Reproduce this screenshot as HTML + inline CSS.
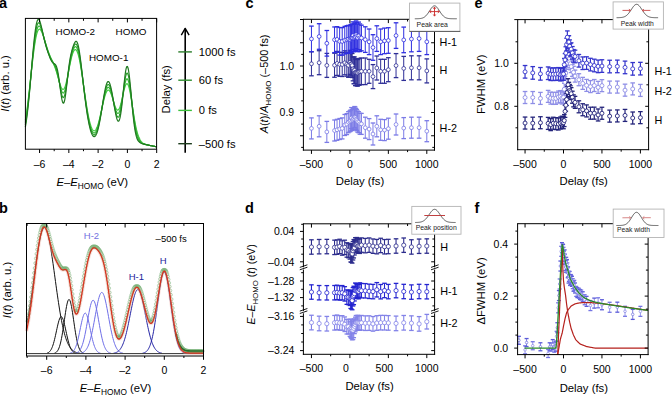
<!DOCTYPE html>
<html><head><meta charset="utf-8"><style>
html,body{margin:0;padding:0;background:#fff;}
svg{display:block;}
text{font-family:"Liberation Sans", sans-serif;}
</style></head><body>
<svg width="672" height="395" viewBox="0 0 672 395">
<rect width="672" height="395" fill="#fff"/>
<text x="-1.00" y="7.90" font-size="14.5" text-anchor="start" font-weight="bold" fill="#000">a</text>
<text x="-1.00" y="212.90" font-size="14.5" text-anchor="start" font-weight="bold" fill="#000">b</text>
<text x="245.40" y="8.00" font-size="14.5" text-anchor="start" font-weight="bold" fill="#000">c</text>
<text x="244.90" y="212.70" font-size="14.5" text-anchor="start" font-weight="bold" fill="#000">d</text>
<text x="474.60" y="7.60" font-size="14.5" text-anchor="start" font-weight="bold" fill="#000">e</text>
<text x="474.40" y="212.70" font-size="14.5" text-anchor="start" font-weight="bold" fill="#000">f</text>
<polyline points="25.36,120.27 25.73,118.06 26.09,115.71 26.46,113.25 26.82,110.67 27.19,107.97 27.56,105.16 27.92,102.25 28.29,99.25 28.65,96.16 29.02,92.99 29.39,89.76 29.75,86.48 30.12,83.16 30.48,79.82 30.85,76.46 31.22,73.12 31.58,69.79 31.95,66.51 32.31,63.28 32.68,60.12 33.05,57.05 33.41,54.09 33.78,51.24 34.14,48.52 34.51,45.96 34.88,43.55 35.24,41.31 35.61,39.24 35.97,37.36 36.34,35.68 36.71,34.18 37.07,32.89 37.44,31.79 37.80,30.88 38.17,30.18 38.54,29.66 38.90,29.32 39.27,29.16 39.63,29.17 40.00,29.33 40.37,29.64 40.73,30.09 41.10,30.66 41.46,31.35 41.83,32.13 42.20,33.00 42.56,33.95 42.93,34.97 43.29,36.03 43.66,37.14 44.03,38.29 44.39,39.45 44.76,40.63 45.12,41.82 45.49,43.01 45.86,44.18 46.22,45.35 46.59,46.50 46.95,47.63 47.32,48.74 47.69,49.82 48.05,50.86 48.42,51.88 48.78,52.87 49.15,53.83 49.52,54.76 49.88,55.66 50.25,56.53 50.61,57.38 50.98,58.21 51.35,59.03 51.71,59.83 52.08,60.63 52.44,61.43 52.81,62.23 53.18,63.05 53.54,63.88 53.91,64.74 54.27,65.63 54.64,66.55 55.01,67.52 55.37,68.53 55.74,69.59 56.10,70.69 56.47,71.84 56.84,73.04 57.20,74.27 57.57,75.54 57.93,76.83 58.30,78.13 58.67,79.44 59.03,80.73 59.40,81.99 59.76,83.21 60.13,84.37 60.50,85.44 60.86,86.42 61.23,87.28 61.59,88.01 61.96,88.60 62.33,89.03 62.69,89.29 63.06,89.37 63.42,89.26 63.79,88.97 64.16,88.50 64.52,87.84 64.89,86.99 65.25,85.98 65.62,84.81 65.99,83.50 66.35,82.05 66.72,80.48 67.08,78.82 67.45,77.08 67.82,75.27 68.18,73.42 68.55,71.55 68.91,69.67 69.28,67.81 69.65,65.97 70.01,64.17 70.38,62.43 70.74,60.76 71.11,59.18 71.48,57.68 71.84,56.29 72.21,55.01 72.57,53.85 72.94,52.81 73.31,51.91 73.67,51.14 74.04,50.52 74.40,50.05 74.77,49.73 75.14,49.56 75.50,49.56 75.87,49.71 76.23,50.03 76.60,50.51 76.97,51.16 77.33,51.97 77.70,52.95 78.06,54.08 78.43,55.37 78.80,56.81 79.16,58.40 79.53,60.12 79.89,61.98 80.26,63.95 80.63,66.04 80.99,68.23 81.36,70.51 81.72,72.86 82.09,75.28 82.46,77.76 82.82,80.27 83.19,82.82 83.55,85.38 83.92,87.94 84.29,90.50 84.65,93.05 85.02,95.56 85.38,98.04 85.75,100.47 86.12,102.84 86.48,105.15 86.85,107.39 87.21,109.55 87.58,111.63 87.95,113.62 88.31,115.52 88.68,117.32 89.04,119.02 89.41,120.61 89.78,122.10 90.14,123.47 90.51,124.73 90.87,125.87 91.24,126.90 91.61,127.81 91.97,128.60 92.34,129.27 92.70,129.82 93.07,130.25 93.44,130.55 93.80,130.73 94.17,130.79 94.53,130.73 94.90,130.54 95.27,130.24 95.63,129.82 96.00,129.28 96.36,128.63 96.73,127.87 97.10,127.01 97.46,126.04 97.83,124.97 98.19,123.81 98.56,122.56 98.93,121.23 99.29,119.82 99.66,118.35 100.02,116.83 100.39,115.25 100.76,113.64 101.12,111.99 101.49,110.33 101.85,108.67 102.22,107.00 102.59,105.36 102.95,103.74 103.32,102.17 103.68,100.64 104.05,99.18 104.42,97.80 104.78,96.50 105.15,95.30 105.51,94.20 105.88,93.22 106.25,92.36 106.61,91.63 106.98,91.04 107.34,90.59 107.71,90.28 108.08,90.11 108.44,90.09 108.81,90.21 109.17,90.47 109.54,90.87 109.91,91.40 110.27,92.05 110.64,92.81 111.00,93.68 111.37,94.63 111.74,95.67 112.10,96.77 112.47,97.93 112.83,99.11 113.20,100.32 113.57,101.53 113.93,102.72 114.30,103.87 114.66,104.98 115.03,106.02 115.40,106.97 115.76,107.82 116.13,108.55 116.49,109.16 116.86,109.62 117.23,109.93 117.59,110.07 117.96,110.05 118.32,109.85 118.69,109.48 119.06,108.93 119.42,108.21 119.79,107.32 120.15,106.28 120.52,105.09 120.89,103.78 121.25,102.35 121.62,100.82 121.98,99.23 122.35,97.59 122.72,95.93 123.08,94.27 123.45,92.64 123.81,91.08 124.18,89.60 124.55,88.23 124.91,87.00 125.28,85.93 125.64,85.05 126.01,84.36 126.38,83.89 126.74,83.65 127.11,83.65 127.47,83.89 127.84,84.37 128.21,85.10 128.57,86.06 128.94,87.25 129.30,88.65 129.67,90.26 130.04,92.04 130.40,93.99 130.77,96.08 131.13,98.28 131.50,100.58 131.87,102.94 132.23,105.27 132.60,107.63 132.96,110.00 133.33,112.34 133.70,114.65 134.06,116.90 134.43,119.08 134.79,121.17 135.16,123.17 135.53,125.07 135.89,126.86 136.26,128.53 136.62,130.08 136.99,131.51 137.36,132.82 137.72,134.02 138.09,135.10 138.45,136.07 138.82,136.94 139.19,137.74 139.55,138.57 139.92,139.32 140.28,139.98 140.65,140.58 141.02,141.10 141.38,141.57 141.75,141.98 142.11,142.35 142.48,142.67 142.85,142.96 143.21,143.21 143.58,143.44 143.94,143.64 144.31,143.82 144.68,143.98 145.04,144.13 145.41,144.26 145.77,144.38 146.14,144.50 146.51,144.60 146.87,144.70 147.24,144.80 147.60,144.89 147.97,144.98 148.34,145.06 148.70,145.15 149.07,145.23 149.43,145.31 149.80,145.39 150.17,145.47 150.53,145.54 150.90,145.62 151.26,145.70 151.63,145.77 152.00,145.85 152.36,145.92 152.73,146.00 153.09,146.07 153.46,146.15 153.83,146.22 154.19,146.30 154.56,146.37 154.92,146.45 155.29,146.52 155.66,146.60 156.02,146.67 156.39,146.75" fill="none" stroke="#44cc44" stroke-width="1.2" stroke-linejoin="round"/>
<polyline points="25.36,122.57 25.73,120.35 26.09,117.99 26.46,115.48 26.82,112.83 27.19,110.05 27.56,107.13 27.92,104.09 28.29,100.92 28.65,97.65 29.02,94.28 29.39,90.82 29.75,87.29 30.12,83.71 30.48,80.08 30.85,76.43 31.22,72.78 31.58,69.14 31.95,65.54 32.31,62.00 32.68,58.53 33.05,55.16 33.41,51.90 33.78,48.78 34.14,45.82 34.51,43.02 34.88,40.41 35.24,37.99 35.61,35.79 35.97,33.80 36.34,32.04 36.71,30.50 37.07,29.20 37.44,28.13 37.80,27.29 38.17,26.68 38.54,26.29 38.90,26.10 39.27,26.11 39.63,26.32 40.00,26.69 40.37,27.23 40.73,27.90 41.10,28.71 41.46,29.64 41.83,30.65 42.20,31.76 42.56,32.93 42.93,34.15 43.29,35.41 43.66,36.71 44.03,38.02 44.39,39.33 44.76,40.65 45.12,41.95 45.49,43.24 45.86,44.51 46.22,45.76 46.59,46.97 46.95,48.15 47.32,49.29 47.69,50.40 48.05,51.47 48.42,52.50 48.78,53.49 49.15,54.44 49.52,55.35 49.88,56.22 50.25,57.05 50.61,57.84 50.98,58.60 51.35,59.33 51.71,60.03 52.08,60.72 52.44,61.39 52.81,62.06 53.18,62.74 53.54,63.43 53.91,64.14 54.27,64.90 54.64,65.70 55.01,66.56 55.37,67.49 55.74,68.49 56.10,69.58 56.47,70.75 56.84,72.00 57.20,73.34 57.57,74.76 57.93,76.25 58.30,77.80 58.67,79.39 59.03,81.00 59.40,82.61 59.76,84.20 60.13,85.74 60.50,87.20 60.86,88.55 61.23,89.77 61.59,90.83 61.96,91.70 62.33,92.37 62.69,92.82 63.06,93.03 63.42,92.99 63.79,92.70 64.16,92.16 64.52,91.38 64.89,90.35 65.25,89.11 65.62,87.65 65.99,86.02 66.35,84.22 66.72,82.28 67.08,80.24 67.45,78.11 67.82,75.92 68.18,73.71 68.55,71.49 68.91,69.29 69.28,67.12 69.65,65.01 70.01,62.97 70.38,61.02 70.74,59.16 71.11,57.41 71.48,55.77 71.84,54.25 72.21,52.86 72.57,51.60 72.94,50.47 73.31,49.48 73.67,48.63 74.04,47.93 74.40,47.38 74.77,46.98 75.14,46.75 75.50,46.69 75.87,46.79 76.23,47.07 76.60,47.54 76.97,48.18 77.33,49.01 77.70,50.02 78.06,51.21 78.43,52.58 78.80,54.13 79.16,55.85 79.53,57.72 79.89,59.75 80.26,61.91 80.63,64.21 80.99,66.61 81.36,69.11 81.72,71.70 82.09,74.36 82.46,77.07 82.82,79.82 83.19,82.59 83.55,85.37 83.92,88.14 84.29,90.90 84.65,93.63 85.02,96.32 85.38,98.95 85.75,101.53 86.12,104.04 86.48,106.47 86.85,108.82 87.21,111.08 87.58,113.24 87.95,115.31 88.31,117.27 88.68,119.13 89.04,120.88 89.41,122.52 89.78,124.05 90.14,125.46 90.51,126.75 90.87,127.92 91.24,128.97 91.61,129.90 91.97,130.71 92.34,131.39 92.70,131.95 93.07,132.38 93.44,132.69 93.80,132.87 94.17,132.92 94.53,132.85 94.90,132.65 95.27,132.33 95.63,131.88 96.00,131.31 96.36,130.61 96.73,129.80 97.10,128.87 97.46,127.82 97.83,126.67 98.19,125.41 98.56,124.05 98.93,122.60 99.29,121.06 99.66,119.44 100.02,117.75 100.39,116.01 100.76,114.21 101.12,112.37 101.49,110.51 101.85,108.63 102.22,106.75 102.59,104.88 102.95,103.04 103.32,101.24 103.68,99.50 104.05,97.82 104.42,96.23 104.78,94.73 105.15,93.34 105.51,92.08 105.88,90.94 106.25,89.95 106.61,89.11 106.98,88.43 107.34,87.91 107.71,87.56 108.08,87.39 108.44,87.38 108.81,87.55 109.17,87.89 109.54,88.40 109.91,89.06 110.27,89.87 110.64,90.82 111.00,91.90 111.37,93.09 111.74,94.39 112.10,95.77 112.47,97.22 112.83,98.71 113.20,100.24 113.57,101.77 113.93,103.29 114.30,104.78 114.66,106.22 115.03,107.58 115.40,108.84 115.76,109.99 116.13,111.01 116.49,111.86 116.86,112.55 117.23,113.05 117.59,113.35 117.96,113.43 118.32,113.30 118.69,112.94 119.06,112.35 119.42,111.53 119.79,110.49 120.15,109.23 120.52,107.78 120.89,106.13 121.25,104.33 121.62,102.38 121.98,100.32 122.35,98.18 122.72,95.98 123.08,93.78 123.45,91.60 123.81,89.48 124.18,87.46 124.55,85.57 124.91,83.86 125.28,82.36 125.64,81.09 126.01,80.08 126.38,79.36 126.74,78.94 127.11,78.83 127.47,79.05 127.84,79.59 128.21,80.45 128.57,81.61 128.94,83.07 129.30,84.80 129.67,86.79 130.04,88.99 130.40,91.39 130.77,93.95 131.13,96.64 131.50,99.43 131.87,102.26 132.23,105.05 132.60,107.85 132.96,110.61 133.33,113.32 133.70,115.95 134.06,118.48 134.43,120.90 134.79,123.18 135.16,125.32 135.53,127.32 135.89,129.16 136.26,130.85 136.62,132.39 136.99,133.78 137.36,135.02 137.72,136.13 138.09,137.10 138.45,137.96 138.82,138.70 139.19,139.36 139.55,140.06 139.92,140.67 140.28,141.20 140.65,141.67 141.02,142.07 141.38,142.43 141.75,142.74 142.11,143.01 142.48,143.24 142.85,143.45 143.21,143.63 143.58,143.79 143.94,143.94 144.31,144.07 144.68,144.19 145.04,144.30 145.41,144.40 145.77,144.50 146.14,144.59 146.51,144.68 146.87,144.77 147.24,144.85 147.60,144.93 147.97,145.01 148.34,145.09 148.70,145.17 149.07,145.24 149.43,145.32 149.80,145.40 150.17,145.47 150.53,145.55 150.90,145.62 151.26,145.70 151.63,145.77 152.00,145.85 152.36,145.92 152.73,146.00 153.09,146.07 153.46,146.15 153.83,146.22 154.19,146.30 154.56,146.37 154.92,146.45 155.29,146.52 155.66,146.60 156.02,146.67 156.39,146.75" fill="none" stroke="#36b836" stroke-width="1.2" stroke-linejoin="round"/>
<polyline points="25.36,124.89 25.73,122.70 26.09,120.34 26.46,117.82 26.82,115.13 27.19,112.29 27.56,109.28 27.92,106.12 28.29,102.81 28.65,99.37 29.02,95.80 29.39,92.11 29.75,88.33 30.12,84.47 30.48,80.55 30.85,76.59 31.22,72.61 31.58,68.64 31.95,64.69 32.31,60.80 32.68,56.99 33.05,53.28 33.41,49.70 33.78,46.27 34.14,43.02 34.51,39.96 34.88,37.12 35.24,34.51 35.61,32.14 35.97,30.03 36.34,28.19 36.71,26.62 37.07,25.33 37.44,24.31 37.80,23.56 38.17,23.07 38.54,22.83 38.90,22.84 39.27,23.07 39.63,23.51 40.00,24.15 40.37,24.95 40.73,25.91 41.10,26.99 41.46,28.19 41.83,29.47 42.20,30.83 42.56,32.24 42.93,33.68 43.29,35.14 43.66,36.61 44.03,38.07 44.39,39.51 44.76,40.94 45.12,42.33 45.49,43.69 45.86,45.01 46.22,46.29 46.59,47.53 46.95,48.74 47.32,49.90 47.69,51.02 48.05,52.11 48.42,53.15 48.78,54.15 49.15,55.11 49.52,56.02 49.88,56.89 50.25,57.71 50.61,58.48 50.98,59.20 51.35,59.87 51.71,60.49 52.08,61.07 52.44,61.62 52.81,62.13 53.18,62.62 53.54,63.11 53.91,63.61 54.27,64.14 54.64,64.72 55.01,65.36 55.37,66.09 55.74,66.93 56.10,67.89 56.47,68.99 56.84,70.23 57.20,71.62 57.57,73.16 57.93,74.85 58.30,76.67 58.67,78.61 59.03,80.63 59.40,82.70 59.76,84.79 60.13,86.86 60.50,88.87 60.86,90.76 61.23,92.50 61.59,94.04 61.96,95.35 62.33,96.37 62.69,97.10 63.06,97.49 63.42,97.55 63.79,97.25 64.16,96.61 64.52,95.62 64.89,94.32 65.25,92.71 65.62,90.84 65.99,88.73 66.35,86.44 66.72,83.99 67.08,81.43 67.45,78.80 67.82,76.14 68.18,73.49 68.55,70.89 68.91,68.35 69.28,65.90 69.65,63.56 70.01,61.35 70.38,59.26 70.74,57.31 71.11,55.50 71.48,53.82 71.84,52.28 72.21,50.86 72.57,49.57 72.94,48.41 73.31,47.37 73.67,46.46 74.04,45.68 74.40,45.03 74.77,44.53 75.14,44.19 75.50,44.01 75.87,44.01 76.23,44.19 76.60,44.57 76.97,45.16 77.33,45.96 77.70,46.97 78.06,48.21 78.43,49.65 78.80,51.31 79.16,53.17 79.53,55.22 79.89,57.44 80.26,59.83 80.63,62.37 80.99,65.03 81.36,67.80 81.72,70.65 82.09,73.57 82.46,76.54 82.82,79.54 83.19,82.55 83.55,85.55 83.92,88.53 84.29,91.48 84.65,94.38 85.02,97.22 85.38,100.00 85.75,102.70 86.12,105.31 86.48,107.83 86.85,110.26 87.21,112.59 87.58,114.82 87.95,116.94 88.31,118.95 88.68,120.85 89.04,122.63 89.41,124.30 89.78,125.85 90.14,127.28 90.51,128.60 90.87,129.79 91.24,130.86 91.61,131.80 91.97,132.62 92.34,133.32 92.70,133.89 93.07,134.33 93.44,134.65 93.80,134.83 94.17,134.89 94.53,134.82 94.90,134.62 95.27,134.29 95.63,133.83 96.00,133.24 96.36,132.52 96.73,131.67 97.10,130.70 97.46,129.60 97.83,128.38 98.19,127.04 98.56,125.59 98.93,124.04 99.29,122.38 99.66,120.63 100.02,118.79 100.39,116.88 100.76,114.90 101.12,112.88 101.49,110.81 101.85,108.72 102.22,106.61 102.59,104.51 102.95,102.44 103.32,100.40 103.68,98.42 104.05,96.50 104.42,94.68 104.78,92.96 105.15,91.36 105.51,89.90 105.88,88.59 106.25,87.45 106.61,86.48 106.98,85.69 107.34,85.09 107.71,84.70 108.08,84.50 108.44,84.51 108.81,84.72 109.17,85.13 109.54,85.74 109.91,86.53 110.27,87.51 110.64,88.65 111.00,89.95 111.37,91.38 111.74,92.94 112.10,94.60 112.47,96.35 112.83,98.16 113.20,100.02 113.57,101.89 113.93,103.76 114.30,105.60 114.66,107.39 115.03,109.10 115.40,110.72 115.76,112.20 116.13,113.53 116.49,114.70 116.86,115.66 117.23,116.41 117.59,116.92 117.96,117.18 118.32,117.17 118.69,116.89 119.06,116.32 119.42,115.45 119.79,114.30 120.15,112.86 120.52,111.15 120.89,109.18 121.25,106.97 121.62,104.56 121.98,101.97 122.35,99.24 122.72,96.42 123.08,93.56 123.45,90.69 123.81,87.88 124.18,85.17 124.55,82.63 124.91,80.30 125.28,78.23 125.64,76.46 126.01,75.04 126.38,74.00 126.74,73.35 127.11,73.13 127.47,73.33 127.84,73.96 128.21,75.02 128.57,76.47 128.94,78.31 129.30,80.50 129.67,83.00 130.04,85.77 130.40,88.77 130.77,91.94 131.13,95.25 131.50,98.64 131.87,102.05 132.23,105.39 132.60,108.68 132.96,111.89 133.33,114.98 133.70,117.94 134.06,120.73 134.43,123.34 134.79,125.75 135.16,127.98 135.53,130.00 135.89,131.82 136.26,133.45 136.62,134.90 136.99,136.17 137.36,137.27 137.72,138.22 138.09,139.03 138.45,139.71 138.82,140.28 139.19,140.78 139.55,141.32 139.92,141.78 140.28,142.17 140.65,142.51 141.02,142.79 141.38,143.04 141.75,143.25 142.11,143.44 142.48,143.60 142.85,143.75 143.21,143.88 143.58,143.99 143.94,144.10 144.31,144.20 144.68,144.30 145.04,144.38 145.41,144.47 145.77,144.55 146.14,144.63 146.51,144.71 146.87,144.79 147.24,144.87 147.60,144.95 147.97,145.02 148.34,145.10 148.70,145.17 149.07,145.25 149.43,145.32 149.80,145.40 150.17,145.47 150.53,145.55 150.90,145.62 151.26,145.70 151.63,145.77 152.00,145.85 152.36,145.92 152.73,146.00 153.09,146.07 153.46,146.15 153.83,146.22 154.19,146.30 154.56,146.37 154.92,146.45 155.29,146.52 155.66,146.60 156.02,146.67 156.39,146.75" fill="none" stroke="#2aa02a" stroke-width="1.2" stroke-linejoin="round"/>
<polyline points="25.36,127.16 25.73,125.02 26.09,122.70 26.46,120.19 26.82,117.50 27.19,114.62 27.56,111.55 27.92,108.30 28.29,104.87 28.65,101.27 29.02,97.52 29.39,93.62 29.75,89.60 30.12,85.47 30.48,81.25 30.85,76.97 31.22,72.65 31.58,68.31 31.95,64.00 32.31,59.73 32.68,55.55 33.05,51.47 33.41,47.53 33.78,43.76 34.14,40.18 34.51,36.83 34.88,33.73 35.24,30.90 35.61,28.36 35.97,26.12 36.34,24.20 36.71,22.59 37.07,21.31 37.44,20.35 37.80,19.71 38.17,19.38 38.54,19.34 38.90,19.58 39.27,20.07 39.63,20.80 40.00,21.75 40.37,22.87 40.73,24.15 41.10,25.56 41.46,27.07 41.83,28.65 42.20,30.29 42.56,31.95 42.93,33.62 43.29,35.27 43.66,36.90 44.03,38.49 44.39,40.02 44.76,41.51 45.12,42.94 45.49,44.31 45.86,45.62 46.22,46.88 46.59,48.10 46.95,49.27 47.32,50.40 47.69,51.50 48.05,52.58 48.42,53.63 48.78,54.65 49.15,55.64 49.52,56.61 49.88,57.53 50.25,58.42 50.61,59.24 50.98,60.01 51.35,60.70 51.71,61.32 52.08,61.86 52.44,62.31 52.81,62.69 53.18,62.99 53.54,63.24 53.91,63.45 54.27,63.65 54.64,63.87 55.01,64.14 55.37,64.50 55.74,64.99 56.10,65.64 56.47,66.49 56.84,67.57 57.20,68.90 57.57,70.48 57.93,72.33 58.30,74.43 58.67,76.76 59.03,79.29 59.40,81.97 59.76,84.75 60.13,87.56 60.50,90.34 60.86,93.02 61.23,95.51 61.59,97.76 61.96,99.69 62.33,101.24 62.69,102.37 63.06,103.04 63.42,103.22 63.79,102.89 64.16,102.07 64.52,100.77 64.89,99.03 65.25,96.87 65.62,94.36 65.99,91.56 66.35,88.54 66.72,85.36 67.08,82.08 67.45,78.79 67.82,75.54 68.18,72.37 68.55,69.35 68.91,66.49 69.28,63.83 69.65,61.38 70.01,59.13 70.38,57.09 70.74,55.24 71.11,53.56 71.48,52.03 71.84,50.62 72.21,49.33 72.57,48.13 72.94,47.01 73.31,45.96 73.67,44.98 74.04,44.08 74.40,43.28 74.77,42.58 75.14,42.02 75.50,41.61 75.87,41.38 76.23,41.35 76.60,41.55 76.97,42.00 77.33,42.71 77.70,43.69 78.06,44.95 78.43,46.47 78.80,48.26 79.16,50.31 79.53,52.58 79.89,55.07 80.26,57.75 80.63,60.59 80.99,63.57 81.36,66.65 81.72,69.81 82.09,73.03 82.46,76.28 82.82,79.53 83.19,82.78 83.55,85.99 83.92,89.16 84.29,92.27 84.65,95.31 85.02,98.27 85.38,101.14 85.75,103.92 86.12,106.61 86.48,109.19 86.85,111.67 87.21,114.04 87.58,116.30 87.95,118.45 88.31,120.49 88.68,122.41 89.04,124.21 89.41,125.90 89.78,127.47 90.14,128.92 90.51,130.24 90.87,131.45 91.24,132.53 91.61,133.49 91.97,134.32 92.34,135.02 92.70,135.61 93.07,136.06 93.44,136.39 93.80,136.58 94.17,136.65 94.53,136.59 94.90,136.40 95.27,136.07 95.63,135.61 96.00,135.02 96.36,134.29 96.73,133.43 97.10,132.44 97.46,131.31 97.83,130.05 98.19,128.66 98.56,127.14 98.93,125.50 99.29,123.75 99.66,121.88 100.02,119.92 100.39,117.86 100.76,115.72 101.12,113.51 101.49,111.25 101.85,108.94 102.22,106.61 102.59,104.28 102.95,101.96 103.32,99.67 103.68,97.43 104.05,95.27 104.42,93.20 104.78,91.24 105.15,89.42 105.51,87.75 105.88,86.24 106.25,84.92 106.61,83.80 106.98,82.90 107.34,82.21 107.71,81.75 108.08,81.53 108.44,81.54 108.81,81.79 109.17,82.28 109.54,82.99 109.91,83.92 110.27,85.06 110.64,86.39 111.00,87.90 111.37,89.58 111.74,91.40 112.10,93.34 112.47,95.39 112.83,97.51 113.20,99.69 113.57,101.89 113.93,104.10 114.30,106.29 114.66,108.42 115.03,110.49 115.40,112.45 115.76,114.28 116.13,115.95 116.49,117.45 116.86,118.73 117.23,119.78 117.59,120.56 117.96,121.07 118.32,121.27 118.69,121.14 119.06,120.67 119.42,119.85 119.79,118.67 120.15,117.12 120.52,115.21 120.89,112.96 121.25,110.38 121.62,107.50 121.98,104.35 122.35,100.98 122.72,97.44 123.08,93.79 123.45,90.10 123.81,86.44 124.18,82.88 124.55,79.49 124.91,76.36 125.28,73.56 125.64,71.14 126.01,69.17 126.38,67.70 126.74,66.77 127.11,66.40 127.47,66.61 127.84,67.39 128.21,68.73 128.57,70.61 128.94,72.98 129.30,75.79 129.67,78.99 130.04,82.51 130.40,86.29 130.77,90.25 131.13,94.33 131.50,98.46 131.87,102.55 132.23,106.51 132.60,110.34 132.96,114.00 133.33,117.46 133.70,120.69 134.06,123.67 134.43,126.39 134.79,128.85 135.16,131.05 135.53,132.99 135.89,134.69 136.26,136.16 136.62,137.41 136.99,138.48 137.36,139.37 137.72,140.10 138.09,140.70 138.45,141.18 138.82,141.56 139.19,141.88 139.55,142.26 139.92,142.57 140.28,142.83 140.65,143.06 141.02,143.25 141.38,143.41 141.75,143.55 142.11,143.68 142.48,143.79 142.85,143.90 143.21,143.99 143.58,144.09 143.94,144.17 144.31,144.26 144.68,144.34 145.04,144.42 145.41,144.49 145.77,144.57 146.14,144.65 146.51,144.72 146.87,144.80 147.24,144.87 147.60,144.95 147.97,145.02 148.34,145.10 148.70,145.17 149.07,145.25 149.43,145.32 149.80,145.40 150.17,145.47 150.53,145.55 150.90,145.62 151.26,145.70 151.63,145.77 152.00,145.85 152.36,145.92 152.73,146.00 153.09,146.07 153.46,146.15 153.83,146.22 154.19,146.30 154.56,146.37 154.92,146.45 155.29,146.52 155.66,146.60 156.02,146.67 156.39,146.75" fill="none" stroke="#207a20" stroke-width="1.2" stroke-linejoin="round"/>
<rect x="25.4" y="18.4" width="131.20" height="130.80" fill="none" stroke="#000" stroke-width="1.0"/>
<line x1="39.56" y1="149.20" x2="39.56" y2="153.00" stroke="#000" stroke-width="1.0"/>
<line x1="39.56" y1="18.40" x2="39.56" y2="22.40" stroke="#000" stroke-width="1.0"/>
<text x="39.56" y="167.70" font-size="10.5" text-anchor="middle" font-weight="normal" fill="#000">–6</text>
<line x1="54.20" y1="149.20" x2="54.20" y2="151.20" stroke="#000" stroke-width="1.0"/>
<line x1="54.20" y1="18.40" x2="54.20" y2="20.80" stroke="#000" stroke-width="1.0"/>
<line x1="68.84" y1="149.20" x2="68.84" y2="153.00" stroke="#000" stroke-width="1.0"/>
<line x1="68.84" y1="18.40" x2="68.84" y2="22.40" stroke="#000" stroke-width="1.0"/>
<text x="68.84" y="167.70" font-size="10.5" text-anchor="middle" font-weight="normal" fill="#000">–4</text>
<line x1="83.48" y1="149.20" x2="83.48" y2="151.20" stroke="#000" stroke-width="1.0"/>
<line x1="83.48" y1="18.40" x2="83.48" y2="20.80" stroke="#000" stroke-width="1.0"/>
<line x1="98.12" y1="149.20" x2="98.12" y2="153.00" stroke="#000" stroke-width="1.0"/>
<line x1="98.12" y1="18.40" x2="98.12" y2="22.40" stroke="#000" stroke-width="1.0"/>
<text x="98.12" y="167.70" font-size="10.5" text-anchor="middle" font-weight="normal" fill="#000">–2</text>
<line x1="112.76" y1="149.20" x2="112.76" y2="151.20" stroke="#000" stroke-width="1.0"/>
<line x1="112.76" y1="18.40" x2="112.76" y2="20.80" stroke="#000" stroke-width="1.0"/>
<line x1="127.40" y1="149.20" x2="127.40" y2="153.00" stroke="#000" stroke-width="1.0"/>
<line x1="127.40" y1="18.40" x2="127.40" y2="22.40" stroke="#000" stroke-width="1.0"/>
<text x="127.40" y="167.70" font-size="10.5" text-anchor="middle" font-weight="normal" fill="#000">0</text>
<line x1="142.04" y1="149.20" x2="142.04" y2="151.20" stroke="#000" stroke-width="1.0"/>
<line x1="142.04" y1="18.40" x2="142.04" y2="20.80" stroke="#000" stroke-width="1.0"/>
<line x1="156.68" y1="149.20" x2="156.68" y2="153.00" stroke="#000" stroke-width="1.0"/>
<line x1="156.68" y1="18.40" x2="156.68" y2="22.40" stroke="#000" stroke-width="1.0"/>
<text x="156.68" y="167.70" font-size="10.5" text-anchor="middle" font-weight="normal" fill="#000">2</text>
<text x="92.30" y="185.80" font-size="11.3" text-anchor="middle" font-weight="normal" fill="#000"><tspan font-style="italic">E</tspan>–<tspan font-style="italic">E</tspan><tspan font-size="8.3" dy="2.9">HOMO</tspan><tspan dy="-2.9"> (eV)</tspan></text>
<text x="8.70" y="83.40" font-size="11.3" text-anchor="middle" font-weight="normal" fill="#000" transform="rotate(-90 8.70 83.40)"><tspan font-style="italic">I</tspan>(<tspan font-style="italic">t</tspan>) (arb. u.)</text>
<text x="55.50" y="34.70" font-size="9.9" text-anchor="start" font-weight="normal" fill="#000">HOMO-2</text>
<text x="115.60" y="34.80" font-size="9.9" text-anchor="start" font-weight="normal" fill="#000">HOMO</text>
<text x="88.90" y="60.60" font-size="9.9" text-anchor="start" font-weight="normal" fill="#000">HOMO-1</text>
<line x1="185.20" y1="28.60" x2="185.20" y2="152.80" stroke="#000" stroke-width="1.6"/>
<polyline points="181.30,35.20 185.20,28.40 189.10,35.20" fill="none" stroke="#000" stroke-width="1.4" stroke-linejoin="round"/>
<line x1="178.30" y1="51.90" x2="191.90" y2="51.90" stroke="#2b7d2b" stroke-width="1.4"/>
<text x="198.80" y="55.80" font-size="11.2" text-anchor="start" font-weight="normal" fill="#000">1000 fs</text>
<line x1="178.30" y1="80.20" x2="191.90" y2="80.20" stroke="#2f8f2f" stroke-width="1.4"/>
<text x="198.80" y="84.10" font-size="11.2" text-anchor="start" font-weight="normal" fill="#000">60 fs</text>
<line x1="178.30" y1="110.40" x2="191.90" y2="110.40" stroke="#3cc03c" stroke-width="1.4"/>
<text x="198.80" y="114.30" font-size="11.2" text-anchor="start" font-weight="normal" fill="#000">0 fs</text>
<line x1="178.30" y1="143.70" x2="191.90" y2="143.70" stroke="#1c3c1c" stroke-width="1.4"/>
<text x="198.80" y="147.60" font-size="11.2" text-anchor="start" font-weight="normal" fill="#000">–500 fs</text>
<text x="169.90" y="89.30" font-size="11.3" text-anchor="middle" font-weight="normal" fill="#000" transform="rotate(-90 169.90 89.30)">Delay (fs)</text>
<polyline points="26.50,325.42 27.00,323.01 27.50,320.47 28.00,317.81 28.50,315.02 29.00,312.10 29.50,309.07 30.00,305.93 30.50,302.68 31.00,299.34 31.50,295.91 32.00,292.41 32.50,288.85 33.00,285.23 33.50,281.58 34.00,277.91 34.50,274.24 35.00,270.58 35.50,266.95 36.00,263.38 36.50,259.87 37.00,256.45 37.50,253.14 38.00,249.96 38.50,246.92 39.00,244.04 39.50,241.35 40.00,238.86 40.50,236.58 41.00,234.54 41.50,232.73 42.00,231.19 42.50,229.91 43.00,228.90 43.50,228.18 44.00,227.75 44.50,227.60 45.00,227.75 45.50,228.18 46.00,228.90 46.50,229.91 47.00,231.19 47.50,232.73 48.00,234.54 48.50,236.58 49.00,238.86 49.50,241.35 50.00,244.04 50.50,246.92 51.00,249.96 51.50,253.14 52.00,256.45 52.50,259.87 53.00,263.38 53.50,266.95 54.00,270.58 54.50,274.24 55.00,277.91 55.50,281.58 56.00,285.23 56.50,288.85 57.00,292.41 57.50,295.91 58.00,299.34 58.50,302.68 59.00,305.93 59.50,309.07 60.00,312.10 60.50,315.02 61.00,317.81 61.50,320.47 62.00,323.01 62.50,325.42 63.00,327.70 63.50,329.85 64.00,331.87 64.50,333.77 65.00,335.54 65.50,337.19 66.00,338.73 66.50,340.15 67.00,341.47 67.50,342.68 68.00,343.79 68.50,344.81 69.00,345.74 69.50,346.59 70.00,347.36 70.50,348.06 71.00,348.70 71.50,349.27 72.00,349.78 72.50,350.24 73.00,350.65 73.50,351.02 74.00,351.34 74.50,351.63 75.00,351.89 75.50,352.12 76.00,352.32 76.50,352.49 77.00,352.65 77.50,352.78 78.00,352.90 78.50,353.00 79.00,353.09 79.50,353.16 80.00,353.23" fill="none" stroke="#111" stroke-width="1.0" stroke-linejoin="round"/>
<polyline points="47.00,353.14 47.50,352.97 48.00,352.76 48.50,352.49 49.00,352.14 49.50,351.71 50.00,351.17 50.50,350.52 51.00,349.74 51.50,348.81 52.00,347.72 52.50,346.46 53.00,345.02 53.50,343.41 54.00,341.62 54.50,339.67 55.00,337.58 55.50,335.37 56.00,333.08 56.50,330.75 57.00,328.44 57.50,326.18 58.00,324.05 58.50,322.10 59.00,320.38 59.50,318.94 60.00,317.84 60.50,317.09 61.00,316.73 61.50,316.77 62.00,317.21 62.50,318.03 63.00,319.21 63.50,320.70 64.00,322.47 64.50,324.47 65.00,326.63 65.50,328.90 66.00,331.22 66.50,333.54 67.00,335.82 67.50,338.01 68.00,340.07 68.50,341.99 69.00,343.75 69.50,345.33 70.00,346.73 70.50,347.95 71.00,349.01 71.50,349.91 72.00,350.66 72.50,351.29 73.00,351.80 73.50,352.22 74.00,352.55 74.50,352.81 75.00,353.01 75.50,353.16" fill="none" stroke="#111" stroke-width="1.0" stroke-linejoin="round"/>
<polyline points="54.50,353.14 55.00,352.96 55.50,352.72 56.00,352.42 56.50,352.02 57.00,351.52 57.50,350.88 58.00,350.10 58.50,349.13 59.00,347.96 59.50,346.57 60.00,344.94 60.50,343.04 61.00,340.87 61.50,338.43 62.00,335.72 62.50,332.77 63.00,329.61 63.50,326.27 64.00,322.82 64.50,319.33 65.00,315.87 65.50,312.52 66.00,309.39 66.50,306.55 67.00,304.09 67.50,302.09 68.00,300.61 68.50,299.71 69.00,299.40 69.50,299.71 70.00,300.61 70.50,302.09 71.00,304.09 71.50,306.55 72.00,309.39 72.50,312.52 73.00,315.87 73.50,319.33 74.00,322.82 74.50,326.27 75.00,329.61 75.50,332.77 76.00,335.72 76.50,338.43 77.00,340.87 77.50,343.04 78.00,344.94 78.50,346.57 79.00,347.96 79.50,349.13 80.00,350.10 80.50,350.88 81.00,351.52 81.50,352.02 82.00,352.42 82.50,352.72 83.00,352.96 83.50,353.14" fill="none" stroke="#111" stroke-width="1.0" stroke-linejoin="round"/>
<polyline points="70.00,353.20 70.50,353.06 71.00,352.88 71.50,352.65 72.00,352.36 72.50,351.99 73.00,351.54 73.50,350.98 74.00,350.30 74.50,349.50 75.00,348.54 75.50,347.43 76.00,346.15 76.50,344.69 77.00,343.05 77.50,341.23 78.00,339.24 78.50,337.10 79.00,334.83 79.50,332.45 80.00,330.02 80.50,327.56 81.00,325.14 81.50,322.80 82.00,320.60 82.50,318.59 83.00,316.84 83.50,315.37 84.00,314.25 84.50,313.49 85.00,313.13 85.50,313.17 86.00,313.62 86.50,314.45 87.00,315.64 87.50,317.17 88.00,318.98 88.50,321.03 89.00,323.26 89.50,325.62 90.00,328.05 90.50,330.51 91.00,332.93 91.50,335.29 92.00,337.54 92.50,339.65 93.00,341.60 93.50,343.39 94.00,344.99 94.50,346.42 95.00,347.67 95.50,348.75 96.00,349.67 96.50,350.45 97.00,351.10 97.50,351.63 98.00,352.07 98.50,352.42 99.00,352.70 99.50,352.92 100.00,353.09 100.50,353.22" fill="none" stroke="#6e6ee8" stroke-width="1.0" stroke-linejoin="round"/>
<polyline points="75.50,353.18 76.00,353.05 76.50,352.89 77.00,352.68 77.50,352.42 78.00,352.10 78.50,351.71 79.00,351.23 79.50,350.65 80.00,349.97 80.50,349.16 81.00,348.21 81.50,347.11 82.00,345.85 82.50,344.41 83.00,342.79 83.50,340.99 84.00,339.00 84.50,336.83 85.00,334.49 85.50,331.99 86.00,329.35 86.50,326.61 87.00,323.79 87.50,320.92 88.00,318.07 88.50,315.26 89.00,312.56 89.50,310.01 90.00,307.66 90.50,305.57 91.00,303.76 91.50,302.30 92.00,301.20 92.50,300.50 93.00,300.21 93.50,300.33 94.00,300.87 94.50,301.81 95.00,303.14 95.50,304.81 96.00,306.79 96.50,309.04 97.00,311.52 97.50,314.17 98.00,316.94 98.50,319.78 99.00,322.64 99.50,325.49 100.00,328.27 100.50,330.95 101.00,333.51 101.50,335.92 102.00,338.16 102.50,340.22 103.00,342.10 103.50,343.79 104.00,345.29 104.50,346.63 105.00,347.79 105.50,348.80 106.00,349.66 106.50,350.39 107.00,351.01 107.50,351.53 108.00,351.95 108.50,352.30 109.00,352.58 109.50,352.81 110.00,352.99 110.50,353.13 111.00,353.25" fill="none" stroke="#6e6ee8" stroke-width="1.0" stroke-linejoin="round"/>
<polyline points="80.50,353.21 81.00,353.11 81.50,352.98 82.00,352.82 82.50,352.63 83.00,352.41 83.50,352.13 84.00,351.80 84.50,351.42 85.00,350.96 85.50,350.43 86.00,349.81 86.50,349.09 87.00,348.26 87.50,347.33 88.00,346.26 88.50,345.07 89.00,343.73 89.50,342.25 90.00,340.62 90.50,338.84 91.00,336.91 91.50,334.83 92.00,332.60 92.50,330.25 93.00,327.77 93.50,325.19 94.00,322.52 94.50,319.80 95.00,317.03 95.50,314.27 96.00,311.53 96.50,308.84 97.00,306.25 97.50,303.79 98.00,301.49 98.50,299.39 99.00,297.52 99.50,295.90 100.00,294.57 100.50,293.54 101.00,292.83 101.50,292.46 102.00,292.43 102.50,292.73 103.00,293.37 103.50,294.34 104.00,295.61 104.50,297.17 105.00,299.00 105.50,301.06 106.00,303.32 106.50,305.75 107.00,308.32 107.50,310.98 108.00,313.72 108.50,316.48 109.00,319.25 109.50,321.98 110.00,324.66 110.50,327.26 111.00,329.76 111.50,332.14 112.00,334.39 112.50,336.50 113.00,338.47 113.50,340.28 114.00,341.94 114.50,343.45 115.00,344.81 115.50,346.03 116.00,347.12 116.50,348.09 117.00,348.93 117.50,349.67 118.00,350.31 118.50,350.86 119.00,351.33 119.50,351.73 120.00,352.07 120.50,352.35 121.00,352.59 121.50,352.79 122.00,352.95 122.50,353.08 123.00,353.19" fill="none" stroke="#6e6ee8" stroke-width="1.0" stroke-linejoin="round"/>
<polyline points="113.50,353.21 114.00,353.13 114.50,353.02 115.00,352.89 115.50,352.74 116.00,352.55 116.50,352.34 117.00,352.09 117.50,351.79 118.00,351.45 118.50,351.05 119.00,350.60 119.50,350.07 120.00,349.48 120.50,348.80 121.00,348.04 121.50,347.18 122.00,346.23 122.50,345.16 123.00,343.99 123.50,342.70 124.00,341.29 124.50,339.76 125.00,338.10 125.50,336.33 126.00,334.43 126.50,332.41 127.00,330.28 127.50,328.05 128.00,325.73 128.50,323.33 129.00,320.86 129.50,318.35 130.00,315.80 130.50,313.25 131.00,310.71 131.50,308.21 132.00,305.77 132.50,303.41 133.00,301.17 133.50,299.07 134.00,297.12 134.50,295.36 135.00,293.80 135.50,292.46 136.00,291.37 136.50,290.53 137.00,289.95 137.50,289.65 138.00,289.62 138.50,289.87 139.00,290.39 139.50,291.18 140.00,292.23 140.50,293.51 141.00,295.03 141.50,296.75 142.00,298.66 142.50,300.74 143.00,302.96 143.50,305.29 144.00,307.72 144.50,310.21 145.00,312.74 145.50,315.29 146.00,317.84 146.50,320.36 147.00,322.84 147.50,325.26 148.00,327.60 148.50,329.84 149.00,331.99 149.50,334.03 150.00,335.96 150.50,337.76 151.00,339.44 151.50,340.99 152.00,342.43 152.50,343.74 153.00,344.94 153.50,346.02 154.00,347.00 154.50,347.88 155.00,348.66 155.50,349.35 156.00,349.96 156.50,350.50 157.00,350.97 157.50,351.38 158.00,351.73 158.50,352.03 159.00,352.29 159.50,352.51 160.00,352.70 160.50,352.86 161.00,352.99 161.50,353.11 162.00,353.20" fill="none" stroke="#2626a6" stroke-width="1.0" stroke-linejoin="round"/>
<polyline points="142.50,353.23 143.00,353.13 143.50,353.00 144.00,352.85 144.50,352.65 145.00,352.42 145.50,352.13 146.00,351.78 146.50,351.36 147.00,350.87 147.50,350.28 148.00,349.59 148.50,348.79 149.00,347.85 149.50,346.78 150.00,345.55 150.50,344.15 151.00,342.57 151.50,340.80 152.00,338.84 152.50,336.67 153.00,334.29 153.50,331.70 154.00,328.91 154.50,325.92 155.00,322.75 155.50,319.41 156.00,315.93 156.50,312.33 157.00,308.65 157.50,304.92 158.00,301.18 158.50,297.47 159.00,293.85 159.50,290.35 160.00,287.04 160.50,283.95 161.00,281.14 161.50,278.64 162.00,276.50 162.50,274.76 163.00,273.44 163.50,272.56 164.00,272.14 164.50,272.18 165.00,272.70 165.50,273.67 166.00,275.08 166.50,276.90 167.00,279.11 167.50,281.68 168.00,284.55 168.50,287.68 169.00,291.04 169.50,294.56 170.00,298.21 170.50,301.92 171.00,305.67 171.50,309.39 172.00,313.06 172.50,316.64 173.00,320.09 173.50,323.40 174.00,326.54 174.50,329.48 175.00,332.23 175.50,334.78 176.00,337.12 176.50,339.25 177.00,341.17 177.50,342.90 178.00,344.44 178.50,345.81 179.00,347.00 179.50,348.05 180.00,348.96 180.50,349.74 181.00,350.41 181.50,350.97 182.00,351.45 182.50,351.86 183.00,352.19 183.50,352.47 184.00,352.69 184.50,352.88 185.00,353.03 185.50,353.15" fill="none" stroke="#2626a6" stroke-width="1.0" stroke-linejoin="round"/>
<line x1="26.50" y1="353.60" x2="203.50" y2="353.60" stroke="#333" stroke-width="1.0"/>
<polyline points="26.50,331.08 27.00,328.79 27.50,326.34 28.00,323.73 28.50,320.96 29.00,318.03 29.50,314.94 30.00,311.70 30.50,308.32 31.00,304.80 31.50,301.15 32.00,297.39 32.50,293.53 33.00,289.58 33.50,285.57 34.00,281.51 34.50,277.43 35.00,273.34 35.50,269.28 36.00,265.26 36.50,261.32 37.00,257.47 37.50,253.75 38.00,250.18 38.50,246.79 39.00,243.59 39.50,240.63 40.00,237.91 40.50,235.47 41.00,233.30 41.50,231.44 42.00,229.90 42.50,228.67 43.00,227.77 43.50,227.20 44.00,226.95 44.50,227.01 45.00,227.38 45.50,228.04 46.00,228.97 46.50,230.14 47.00,231.52 47.50,233.09 48.00,234.82 48.50,236.65 49.00,238.57 49.50,240.54 50.00,242.52 50.50,244.47 51.00,246.39 51.50,248.23 52.00,249.98 52.50,251.64 53.00,253.18 53.50,254.62 54.00,255.95 54.50,257.18 55.00,258.34 55.50,259.43 56.00,260.46 56.50,261.46 57.00,262.43 57.50,263.39 58.00,264.33 58.50,265.24 59.00,266.13 59.50,266.97 60.00,267.74 60.50,268.43 61.00,269.00 61.50,269.45 62.00,269.75 62.50,269.92 63.00,269.96 63.50,269.90 64.00,269.77 64.50,269.62 65.00,269.52 65.50,269.52 66.00,269.72 66.50,270.17 67.00,270.93 67.50,272.05 68.00,273.57 68.50,275.50 69.00,277.83 69.50,280.53 70.00,283.54 70.50,286.79 71.00,290.21 71.50,293.69 72.00,297.14 72.50,300.46 73.00,303.56 73.50,306.36 74.00,308.80 74.50,310.81 75.00,312.37 75.50,313.45 76.00,314.05 76.50,314.17 77.00,313.84 77.50,313.08 78.00,311.93 78.50,310.42 79.00,308.60 79.50,306.50 80.00,304.17 80.50,301.64 81.00,298.95 81.50,296.13 82.00,293.22 82.50,290.25 83.00,287.24 83.50,284.22 84.00,281.21 84.50,278.24 85.00,275.33 85.50,272.49 86.00,269.75 86.50,267.13 87.00,264.63 87.50,262.29 88.00,260.10 88.50,258.08 89.00,256.24 89.50,254.58 90.00,253.11 90.50,251.83 91.00,250.75 91.50,249.84 92.00,249.12 92.50,248.57 93.00,248.17 93.50,247.93 94.00,247.83 94.50,247.85 95.00,247.98 95.50,248.21 96.00,248.52 96.50,248.91 97.00,249.36 97.50,249.88 98.00,250.45 98.50,251.08 99.00,251.77 99.50,252.53 100.00,253.37 100.50,254.29 101.00,255.32 101.50,256.47 102.00,257.75 102.50,259.18 103.00,260.77 103.50,262.55 104.00,264.52 104.50,266.69 105.00,269.06 105.50,271.63 106.00,274.40 106.50,277.35 107.00,280.48 107.50,283.77 108.00,287.18 108.50,290.69 109.00,294.28 109.50,297.90 110.00,301.53 110.50,305.14 111.00,308.68 111.50,312.13 112.00,315.45 112.50,318.62 113.00,321.61 113.50,324.40 114.00,326.97 114.50,329.31 115.00,331.41 115.50,333.25 116.00,334.83 116.50,336.16 117.00,337.23 117.50,338.04 118.00,338.61 118.50,338.94 119.00,339.04 119.50,338.91 120.00,338.58 120.50,338.03 121.00,337.30 121.50,336.38 122.00,335.30 122.50,334.05 123.00,332.65 123.50,331.12 124.00,329.46 124.50,327.68 125.00,325.80 125.50,323.82 126.00,321.77 126.50,319.65 127.00,317.48 127.50,315.27 128.00,313.04 128.50,310.81 129.00,308.59 129.50,306.39 130.00,304.24 130.50,302.14 131.00,300.13 131.50,298.21 132.00,296.40 132.50,294.72 133.00,293.18 133.50,291.80 134.00,290.58 134.50,289.55 135.00,288.70 135.50,288.05 136.00,287.60 136.50,287.36 137.00,287.33 137.50,287.51 138.00,287.89 138.50,288.48 139.00,289.26 139.50,290.23 140.00,291.37 140.50,292.68 141.00,294.13 141.50,295.72 142.00,297.43 142.50,299.23 143.00,301.11 143.50,303.05 144.00,305.02 144.50,307.00 145.00,308.98 145.50,310.92 146.00,312.80 146.50,314.60 147.00,316.29 147.50,317.86 148.00,319.28 148.50,320.52 149.00,321.57 149.50,322.40 150.00,323.01 150.50,323.36 151.00,323.46 151.50,323.28 152.00,322.81 152.50,322.06 153.00,321.01 153.50,319.68 154.00,318.06 154.50,316.17 155.00,314.02 155.50,311.64 156.00,309.04 156.50,306.26 157.00,303.32 157.50,300.28 158.00,297.17 158.50,294.04 159.00,290.92 159.50,287.88 160.00,284.96 160.50,282.21 161.00,279.67 161.50,277.40 162.00,275.42 162.50,273.79 163.00,272.53 163.50,271.66 164.00,271.20 164.50,271.17 165.00,271.57 165.50,272.39 166.00,273.63 166.50,275.26 167.00,277.27 167.50,279.62 168.00,282.28 168.50,285.21 169.00,288.37 169.50,291.72 170.00,295.21 170.50,298.79 171.00,302.43 171.50,306.08 172.00,309.71 172.50,313.27 173.00,316.74 173.50,320.08 174.00,323.28 174.50,326.32 175.00,329.18 175.50,331.85 176.00,334.33 176.50,336.60 177.00,338.68 177.50,340.57 178.00,342.27 178.50,343.79 179.00,345.14 179.50,346.34 180.00,347.38 180.50,348.30 181.00,349.09 181.50,349.77 182.00,350.35 182.50,350.84 183.00,351.26 183.50,351.61 184.00,351.90 184.50,352.14 185.00,352.34 185.50,352.50 186.00,352.63 186.50,352.74 187.00,352.83 187.50,352.90 188.00,352.95 188.50,352.99 189.00,353.03 189.50,353.05 190.00,353.07 190.50,353.09 191.00,353.10 191.50,353.11 192.00,353.12 192.50,353.12 193.00,353.13 193.50,353.13 194.00,353.13 194.50,353.14 195.00,353.14 195.50,353.14 196.00,353.14 196.50,353.14 197.00,353.14 197.50,353.14 198.00,353.14 198.50,353.14 199.00,353.14 199.50,353.14 200.00,353.14 200.50,353.14 201.00,353.14 201.50,353.14 202.00,353.14 202.50,353.14 203.00,353.14 203.50,353.14" fill="none" stroke="#eeb0a4" stroke-width="3.4" stroke-linejoin="round" opacity="0.4"/>
<g fill="none" stroke="#348a34" stroke-width="0.5" opacity="0.7"><circle cx="27.5" cy="321.1" r="1.5"/><circle cx="28.1" cy="317.7" r="1.5"/><circle cx="28.7" cy="313.9" r="1.5"/><circle cx="29.3" cy="310.0" r="1.5"/><circle cx="29.9" cy="305.9" r="1.5"/><circle cx="30.5" cy="301.6" r="1.5"/><circle cx="31.1" cy="297.1" r="1.5"/><circle cx="31.7" cy="292.4" r="1.5"/><circle cx="32.3" cy="287.7" r="1.5"/><circle cx="32.9" cy="282.8" r="1.5"/><circle cx="33.5" cy="277.9" r="1.5"/><circle cx="34.1" cy="273.0" r="1.5"/><circle cx="34.7" cy="268.1" r="1.5"/><circle cx="35.3" cy="263.2" r="1.5"/><circle cx="35.9" cy="258.5" r="1.5"/><circle cx="36.5" cy="253.9" r="1.5"/><circle cx="37.1" cy="249.6" r="1.5"/><circle cx="37.7" cy="245.4" r="1.5"/><circle cx="38.3" cy="241.6" r="1.5"/><circle cx="38.9" cy="238.1" r="1.5"/><circle cx="39.5" cy="235.0" r="1.5"/><circle cx="40.1" cy="232.3" r="1.5"/><circle cx="40.7" cy="230.0" r="1.5"/><circle cx="41.3" cy="228.2" r="1.5"/><circle cx="41.9" cy="226.8" r="1.5"/><circle cx="42.5" cy="226.0" r="1.5"/><circle cx="43.1" cy="225.5" r="1.5"/><circle cx="43.7" cy="225.6" r="1.5"/><circle cx="44.3" cy="225.5" r="1.5"/><circle cx="44.9" cy="225.5" r="1.5"/><circle cx="45.5" cy="225.7" r="1.5"/><circle cx="46.1" cy="226.3" r="1.5"/><circle cx="46.7" cy="227.3" r="1.5"/><circle cx="47.3" cy="228.7" r="1.5"/><circle cx="47.9" cy="230.4" r="1.5"/><circle cx="48.5" cy="232.4" r="1.5"/><circle cx="49.1" cy="234.5" r="1.5"/><circle cx="49.7" cy="236.8" r="1.5"/><circle cx="50.3" cy="239.2" r="1.5"/><circle cx="50.9" cy="241.6" r="1.5"/><circle cx="51.5" cy="243.9" r="1.5"/><circle cx="52.1" cy="246.2" r="1.5"/><circle cx="52.7" cy="248.3" r="1.5"/><circle cx="53.3" cy="250.3" r="1.5"/><circle cx="53.9" cy="252.2" r="1.5"/><circle cx="54.5" cy="253.9" r="1.5"/><circle cx="55.1" cy="255.4" r="1.5"/><circle cx="55.7" cy="256.8" r="1.5"/><circle cx="56.3" cy="258.2" r="1.5"/><circle cx="56.9" cy="259.4" r="1.5"/><circle cx="57.5" cy="260.6" r="1.5"/><circle cx="58.1" cy="261.8" r="1.5"/><circle cx="58.7" cy="262.9" r="1.5"/><circle cx="59.3" cy="264.0" r="1.5"/><circle cx="59.9" cy="265.1" r="1.5"/><circle cx="60.5" cy="266.1" r="1.5"/><circle cx="61.1" cy="266.9" r="1.5"/><circle cx="61.7" cy="267.7" r="1.5"/><circle cx="62.3" cy="268.2" r="1.5"/><circle cx="62.9" cy="268.6" r="1.5"/><circle cx="63.5" cy="268.5" r="1.5"/><circle cx="64.1" cy="268.3" r="1.5"/><circle cx="64.7" cy="268.3" r="1.5"/><circle cx="65.3" cy="268.3" r="1.5"/><circle cx="65.9" cy="268.3" r="1.5"/><circle cx="66.5" cy="268.4" r="1.5"/><circle cx="67.1" cy="268.7" r="1.5"/><circle cx="67.7" cy="269.5" r="1.5"/><circle cx="68.3" cy="270.8" r="1.5"/><circle cx="68.9" cy="272.7" r="1.5"/><circle cx="69.5" cy="275.2" r="1.5"/><circle cx="70.1" cy="278.2" r="1.5"/><circle cx="70.7" cy="281.8" r="1.5"/><circle cx="71.3" cy="285.7" r="1.5"/><circle cx="71.9" cy="289.8" r="1.5"/><circle cx="72.5" cy="294.0" r="1.5"/><circle cx="73.1" cy="298.1" r="1.5"/><circle cx="73.7" cy="301.9" r="1.5"/><circle cx="74.3" cy="305.3" r="1.5"/><circle cx="74.9" cy="308.2" r="1.5"/><circle cx="75.5" cy="310.5" r="1.5"/><circle cx="76.1" cy="312.1" r="1.5"/><circle cx="76.7" cy="312.1" r="1.5"/><circle cx="77.3" cy="310.6" r="1.5"/><circle cx="77.9" cy="308.7" r="1.5"/><circle cx="78.5" cy="306.3" r="1.5"/><circle cx="79.1" cy="303.6" r="1.5"/><circle cx="79.7" cy="300.6" r="1.5"/><circle cx="80.3" cy="297.3" r="1.5"/><circle cx="80.9" cy="293.9" r="1.5"/><circle cx="81.5" cy="290.3" r="1.5"/><circle cx="82.1" cy="286.7" r="1.5"/><circle cx="82.7" cy="283.1" r="1.5"/><circle cx="83.3" cy="279.4" r="1.5"/><circle cx="83.9" cy="275.9" r="1.5"/><circle cx="84.5" cy="272.4" r="1.5"/><circle cx="85.1" cy="269.1" r="1.5"/><circle cx="85.7" cy="265.9" r="1.5"/><circle cx="86.3" cy="262.9" r="1.5"/><circle cx="86.9" cy="260.1" r="1.5"/><circle cx="87.5" cy="257.6" r="1.5"/><circle cx="88.1" cy="255.3" r="1.5"/><circle cx="88.7" cy="253.3" r="1.5"/><circle cx="89.3" cy="251.5" r="1.5"/><circle cx="89.9" cy="250.1" r="1.5"/><circle cx="90.5" cy="248.9" r="1.5"/><circle cx="91.1" cy="247.9" r="1.5"/><circle cx="91.7" cy="247.2" r="1.5"/><circle cx="92.3" cy="246.8" r="1.5"/><circle cx="92.9" cy="246.5" r="1.5"/><circle cx="93.5" cy="246.5" r="1.5"/><circle cx="94.1" cy="246.5" r="1.5"/><circle cx="94.7" cy="246.5" r="1.5"/><circle cx="95.3" cy="246.5" r="1.5"/><circle cx="95.9" cy="246.7" r="1.5"/><circle cx="96.5" cy="247.0" r="1.5"/><circle cx="97.1" cy="247.4" r="1.5"/><circle cx="97.7" cy="247.9" r="1.5"/><circle cx="98.3" cy="248.6" r="1.5"/><circle cx="98.9" cy="249.3" r="1.5"/><circle cx="99.5" cy="250.0" r="1.5"/><circle cx="100.1" cy="250.9" r="1.5"/><circle cx="100.7" cy="251.9" r="1.5"/><circle cx="101.3" cy="253.0" r="1.5"/><circle cx="101.9" cy="254.2" r="1.5"/><circle cx="102.5" cy="255.7" r="1.5"/><circle cx="103.1" cy="257.3" r="1.5"/><circle cx="103.7" cy="259.2" r="1.5"/><circle cx="104.3" cy="261.3" r="1.5"/><circle cx="104.9" cy="263.7" r="1.5"/><circle cx="105.5" cy="266.4" r="1.5"/><circle cx="106.1" cy="269.4" r="1.5"/><circle cx="106.7" cy="272.6" r="1.5"/><circle cx="107.3" cy="276.2" r="1.5"/><circle cx="107.9" cy="280.0" r="1.5"/><circle cx="108.5" cy="284.0" r="1.5"/><circle cx="109.1" cy="288.2" r="1.5"/><circle cx="109.7" cy="292.5" r="1.5"/><circle cx="110.3" cy="296.8" r="1.5"/><circle cx="110.9" cy="301.2" r="1.5"/><circle cx="111.5" cy="305.5" r="1.5"/><circle cx="112.1" cy="309.7" r="1.5"/><circle cx="112.7" cy="313.8" r="1.5"/><circle cx="113.3" cy="317.6" r="1.5"/><circle cx="113.9" cy="321.2" r="1.5"/><circle cx="114.5" cy="324.5" r="1.5"/><circle cx="115.1" cy="327.5" r="1.5"/><circle cx="115.7" cy="330.1" r="1.5"/><circle cx="116.3" cy="332.3" r="1.5"/><circle cx="116.9" cy="334.2" r="1.5"/><circle cx="117.5" cy="335.7" r="1.5"/><circle cx="118.1" cy="336.9" r="1.5"/><circle cx="118.7" cy="337.6" r="1.5"/><circle cx="119.3" cy="337.6" r="1.5"/><circle cx="119.9" cy="336.9" r="1.5"/><circle cx="120.5" cy="335.9" r="1.5"/><circle cx="121.1" cy="334.6" r="1.5"/><circle cx="121.7" cy="333.2" r="1.5"/><circle cx="122.3" cy="331.5" r="1.5"/><circle cx="122.9" cy="329.6" r="1.5"/><circle cx="123.5" cy="327.5" r="1.5"/><circle cx="124.1" cy="325.2" r="1.5"/><circle cx="124.7" cy="322.9" r="1.5"/><circle cx="125.3" cy="320.4" r="1.5"/><circle cx="125.9" cy="317.8" r="1.5"/><circle cx="126.5" cy="315.2" r="1.5"/><circle cx="127.1" cy="312.5" r="1.5"/><circle cx="127.7" cy="309.8" r="1.5"/><circle cx="128.3" cy="307.1" r="1.5"/><circle cx="128.9" cy="304.5" r="1.5"/><circle cx="129.5" cy="301.9" r="1.5"/><circle cx="130.1" cy="299.5" r="1.5"/><circle cx="130.7" cy="297.1" r="1.5"/><circle cx="131.3" cy="295.0" r="1.5"/><circle cx="131.9" cy="293.0" r="1.5"/><circle cx="132.5" cy="291.2" r="1.5"/><circle cx="133.1" cy="289.7" r="1.5"/><circle cx="133.7" cy="288.4" r="1.5"/><circle cx="134.3" cy="287.4" r="1.5"/><circle cx="134.9" cy="286.7" r="1.5"/><circle cx="135.5" cy="286.3" r="1.5"/><circle cx="136.1" cy="286.2" r="1.5"/><circle cx="136.7" cy="286.2" r="1.5"/><circle cx="137.3" cy="286.2" r="1.5"/><circle cx="137.9" cy="286.2" r="1.5"/><circle cx="138.5" cy="286.5" r="1.5"/><circle cx="139.1" cy="287.1" r="1.5"/><circle cx="139.7" cy="288.0" r="1.5"/><circle cx="140.3" cy="289.1" r="1.5"/><circle cx="140.9" cy="290.5" r="1.5"/><circle cx="141.5" cy="292.1" r="1.5"/><circle cx="142.1" cy="294.0" r="1.5"/><circle cx="142.7" cy="296.0" r="1.5"/><circle cx="143.3" cy="298.2" r="1.5"/><circle cx="143.9" cy="300.4" r="1.5"/><circle cx="144.5" cy="302.8" r="1.5"/><circle cx="145.1" cy="305.2" r="1.5"/><circle cx="145.7" cy="307.6" r="1.5"/><circle cx="146.3" cy="309.9" r="1.5"/><circle cx="146.9" cy="312.2" r="1.5"/><circle cx="147.5" cy="314.3" r="1.5"/><circle cx="148.1" cy="316.3" r="1.5"/><circle cx="148.7" cy="318.0" r="1.5"/><circle cx="149.3" cy="319.6" r="1.5"/><circle cx="149.9" cy="320.8" r="1.5"/><circle cx="150.5" cy="321.7" r="1.5"/><circle cx="151.1" cy="322.0" r="1.5"/><circle cx="151.7" cy="321.1" r="1.5"/><circle cx="152.3" cy="319.8" r="1.5"/><circle cx="152.9" cy="318.1" r="1.5"/><circle cx="153.5" cy="316.0" r="1.5"/><circle cx="154.1" cy="313.5" r="1.5"/><circle cx="154.7" cy="310.6" r="1.5"/><circle cx="155.3" cy="307.5" r="1.5"/><circle cx="155.9" cy="304.1" r="1.5"/><circle cx="156.5" cy="300.4" r="1.5"/><circle cx="157.1" cy="296.7" r="1.5"/><circle cx="157.7" cy="292.9" r="1.5"/><circle cx="158.3" cy="289.2" r="1.5"/><circle cx="158.9" cy="285.6" r="1.5"/><circle cx="159.5" cy="282.1" r="1.5"/><circle cx="160.1" cy="279.0" r="1.5"/><circle cx="160.7" cy="276.2" r="1.5"/><circle cx="161.3" cy="273.9" r="1.5"/><circle cx="161.9" cy="272.0" r="1.5"/><circle cx="162.5" cy="270.7" r="1.5"/><circle cx="163.1" cy="270.0" r="1.5"/><circle cx="163.7" cy="270.0" r="1.5"/><circle cx="164.3" cy="269.9" r="1.5"/><circle cx="164.9" cy="269.9" r="1.5"/><circle cx="165.5" cy="270.1" r="1.5"/><circle cx="166.1" cy="270.8" r="1.5"/><circle cx="166.7" cy="272.1" r="1.5"/><circle cx="167.3" cy="274.1" r="1.5"/><circle cx="167.9" cy="276.5" r="1.5"/><circle cx="168.5" cy="279.5" r="1.5"/><circle cx="169.1" cy="282.9" r="1.5"/><circle cx="169.7" cy="286.6" r="1.5"/><circle cx="170.3" cy="290.6" r="1.5"/><circle cx="170.9" cy="294.8" r="1.5"/><circle cx="171.5" cy="299.2" r="1.5"/><circle cx="172.1" cy="303.6" r="1.5"/><circle cx="172.7" cy="308.0" r="1.5"/><circle cx="173.3" cy="312.3" r="1.5"/><circle cx="173.9" cy="316.4" r="1.5"/><circle cx="174.5" cy="320.4" r="1.5"/><circle cx="175.1" cy="324.2" r="1.5"/><circle cx="175.7" cy="327.7" r="1.5"/><circle cx="176.3" cy="330.9" r="1.5"/><circle cx="176.9" cy="333.7" r="1.5"/><circle cx="177.5" cy="336.3" r="1.5"/><circle cx="178.1" cy="338.5" r="1.5"/><circle cx="178.7" cy="340.5" r="1.5"/><circle cx="179.3" cy="342.3" r="1.5"/><circle cx="179.9" cy="343.8" r="1.5"/><circle cx="180.5" cy="345.0" r="1.5"/><circle cx="181.1" cy="346.1" r="1.5"/><circle cx="181.7" cy="347.0" r="1.5"/><circle cx="182.3" cy="347.7" r="1.5"/><circle cx="182.9" cy="348.4" r="1.5"/><circle cx="183.5" cy="349.0" r="1.5"/><circle cx="184.1" cy="349.5" r="1.5"/><circle cx="184.7" cy="349.8" r="1.5"/><circle cx="185.3" cy="350.1" r="1.5"/><circle cx="185.9" cy="350.4" r="1.5"/><circle cx="186.5" cy="350.5" r="1.5"/><circle cx="187.1" cy="350.7" r="1.5"/><circle cx="187.7" cy="350.8" r="1.5"/><circle cx="188.3" cy="350.9" r="1.5"/><circle cx="188.9" cy="351.0" r="1.5"/><circle cx="189.5" cy="351.0" r="1.5"/><circle cx="190.1" cy="351.0" r="1.5"/><circle cx="190.7" cy="351.1" r="1.5"/><circle cx="191.3" cy="351.1" r="1.5"/><circle cx="191.9" cy="351.1" r="1.5"/><circle cx="192.5" cy="351.1" r="1.5"/><circle cx="193.1" cy="351.1" r="1.5"/><circle cx="193.7" cy="351.1" r="1.5"/><circle cx="194.3" cy="351.1" r="1.5"/><circle cx="194.9" cy="351.1" r="1.5"/><circle cx="195.5" cy="351.1" r="1.5"/><circle cx="196.1" cy="351.1" r="1.5"/><circle cx="196.7" cy="351.1" r="1.5"/><circle cx="197.3" cy="351.1" r="1.5"/><circle cx="197.9" cy="351.1" r="1.5"/><circle cx="198.5" cy="351.1" r="1.5"/><circle cx="199.1" cy="351.1" r="1.5"/><circle cx="199.7" cy="351.1" r="1.5"/><circle cx="200.3" cy="351.1" r="1.5"/><circle cx="200.9" cy="351.1" r="1.5"/><circle cx="201.5" cy="351.1" r="1.5"/><circle cx="202.1" cy="351.1" r="1.5"/><circle cx="202.7" cy="351.1" r="1.5"/></g>
<polyline points="176.00,333.33 177.00,337.51 178.00,340.91 179.00,343.60 180.00,345.65 181.00,347.16 182.00,348.23 183.00,349.14 184.00,349.79 185.00,350.23 186.00,350.53 187.00,350.72 188.00,350.85 189.00,350.92 190.00,350.97 191.00,351.00 192.00,351.02 193.00,351.03 194.00,351.03 195.00,351.03 196.00,351.03 197.00,351.04 198.00,351.04 199.00,351.04 200.00,351.04 201.00,351.04 202.00,351.04 203.00,351.04" fill="none" stroke="#2a6a2a" stroke-width="1.6" stroke-linejoin="round"/>
<polyline points="26.50,331.08 27.00,328.79 27.50,326.34 28.00,323.73 28.50,320.96 29.00,318.03 29.50,314.94 30.00,311.70 30.50,308.32 31.00,304.80 31.50,301.15 32.00,297.39 32.50,293.53 33.00,289.58 33.50,285.57 34.00,281.51 34.50,277.43 35.00,273.34 35.50,269.28 36.00,265.26 36.50,261.32 37.00,257.47 37.50,253.75 38.00,250.18 38.50,246.79 39.00,243.59 39.50,240.63 40.00,237.91 40.50,235.47 41.00,233.30 41.50,231.44 42.00,229.90 42.50,228.67 43.00,227.77 43.50,227.20 44.00,226.95 44.50,227.01 45.00,227.38 45.50,228.04 46.00,228.97 46.50,230.14 47.00,231.52 47.50,233.09 48.00,234.82 48.50,236.65 49.00,238.57 49.50,240.54 50.00,242.52 50.50,244.47 51.00,246.39 51.50,248.23 52.00,249.98 52.50,251.64 53.00,253.18 53.50,254.62 54.00,255.95 54.50,257.18 55.00,258.34 55.50,259.43 56.00,260.46 56.50,261.46 57.00,262.43 57.50,263.39 58.00,264.33 58.50,265.24 59.00,266.13 59.50,266.97 60.00,267.74 60.50,268.43 61.00,269.00 61.50,269.45 62.00,269.75 62.50,269.92 63.00,269.96 63.50,269.90 64.00,269.77 64.50,269.62 65.00,269.52 65.50,269.52 66.00,269.72 66.50,270.17 67.00,270.93 67.50,272.05 68.00,273.57 68.50,275.50 69.00,277.83 69.50,280.53 70.00,283.54 70.50,286.79 71.00,290.21 71.50,293.69 72.00,297.14 72.50,300.46 73.00,303.56 73.50,306.36 74.00,308.80 74.50,310.81 75.00,312.37 75.50,313.45 76.00,314.05 76.50,314.17 77.00,313.84 77.50,313.08 78.00,311.93 78.50,310.42 79.00,308.60 79.50,306.50 80.00,304.17 80.50,301.64 81.00,298.95 81.50,296.13 82.00,293.22 82.50,290.25 83.00,287.24 83.50,284.22 84.00,281.21 84.50,278.24 85.00,275.33 85.50,272.49 86.00,269.75 86.50,267.13 87.00,264.63 87.50,262.29 88.00,260.10 88.50,258.08 89.00,256.24 89.50,254.58 90.00,253.11 90.50,251.83 91.00,250.75 91.50,249.84 92.00,249.12 92.50,248.57 93.00,248.17 93.50,247.93 94.00,247.83 94.50,247.85 95.00,247.98 95.50,248.21 96.00,248.52 96.50,248.91 97.00,249.36 97.50,249.88 98.00,250.45 98.50,251.08 99.00,251.77 99.50,252.53 100.00,253.37 100.50,254.29 101.00,255.32 101.50,256.47 102.00,257.75 102.50,259.18 103.00,260.77 103.50,262.55 104.00,264.52 104.50,266.69 105.00,269.06 105.50,271.63 106.00,274.40 106.50,277.35 107.00,280.48 107.50,283.77 108.00,287.18 108.50,290.69 109.00,294.28 109.50,297.90 110.00,301.53 110.50,305.14 111.00,308.68 111.50,312.13 112.00,315.45 112.50,318.62 113.00,321.61 113.50,324.40 114.00,326.97 114.50,329.31 115.00,331.41 115.50,333.25 116.00,334.83 116.50,336.16 117.00,337.23 117.50,338.04 118.00,338.61 118.50,338.94 119.00,339.04 119.50,338.91 120.00,338.58 120.50,338.03 121.00,337.30 121.50,336.38 122.00,335.30 122.50,334.05 123.00,332.65 123.50,331.12 124.00,329.46 124.50,327.68 125.00,325.80 125.50,323.82 126.00,321.77 126.50,319.65 127.00,317.48 127.50,315.27 128.00,313.04 128.50,310.81 129.00,308.59 129.50,306.39 130.00,304.24 130.50,302.14 131.00,300.13 131.50,298.21 132.00,296.40 132.50,294.72 133.00,293.18 133.50,291.80 134.00,290.58 134.50,289.55 135.00,288.70 135.50,288.05 136.00,287.60 136.50,287.36 137.00,287.33 137.50,287.51 138.00,287.89 138.50,288.48 139.00,289.26 139.50,290.23 140.00,291.37 140.50,292.68 141.00,294.13 141.50,295.72 142.00,297.43 142.50,299.23 143.00,301.11 143.50,303.05 144.00,305.02 144.50,307.00 145.00,308.98 145.50,310.92 146.00,312.80 146.50,314.60 147.00,316.29 147.50,317.86 148.00,319.28 148.50,320.52 149.00,321.57 149.50,322.40 150.00,323.01 150.50,323.36 151.00,323.46 151.50,323.28 152.00,322.81 152.50,322.06 153.00,321.01 153.50,319.68 154.00,318.06 154.50,316.17 155.00,314.02 155.50,311.64 156.00,309.04 156.50,306.26 157.00,303.32 157.50,300.28 158.00,297.17 158.50,294.04 159.00,290.92 159.50,287.88 160.00,284.96 160.50,282.21 161.00,279.67 161.50,277.40 162.00,275.42 162.50,273.79 163.00,272.53 163.50,271.66 164.00,271.20 164.50,271.17 165.00,271.57 165.50,272.39 166.00,273.63 166.50,275.26 167.00,277.27 167.50,279.62 168.00,282.28 168.50,285.21 169.00,288.37 169.50,291.72 170.00,295.21 170.50,298.79 171.00,302.43 171.50,306.08 172.00,309.71 172.50,313.27 173.00,316.74 173.50,320.08 174.00,323.28 174.50,326.32 175.00,329.18 175.50,331.85 176.00,334.33 176.50,336.60 177.00,338.68 177.50,340.57 178.00,342.27 178.50,343.79 179.00,345.14 179.50,346.34 180.00,347.38 180.50,348.30 181.00,349.09 181.50,349.77 182.00,350.35 182.50,350.84 183.00,351.26 183.50,351.61 184.00,351.90 184.50,352.14 185.00,352.34 185.50,352.50 186.00,352.63 186.50,352.74 187.00,352.83 187.50,352.90 188.00,352.95 188.50,352.99 189.00,353.03 189.50,353.05 190.00,353.07 190.50,353.09 191.00,353.10 191.50,353.11 192.00,353.12 192.50,353.12 193.00,353.13 193.50,353.13 194.00,353.13 194.50,353.14 195.00,353.14 195.50,353.14 196.00,353.14 196.50,353.14 197.00,353.14 197.50,353.14 198.00,353.14 198.50,353.14 199.00,353.14 199.50,353.14 200.00,353.14 200.50,353.14 201.00,353.14 201.50,353.14 202.00,353.14 202.50,353.14 203.00,353.14 203.50,353.14" fill="none" stroke="#d8341f" stroke-width="1.25" stroke-linejoin="round"/>
<rect x="26.5" y="223.5" width="177.00" height="132.50" fill="none" stroke="#000" stroke-width="1.0"/>
<line x1="27.10" y1="356.00" x2="27.10" y2="358.00" stroke="#000" stroke-width="1.0"/>
<line x1="27.10" y1="223.50" x2="27.10" y2="225.90" stroke="#000" stroke-width="1.0"/>
<line x1="46.70" y1="356.00" x2="46.70" y2="359.80" stroke="#000" stroke-width="1.0"/>
<line x1="46.70" y1="223.50" x2="46.70" y2="227.50" stroke="#000" stroke-width="1.0"/>
<text x="46.70" y="373.90" font-size="10.5" text-anchor="middle" font-weight="normal" fill="#000">–6</text>
<line x1="66.30" y1="356.00" x2="66.30" y2="358.00" stroke="#000" stroke-width="1.0"/>
<line x1="66.30" y1="223.50" x2="66.30" y2="225.90" stroke="#000" stroke-width="1.0"/>
<line x1="85.90" y1="356.00" x2="85.90" y2="359.80" stroke="#000" stroke-width="1.0"/>
<line x1="85.90" y1="223.50" x2="85.90" y2="227.50" stroke="#000" stroke-width="1.0"/>
<text x="85.90" y="373.90" font-size="10.5" text-anchor="middle" font-weight="normal" fill="#000">–4</text>
<line x1="105.50" y1="356.00" x2="105.50" y2="358.00" stroke="#000" stroke-width="1.0"/>
<line x1="105.50" y1="223.50" x2="105.50" y2="225.90" stroke="#000" stroke-width="1.0"/>
<line x1="125.10" y1="356.00" x2="125.10" y2="359.80" stroke="#000" stroke-width="1.0"/>
<line x1="125.10" y1="223.50" x2="125.10" y2="227.50" stroke="#000" stroke-width="1.0"/>
<text x="125.10" y="373.90" font-size="10.5" text-anchor="middle" font-weight="normal" fill="#000">–2</text>
<line x1="144.70" y1="356.00" x2="144.70" y2="358.00" stroke="#000" stroke-width="1.0"/>
<line x1="144.70" y1="223.50" x2="144.70" y2="225.90" stroke="#000" stroke-width="1.0"/>
<line x1="164.30" y1="356.00" x2="164.30" y2="359.80" stroke="#000" stroke-width="1.0"/>
<line x1="164.30" y1="223.50" x2="164.30" y2="227.50" stroke="#000" stroke-width="1.0"/>
<text x="164.30" y="373.90" font-size="10.5" text-anchor="middle" font-weight="normal" fill="#000">0</text>
<line x1="183.90" y1="356.00" x2="183.90" y2="358.00" stroke="#000" stroke-width="1.0"/>
<line x1="183.90" y1="223.50" x2="183.90" y2="225.90" stroke="#000" stroke-width="1.0"/>
<line x1="203.50" y1="356.00" x2="203.50" y2="359.80" stroke="#000" stroke-width="1.0"/>
<line x1="203.50" y1="223.50" x2="203.50" y2="227.50" stroke="#000" stroke-width="1.0"/>
<text x="203.50" y="373.90" font-size="10.5" text-anchor="middle" font-weight="normal" fill="#000">2</text>
<text x="115.50" y="392.00" font-size="11.3" text-anchor="middle" font-weight="normal" fill="#000"><tspan font-style="italic">E</tspan>–<tspan font-style="italic">E</tspan><tspan font-size="8.3" dy="2.9">HOMO</tspan><tspan dy="-2.9"> (eV)</tspan></text>
<text x="10.90" y="290.00" font-size="11.3" text-anchor="middle" font-weight="normal" fill="#000" transform="rotate(-90 10.90 290.00)"><tspan font-style="italic">I</tspan>(<tspan font-style="italic">t</tspan>) (arb. u.)</text>
<text x="83.80" y="238.80" font-size="9.5" text-anchor="start" font-weight="normal" fill="#7272e0">H-2</text>
<text x="155.60" y="242.20" font-size="9.5" text-anchor="start" font-weight="normal" fill="#000">–500 fs</text>
<text x="159.80" y="264.10" font-size="9.5" text-anchor="start" font-weight="normal" fill="#22229a">H</text>
<text x="128.70" y="280.00" font-size="9.5" text-anchor="start" font-weight="normal" fill="#22229a">H-1</text>
<line x1="311.45" y1="117.90" x2="311.45" y2="138.90" stroke="#7b7be6" stroke-width="1.0"/>
<line x1="309.15" y1="117.90" x2="313.75" y2="117.90" stroke="#7b7be6" stroke-width="1.3"/>
<line x1="309.15" y1="138.90" x2="313.75" y2="138.90" stroke="#7b7be6" stroke-width="1.3"/>
<line x1="319.14" y1="115.80" x2="319.14" y2="136.80" stroke="#7b7be6" stroke-width="1.0"/>
<line x1="316.84" y1="115.80" x2="321.44" y2="115.80" stroke="#7b7be6" stroke-width="1.3"/>
<line x1="316.84" y1="136.80" x2="321.44" y2="136.80" stroke="#7b7be6" stroke-width="1.3"/>
<line x1="326.83" y1="121.40" x2="326.83" y2="142.40" stroke="#7b7be6" stroke-width="1.0"/>
<line x1="324.53" y1="121.40" x2="329.13" y2="121.40" stroke="#7b7be6" stroke-width="1.3"/>
<line x1="324.53" y1="142.40" x2="329.13" y2="142.40" stroke="#7b7be6" stroke-width="1.3"/>
<line x1="334.52" y1="120.00" x2="334.52" y2="141.00" stroke="#7b7be6" stroke-width="1.0"/>
<line x1="332.22" y1="120.00" x2="336.82" y2="120.00" stroke="#7b7be6" stroke-width="1.3"/>
<line x1="332.22" y1="141.00" x2="336.82" y2="141.00" stroke="#7b7be6" stroke-width="1.3"/>
<line x1="337.06" y1="119.30" x2="337.06" y2="140.30" stroke="#7b7be6" stroke-width="1.0"/>
<line x1="334.76" y1="119.30" x2="339.36" y2="119.30" stroke="#7b7be6" stroke-width="1.3"/>
<line x1="334.76" y1="140.30" x2="339.36" y2="140.30" stroke="#7b7be6" stroke-width="1.3"/>
<line x1="339.67" y1="118.50" x2="339.67" y2="139.50" stroke="#7b7be6" stroke-width="1.0"/>
<line x1="337.37" y1="118.50" x2="341.97" y2="118.50" stroke="#7b7be6" stroke-width="1.3"/>
<line x1="337.37" y1="139.50" x2="341.97" y2="139.50" stroke="#7b7be6" stroke-width="1.3"/>
<line x1="342.21" y1="117.90" x2="342.21" y2="138.90" stroke="#7b7be6" stroke-width="1.0"/>
<line x1="339.91" y1="117.90" x2="344.51" y2="117.90" stroke="#7b7be6" stroke-width="1.3"/>
<line x1="339.91" y1="138.90" x2="344.51" y2="138.90" stroke="#7b7be6" stroke-width="1.3"/>
<line x1="344.75" y1="114.48" x2="344.75" y2="135.48" stroke="#7b7be6" stroke-width="1.0"/>
<line x1="342.45" y1="114.48" x2="347.05" y2="114.48" stroke="#7b7be6" stroke-width="1.3"/>
<line x1="342.45" y1="135.48" x2="347.05" y2="135.48" stroke="#7b7be6" stroke-width="1.3"/>
<line x1="346.82" y1="113.60" x2="346.82" y2="134.60" stroke="#7b7be6" stroke-width="1.0"/>
<line x1="344.52" y1="113.60" x2="349.12" y2="113.60" stroke="#7b7be6" stroke-width="1.3"/>
<line x1="344.52" y1="134.60" x2="349.12" y2="134.60" stroke="#7b7be6" stroke-width="1.3"/>
<line x1="348.36" y1="111.70" x2="348.36" y2="132.70" stroke="#7b7be6" stroke-width="1.0"/>
<line x1="346.06" y1="111.70" x2="350.66" y2="111.70" stroke="#7b7be6" stroke-width="1.3"/>
<line x1="346.06" y1="132.70" x2="350.66" y2="132.70" stroke="#7b7be6" stroke-width="1.3"/>
<line x1="349.90" y1="110.74" x2="349.90" y2="131.74" stroke="#7b7be6" stroke-width="1.0"/>
<line x1="347.60" y1="110.74" x2="352.20" y2="110.74" stroke="#7b7be6" stroke-width="1.3"/>
<line x1="347.60" y1="131.74" x2="352.20" y2="131.74" stroke="#7b7be6" stroke-width="1.3"/>
<line x1="350.67" y1="109.98" x2="350.67" y2="130.98" stroke="#7b7be6" stroke-width="1.0"/>
<line x1="348.37" y1="109.98" x2="352.97" y2="109.98" stroke="#7b7be6" stroke-width="1.3"/>
<line x1="348.37" y1="130.98" x2="352.97" y2="130.98" stroke="#7b7be6" stroke-width="1.3"/>
<line x1="351.44" y1="107.57" x2="351.44" y2="128.57" stroke="#7b7be6" stroke-width="1.0"/>
<line x1="349.14" y1="107.57" x2="353.74" y2="107.57" stroke="#7b7be6" stroke-width="1.3"/>
<line x1="349.14" y1="128.57" x2="353.74" y2="128.57" stroke="#7b7be6" stroke-width="1.3"/>
<line x1="352.21" y1="109.54" x2="352.21" y2="130.54" stroke="#7b7be6" stroke-width="1.0"/>
<line x1="349.91" y1="109.54" x2="354.51" y2="109.54" stroke="#7b7be6" stroke-width="1.3"/>
<line x1="349.91" y1="130.54" x2="354.51" y2="130.54" stroke="#7b7be6" stroke-width="1.3"/>
<line x1="352.98" y1="108.64" x2="352.98" y2="129.64" stroke="#7b7be6" stroke-width="1.0"/>
<line x1="350.68" y1="108.64" x2="355.28" y2="108.64" stroke="#7b7be6" stroke-width="1.3"/>
<line x1="350.68" y1="129.64" x2="355.28" y2="129.64" stroke="#7b7be6" stroke-width="1.3"/>
<line x1="353.75" y1="108.08" x2="353.75" y2="129.08" stroke="#7b7be6" stroke-width="1.0"/>
<line x1="351.44" y1="108.08" x2="356.05" y2="108.08" stroke="#7b7be6" stroke-width="1.3"/>
<line x1="351.44" y1="129.08" x2="356.05" y2="129.08" stroke="#7b7be6" stroke-width="1.3"/>
<line x1="354.51" y1="106.53" x2="354.51" y2="127.53" stroke="#7b7be6" stroke-width="1.0"/>
<line x1="352.21" y1="106.53" x2="356.81" y2="106.53" stroke="#7b7be6" stroke-width="1.3"/>
<line x1="352.21" y1="127.53" x2="356.81" y2="127.53" stroke="#7b7be6" stroke-width="1.3"/>
<line x1="355.28" y1="107.13" x2="355.28" y2="128.13" stroke="#7b7be6" stroke-width="1.0"/>
<line x1="352.98" y1="107.13" x2="357.58" y2="107.13" stroke="#7b7be6" stroke-width="1.3"/>
<line x1="352.98" y1="128.13" x2="357.58" y2="128.13" stroke="#7b7be6" stroke-width="1.3"/>
<line x1="356.05" y1="108.63" x2="356.05" y2="129.63" stroke="#7b7be6" stroke-width="1.0"/>
<line x1="353.75" y1="108.63" x2="358.35" y2="108.63" stroke="#7b7be6" stroke-width="1.3"/>
<line x1="353.75" y1="129.63" x2="358.35" y2="129.63" stroke="#7b7be6" stroke-width="1.3"/>
<line x1="356.82" y1="109.70" x2="356.82" y2="130.70" stroke="#7b7be6" stroke-width="1.0"/>
<line x1="354.52" y1="109.70" x2="359.12" y2="109.70" stroke="#7b7be6" stroke-width="1.3"/>
<line x1="354.52" y1="130.70" x2="359.12" y2="130.70" stroke="#7b7be6" stroke-width="1.3"/>
<line x1="357.59" y1="111.11" x2="357.59" y2="132.11" stroke="#7b7be6" stroke-width="1.0"/>
<line x1="355.29" y1="111.11" x2="359.89" y2="111.11" stroke="#7b7be6" stroke-width="1.3"/>
<line x1="355.29" y1="132.11" x2="359.89" y2="132.11" stroke="#7b7be6" stroke-width="1.3"/>
<line x1="358.74" y1="111.73" x2="358.74" y2="132.73" stroke="#7b7be6" stroke-width="1.0"/>
<line x1="356.44" y1="111.73" x2="361.04" y2="111.73" stroke="#7b7be6" stroke-width="1.3"/>
<line x1="356.44" y1="132.73" x2="361.04" y2="132.73" stroke="#7b7be6" stroke-width="1.3"/>
<line x1="359.90" y1="113.27" x2="359.90" y2="134.27" stroke="#7b7be6" stroke-width="1.0"/>
<line x1="357.60" y1="113.27" x2="362.20" y2="113.27" stroke="#7b7be6" stroke-width="1.3"/>
<line x1="357.60" y1="134.27" x2="362.20" y2="134.27" stroke="#7b7be6" stroke-width="1.3"/>
<line x1="361.44" y1="113.40" x2="361.44" y2="134.40" stroke="#7b7be6" stroke-width="1.0"/>
<line x1="359.13" y1="113.40" x2="363.74" y2="113.40" stroke="#7b7be6" stroke-width="1.3"/>
<line x1="359.13" y1="134.40" x2="363.74" y2="134.40" stroke="#7b7be6" stroke-width="1.3"/>
<line x1="365.28" y1="117.20" x2="365.28" y2="138.20" stroke="#7b7be6" stroke-width="1.0"/>
<line x1="362.98" y1="117.20" x2="367.58" y2="117.20" stroke="#7b7be6" stroke-width="1.3"/>
<line x1="362.98" y1="138.20" x2="367.58" y2="138.20" stroke="#7b7be6" stroke-width="1.3"/>
<line x1="369.12" y1="118.60" x2="369.12" y2="139.60" stroke="#7b7be6" stroke-width="1.0"/>
<line x1="366.82" y1="118.60" x2="371.43" y2="118.60" stroke="#7b7be6" stroke-width="1.3"/>
<line x1="366.82" y1="139.60" x2="371.43" y2="139.60" stroke="#7b7be6" stroke-width="1.3"/>
<line x1="372.97" y1="123.00" x2="372.97" y2="145.00" stroke="#7b7be6" stroke-width="1.0"/>
<line x1="370.67" y1="123.00" x2="375.27" y2="123.00" stroke="#7b7be6" stroke-width="1.3"/>
<line x1="370.67" y1="145.00" x2="375.27" y2="145.00" stroke="#7b7be6" stroke-width="1.3"/>
<line x1="376.81" y1="115.80" x2="376.81" y2="136.80" stroke="#7b7be6" stroke-width="1.0"/>
<line x1="374.51" y1="115.80" x2="379.12" y2="115.80" stroke="#7b7be6" stroke-width="1.3"/>
<line x1="374.51" y1="136.80" x2="379.12" y2="136.80" stroke="#7b7be6" stroke-width="1.3"/>
<line x1="380.66" y1="119.30" x2="380.66" y2="140.30" stroke="#7b7be6" stroke-width="1.0"/>
<line x1="378.36" y1="119.30" x2="382.96" y2="119.30" stroke="#7b7be6" stroke-width="1.3"/>
<line x1="378.36" y1="140.30" x2="382.96" y2="140.30" stroke="#7b7be6" stroke-width="1.3"/>
<line x1="384.50" y1="119.60" x2="384.50" y2="140.60" stroke="#7b7be6" stroke-width="1.0"/>
<line x1="382.20" y1="119.60" x2="386.81" y2="119.60" stroke="#7b7be6" stroke-width="1.3"/>
<line x1="382.20" y1="140.60" x2="386.81" y2="140.60" stroke="#7b7be6" stroke-width="1.3"/>
<line x1="388.35" y1="118.20" x2="388.35" y2="139.20" stroke="#7b7be6" stroke-width="1.0"/>
<line x1="386.05" y1="118.20" x2="390.65" y2="118.20" stroke="#7b7be6" stroke-width="1.3"/>
<line x1="386.05" y1="139.20" x2="390.65" y2="139.20" stroke="#7b7be6" stroke-width="1.3"/>
<line x1="396.04" y1="114.00" x2="396.04" y2="135.00" stroke="#7b7be6" stroke-width="1.0"/>
<line x1="393.74" y1="114.00" x2="398.34" y2="114.00" stroke="#7b7be6" stroke-width="1.3"/>
<line x1="393.74" y1="135.00" x2="398.34" y2="135.00" stroke="#7b7be6" stroke-width="1.3"/>
<line x1="403.73" y1="117.60" x2="403.73" y2="138.60" stroke="#7b7be6" stroke-width="1.0"/>
<line x1="401.43" y1="117.60" x2="406.03" y2="117.60" stroke="#7b7be6" stroke-width="1.3"/>
<line x1="401.43" y1="138.60" x2="406.03" y2="138.60" stroke="#7b7be6" stroke-width="1.3"/>
<line x1="411.42" y1="117.20" x2="411.42" y2="138.20" stroke="#7b7be6" stroke-width="1.0"/>
<line x1="409.12" y1="117.20" x2="413.72" y2="117.20" stroke="#7b7be6" stroke-width="1.3"/>
<line x1="409.12" y1="138.20" x2="413.72" y2="138.20" stroke="#7b7be6" stroke-width="1.3"/>
<line x1="419.11" y1="117.20" x2="419.11" y2="138.20" stroke="#7b7be6" stroke-width="1.0"/>
<line x1="416.81" y1="117.20" x2="421.41" y2="117.20" stroke="#7b7be6" stroke-width="1.3"/>
<line x1="416.81" y1="138.20" x2="421.41" y2="138.20" stroke="#7b7be6" stroke-width="1.3"/>
<line x1="426.80" y1="120.70" x2="426.80" y2="141.70" stroke="#7b7be6" stroke-width="1.0"/>
<line x1="424.50" y1="120.70" x2="429.10" y2="120.70" stroke="#7b7be6" stroke-width="1.3"/>
<line x1="424.50" y1="141.70" x2="429.10" y2="141.70" stroke="#7b7be6" stroke-width="1.3"/>
<circle cx="311.45" cy="128.40" r="1.9" fill="#fff" stroke="#7b7be6" stroke-width="0.8"/>
<circle cx="319.14" cy="126.30" r="1.9" fill="#fff" stroke="#7b7be6" stroke-width="0.8"/>
<circle cx="326.83" cy="131.90" r="1.9" fill="#fff" stroke="#7b7be6" stroke-width="0.8"/>
<circle cx="334.52" cy="130.50" r="1.9" fill="#fff" stroke="#7b7be6" stroke-width="0.8"/>
<circle cx="337.06" cy="129.80" r="1.9" fill="#fff" stroke="#7b7be6" stroke-width="0.8"/>
<circle cx="339.67" cy="129.00" r="1.9" fill="#fff" stroke="#7b7be6" stroke-width="0.8"/>
<circle cx="342.21" cy="128.40" r="1.9" fill="#fff" stroke="#7b7be6" stroke-width="0.8"/>
<circle cx="344.75" cy="124.98" r="1.9" fill="#fff" stroke="#7b7be6" stroke-width="0.8"/>
<circle cx="346.82" cy="124.10" r="1.9" fill="#fff" stroke="#7b7be6" stroke-width="0.8"/>
<circle cx="348.36" cy="122.20" r="1.9" fill="#fff" stroke="#7b7be6" stroke-width="0.8"/>
<circle cx="349.90" cy="121.24" r="1.9" fill="#fff" stroke="#7b7be6" stroke-width="0.8"/>
<circle cx="350.67" cy="120.48" r="1.9" fill="#fff" stroke="#7b7be6" stroke-width="0.8"/>
<circle cx="351.44" cy="118.07" r="1.9" fill="#fff" stroke="#7b7be6" stroke-width="0.8"/>
<circle cx="352.21" cy="120.04" r="1.9" fill="#fff" stroke="#7b7be6" stroke-width="0.8"/>
<circle cx="352.98" cy="119.14" r="1.9" fill="#fff" stroke="#7b7be6" stroke-width="0.8"/>
<circle cx="353.75" cy="118.58" r="1.9" fill="#fff" stroke="#7b7be6" stroke-width="0.8"/>
<circle cx="354.51" cy="117.03" r="1.9" fill="#fff" stroke="#7b7be6" stroke-width="0.8"/>
<circle cx="355.28" cy="117.63" r="1.9" fill="#fff" stroke="#7b7be6" stroke-width="0.8"/>
<circle cx="356.05" cy="119.13" r="1.9" fill="#fff" stroke="#7b7be6" stroke-width="0.8"/>
<circle cx="356.82" cy="120.20" r="1.9" fill="#fff" stroke="#7b7be6" stroke-width="0.8"/>
<circle cx="357.59" cy="121.61" r="1.9" fill="#fff" stroke="#7b7be6" stroke-width="0.8"/>
<circle cx="358.74" cy="122.23" r="1.9" fill="#fff" stroke="#7b7be6" stroke-width="0.8"/>
<circle cx="359.90" cy="123.77" r="1.9" fill="#fff" stroke="#7b7be6" stroke-width="0.8"/>
<circle cx="361.44" cy="123.90" r="1.9" fill="#fff" stroke="#7b7be6" stroke-width="0.8"/>
<circle cx="365.28" cy="127.70" r="1.9" fill="#fff" stroke="#7b7be6" stroke-width="0.8"/>
<circle cx="369.12" cy="129.10" r="1.9" fill="#fff" stroke="#7b7be6" stroke-width="0.8"/>
<circle cx="372.97" cy="134.00" r="1.9" fill="#fff" stroke="#7b7be6" stroke-width="0.8"/>
<circle cx="376.81" cy="126.30" r="1.9" fill="#fff" stroke="#7b7be6" stroke-width="0.8"/>
<circle cx="380.66" cy="129.80" r="1.9" fill="#fff" stroke="#7b7be6" stroke-width="0.8"/>
<circle cx="384.50" cy="130.10" r="1.9" fill="#fff" stroke="#7b7be6" stroke-width="0.8"/>
<circle cx="388.35" cy="128.70" r="1.9" fill="#fff" stroke="#7b7be6" stroke-width="0.8"/>
<circle cx="396.04" cy="124.50" r="1.9" fill="#fff" stroke="#7b7be6" stroke-width="0.8"/>
<circle cx="403.73" cy="128.10" r="1.9" fill="#fff" stroke="#7b7be6" stroke-width="0.8"/>
<circle cx="411.42" cy="127.70" r="1.9" fill="#fff" stroke="#7b7be6" stroke-width="0.8"/>
<circle cx="419.11" cy="127.70" r="1.9" fill="#fff" stroke="#7b7be6" stroke-width="0.8"/>
<circle cx="426.80" cy="131.20" r="1.9" fill="#fff" stroke="#7b7be6" stroke-width="0.8"/>
<line x1="311.45" y1="51.80" x2="311.45" y2="75.80" stroke="#2e2e96" stroke-width="1.0"/>
<line x1="309.15" y1="51.80" x2="313.75" y2="51.80" stroke="#2e2e96" stroke-width="1.3"/>
<line x1="309.15" y1="75.80" x2="313.75" y2="75.80" stroke="#2e2e96" stroke-width="1.3"/>
<line x1="319.14" y1="50.70" x2="319.14" y2="74.70" stroke="#2e2e96" stroke-width="1.0"/>
<line x1="316.84" y1="50.70" x2="321.44" y2="50.70" stroke="#2e2e96" stroke-width="1.3"/>
<line x1="316.84" y1="74.70" x2="321.44" y2="74.70" stroke="#2e2e96" stroke-width="1.3"/>
<line x1="326.83" y1="53.40" x2="326.83" y2="77.40" stroke="#2e2e96" stroke-width="1.0"/>
<line x1="324.53" y1="53.40" x2="329.13" y2="53.40" stroke="#2e2e96" stroke-width="1.3"/>
<line x1="324.53" y1="77.40" x2="329.13" y2="77.40" stroke="#2e2e96" stroke-width="1.3"/>
<line x1="334.52" y1="53.24" x2="334.52" y2="77.24" stroke="#2e2e96" stroke-width="1.0"/>
<line x1="332.22" y1="53.24" x2="336.82" y2="53.24" stroke="#2e2e96" stroke-width="1.3"/>
<line x1="332.22" y1="77.24" x2="336.82" y2="77.24" stroke="#2e2e96" stroke-width="1.3"/>
<line x1="337.06" y1="51.41" x2="337.06" y2="75.41" stroke="#2e2e96" stroke-width="1.0"/>
<line x1="334.76" y1="51.41" x2="339.36" y2="51.41" stroke="#2e2e96" stroke-width="1.3"/>
<line x1="334.76" y1="75.41" x2="339.36" y2="75.41" stroke="#2e2e96" stroke-width="1.3"/>
<line x1="339.67" y1="52.36" x2="339.67" y2="76.36" stroke="#2e2e96" stroke-width="1.0"/>
<line x1="337.37" y1="52.36" x2="341.97" y2="52.36" stroke="#2e2e96" stroke-width="1.3"/>
<line x1="337.37" y1="76.36" x2="341.97" y2="76.36" stroke="#2e2e96" stroke-width="1.3"/>
<line x1="342.21" y1="52.52" x2="342.21" y2="76.52" stroke="#2e2e96" stroke-width="1.0"/>
<line x1="339.91" y1="52.52" x2="344.51" y2="52.52" stroke="#2e2e96" stroke-width="1.3"/>
<line x1="339.91" y1="76.52" x2="344.51" y2="76.52" stroke="#2e2e96" stroke-width="1.3"/>
<line x1="344.75" y1="50.80" x2="344.75" y2="74.80" stroke="#2e2e96" stroke-width="1.0"/>
<line x1="342.45" y1="50.80" x2="347.05" y2="50.80" stroke="#2e2e96" stroke-width="1.3"/>
<line x1="342.45" y1="74.80" x2="347.05" y2="74.80" stroke="#2e2e96" stroke-width="1.3"/>
<line x1="346.82" y1="52.18" x2="346.82" y2="76.18" stroke="#2e2e96" stroke-width="1.0"/>
<line x1="344.52" y1="52.18" x2="349.12" y2="52.18" stroke="#2e2e96" stroke-width="1.3"/>
<line x1="344.52" y1="76.18" x2="349.12" y2="76.18" stroke="#2e2e96" stroke-width="1.3"/>
<line x1="348.36" y1="53.32" x2="348.36" y2="77.32" stroke="#2e2e96" stroke-width="1.0"/>
<line x1="346.06" y1="53.32" x2="350.66" y2="53.32" stroke="#2e2e96" stroke-width="1.3"/>
<line x1="346.06" y1="77.32" x2="350.66" y2="77.32" stroke="#2e2e96" stroke-width="1.3"/>
<line x1="349.90" y1="50.33" x2="349.90" y2="74.33" stroke="#2e2e96" stroke-width="1.0"/>
<line x1="347.60" y1="50.33" x2="352.20" y2="50.33" stroke="#2e2e96" stroke-width="1.3"/>
<line x1="347.60" y1="74.33" x2="352.20" y2="74.33" stroke="#2e2e96" stroke-width="1.3"/>
<line x1="350.67" y1="51.85" x2="350.67" y2="75.85" stroke="#2e2e96" stroke-width="1.0"/>
<line x1="348.37" y1="51.85" x2="352.97" y2="51.85" stroke="#2e2e96" stroke-width="1.3"/>
<line x1="348.37" y1="75.85" x2="352.97" y2="75.85" stroke="#2e2e96" stroke-width="1.3"/>
<line x1="351.44" y1="52.04" x2="351.44" y2="76.04" stroke="#2e2e96" stroke-width="1.0"/>
<line x1="349.14" y1="52.04" x2="353.74" y2="52.04" stroke="#2e2e96" stroke-width="1.3"/>
<line x1="349.14" y1="76.04" x2="353.74" y2="76.04" stroke="#2e2e96" stroke-width="1.3"/>
<line x1="352.21" y1="53.53" x2="352.21" y2="77.53" stroke="#2e2e96" stroke-width="1.0"/>
<line x1="349.91" y1="53.53" x2="354.51" y2="53.53" stroke="#2e2e96" stroke-width="1.3"/>
<line x1="349.91" y1="77.53" x2="354.51" y2="77.53" stroke="#2e2e96" stroke-width="1.3"/>
<line x1="352.98" y1="56.84" x2="352.98" y2="80.84" stroke="#2e2e96" stroke-width="1.0"/>
<line x1="350.68" y1="56.84" x2="355.28" y2="56.84" stroke="#2e2e96" stroke-width="1.3"/>
<line x1="350.68" y1="80.84" x2="355.28" y2="80.84" stroke="#2e2e96" stroke-width="1.3"/>
<line x1="353.75" y1="57.16" x2="353.75" y2="83.76" stroke="#2e2e96" stroke-width="1.0"/>
<line x1="351.44" y1="57.16" x2="356.05" y2="57.16" stroke="#2e2e96" stroke-width="1.3"/>
<line x1="351.44" y1="83.76" x2="356.05" y2="83.76" stroke="#2e2e96" stroke-width="1.3"/>
<line x1="354.51" y1="56.96" x2="354.51" y2="83.56" stroke="#2e2e96" stroke-width="1.0"/>
<line x1="352.21" y1="56.96" x2="356.81" y2="56.96" stroke="#2e2e96" stroke-width="1.3"/>
<line x1="352.21" y1="83.56" x2="356.81" y2="83.56" stroke="#2e2e96" stroke-width="1.3"/>
<line x1="355.28" y1="59.03" x2="355.28" y2="85.63" stroke="#2e2e96" stroke-width="1.0"/>
<line x1="352.98" y1="59.03" x2="357.58" y2="59.03" stroke="#2e2e96" stroke-width="1.3"/>
<line x1="352.98" y1="85.63" x2="357.58" y2="85.63" stroke="#2e2e96" stroke-width="1.3"/>
<line x1="356.05" y1="58.88" x2="356.05" y2="85.48" stroke="#2e2e96" stroke-width="1.0"/>
<line x1="353.75" y1="58.88" x2="358.35" y2="58.88" stroke="#2e2e96" stroke-width="1.3"/>
<line x1="353.75" y1="85.48" x2="358.35" y2="85.48" stroke="#2e2e96" stroke-width="1.3"/>
<line x1="356.82" y1="59.13" x2="356.82" y2="85.73" stroke="#2e2e96" stroke-width="1.0"/>
<line x1="354.52" y1="59.13" x2="359.12" y2="59.13" stroke="#2e2e96" stroke-width="1.3"/>
<line x1="354.52" y1="85.73" x2="359.12" y2="85.73" stroke="#2e2e96" stroke-width="1.3"/>
<line x1="357.59" y1="59.58" x2="357.59" y2="86.18" stroke="#2e2e96" stroke-width="1.0"/>
<line x1="355.29" y1="59.58" x2="359.89" y2="59.58" stroke="#2e2e96" stroke-width="1.3"/>
<line x1="355.29" y1="86.18" x2="359.89" y2="86.18" stroke="#2e2e96" stroke-width="1.3"/>
<line x1="358.74" y1="58.61" x2="358.74" y2="85.21" stroke="#2e2e96" stroke-width="1.0"/>
<line x1="356.44" y1="58.61" x2="361.04" y2="58.61" stroke="#2e2e96" stroke-width="1.3"/>
<line x1="356.44" y1="85.21" x2="361.04" y2="85.21" stroke="#2e2e96" stroke-width="1.3"/>
<line x1="359.90" y1="58.39" x2="359.90" y2="84.99" stroke="#2e2e96" stroke-width="1.0"/>
<line x1="357.60" y1="58.39" x2="362.20" y2="58.39" stroke="#2e2e96" stroke-width="1.3"/>
<line x1="357.60" y1="84.99" x2="362.20" y2="84.99" stroke="#2e2e96" stroke-width="1.3"/>
<line x1="361.44" y1="58.00" x2="361.44" y2="84.60" stroke="#2e2e96" stroke-width="1.0"/>
<line x1="359.13" y1="58.00" x2="363.74" y2="58.00" stroke="#2e2e96" stroke-width="1.3"/>
<line x1="359.13" y1="84.60" x2="363.74" y2="84.60" stroke="#2e2e96" stroke-width="1.3"/>
<line x1="365.28" y1="58.00" x2="365.28" y2="84.60" stroke="#2e2e96" stroke-width="1.0"/>
<line x1="362.98" y1="58.00" x2="367.58" y2="58.00" stroke="#2e2e96" stroke-width="1.3"/>
<line x1="362.98" y1="84.60" x2="367.58" y2="84.60" stroke="#2e2e96" stroke-width="1.3"/>
<line x1="369.12" y1="59.30" x2="369.12" y2="83.30" stroke="#2e2e96" stroke-width="1.0"/>
<line x1="366.82" y1="59.30" x2="371.43" y2="59.30" stroke="#2e2e96" stroke-width="1.3"/>
<line x1="366.82" y1="83.30" x2="371.43" y2="83.30" stroke="#2e2e96" stroke-width="1.3"/>
<line x1="372.97" y1="64.60" x2="372.97" y2="88.60" stroke="#2e2e96" stroke-width="1.0"/>
<line x1="370.67" y1="64.60" x2="375.27" y2="64.60" stroke="#2e2e96" stroke-width="1.3"/>
<line x1="370.67" y1="88.60" x2="375.27" y2="88.60" stroke="#2e2e96" stroke-width="1.3"/>
<line x1="376.81" y1="56.00" x2="376.81" y2="80.00" stroke="#2e2e96" stroke-width="1.0"/>
<line x1="374.51" y1="56.00" x2="379.12" y2="56.00" stroke="#2e2e96" stroke-width="1.3"/>
<line x1="374.51" y1="80.00" x2="379.12" y2="80.00" stroke="#2e2e96" stroke-width="1.3"/>
<line x1="380.66" y1="59.30" x2="380.66" y2="83.30" stroke="#2e2e96" stroke-width="1.0"/>
<line x1="378.36" y1="59.30" x2="382.96" y2="59.30" stroke="#2e2e96" stroke-width="1.3"/>
<line x1="378.36" y1="83.30" x2="382.96" y2="83.30" stroke="#2e2e96" stroke-width="1.3"/>
<line x1="384.50" y1="59.30" x2="384.50" y2="83.30" stroke="#2e2e96" stroke-width="1.0"/>
<line x1="382.20" y1="59.30" x2="386.81" y2="59.30" stroke="#2e2e96" stroke-width="1.3"/>
<line x1="382.20" y1="83.30" x2="386.81" y2="83.30" stroke="#2e2e96" stroke-width="1.3"/>
<line x1="388.35" y1="57.70" x2="388.35" y2="81.70" stroke="#2e2e96" stroke-width="1.0"/>
<line x1="386.05" y1="57.70" x2="390.65" y2="57.70" stroke="#2e2e96" stroke-width="1.3"/>
<line x1="386.05" y1="81.70" x2="390.65" y2="81.70" stroke="#2e2e96" stroke-width="1.3"/>
<line x1="396.04" y1="53.60" x2="396.04" y2="77.60" stroke="#2e2e96" stroke-width="1.0"/>
<line x1="393.74" y1="53.60" x2="398.34" y2="53.60" stroke="#2e2e96" stroke-width="1.3"/>
<line x1="393.74" y1="77.60" x2="398.34" y2="77.60" stroke="#2e2e96" stroke-width="1.3"/>
<line x1="403.73" y1="56.40" x2="403.73" y2="80.40" stroke="#2e2e96" stroke-width="1.0"/>
<line x1="401.43" y1="56.40" x2="406.03" y2="56.40" stroke="#2e2e96" stroke-width="1.3"/>
<line x1="401.43" y1="80.40" x2="406.03" y2="80.40" stroke="#2e2e96" stroke-width="1.3"/>
<line x1="411.42" y1="55.80" x2="411.42" y2="79.80" stroke="#2e2e96" stroke-width="1.0"/>
<line x1="409.12" y1="55.80" x2="413.72" y2="55.80" stroke="#2e2e96" stroke-width="1.3"/>
<line x1="409.12" y1="79.80" x2="413.72" y2="79.80" stroke="#2e2e96" stroke-width="1.3"/>
<line x1="419.11" y1="55.80" x2="419.11" y2="79.80" stroke="#2e2e96" stroke-width="1.0"/>
<line x1="416.81" y1="55.80" x2="421.41" y2="55.80" stroke="#2e2e96" stroke-width="1.3"/>
<line x1="416.81" y1="79.80" x2="421.41" y2="79.80" stroke="#2e2e96" stroke-width="1.3"/>
<line x1="426.80" y1="58.90" x2="426.80" y2="82.90" stroke="#2e2e96" stroke-width="1.0"/>
<line x1="424.50" y1="58.90" x2="429.10" y2="58.90" stroke="#2e2e96" stroke-width="1.3"/>
<line x1="424.50" y1="82.90" x2="429.10" y2="82.90" stroke="#2e2e96" stroke-width="1.3"/>
<circle cx="311.45" cy="63.80" r="1.9" fill="#fff" stroke="#2e2e96" stroke-width="0.8"/>
<circle cx="319.14" cy="62.70" r="1.9" fill="#fff" stroke="#2e2e96" stroke-width="0.8"/>
<circle cx="326.83" cy="65.40" r="1.9" fill="#fff" stroke="#2e2e96" stroke-width="0.8"/>
<circle cx="334.52" cy="65.24" r="1.9" fill="#fff" stroke="#2e2e96" stroke-width="0.8"/>
<circle cx="337.06" cy="63.41" r="1.9" fill="#fff" stroke="#2e2e96" stroke-width="0.8"/>
<circle cx="339.67" cy="64.36" r="1.9" fill="#fff" stroke="#2e2e96" stroke-width="0.8"/>
<circle cx="342.21" cy="64.52" r="1.9" fill="#fff" stroke="#2e2e96" stroke-width="0.8"/>
<circle cx="344.75" cy="62.80" r="1.9" fill="#fff" stroke="#2e2e96" stroke-width="0.8"/>
<circle cx="346.82" cy="64.18" r="1.9" fill="#fff" stroke="#2e2e96" stroke-width="0.8"/>
<circle cx="348.36" cy="65.32" r="1.9" fill="#fff" stroke="#2e2e96" stroke-width="0.8"/>
<circle cx="349.90" cy="62.33" r="1.9" fill="#fff" stroke="#2e2e96" stroke-width="0.8"/>
<circle cx="350.67" cy="63.85" r="1.9" fill="#fff" stroke="#2e2e96" stroke-width="0.8"/>
<circle cx="351.44" cy="64.04" r="1.9" fill="#fff" stroke="#2e2e96" stroke-width="0.8"/>
<circle cx="352.21" cy="65.53" r="1.9" fill="#fff" stroke="#2e2e96" stroke-width="0.8"/>
<circle cx="352.98" cy="68.84" r="1.9" fill="#fff" stroke="#2e2e96" stroke-width="0.8"/>
<circle cx="353.75" cy="70.46" r="1.9" fill="#fff" stroke="#2e2e96" stroke-width="0.8"/>
<circle cx="354.51" cy="70.26" r="1.9" fill="#fff" stroke="#2e2e96" stroke-width="0.8"/>
<circle cx="355.28" cy="72.33" r="1.9" fill="#fff" stroke="#2e2e96" stroke-width="0.8"/>
<circle cx="356.05" cy="72.18" r="1.9" fill="#fff" stroke="#2e2e96" stroke-width="0.8"/>
<circle cx="356.82" cy="72.43" r="1.9" fill="#fff" stroke="#2e2e96" stroke-width="0.8"/>
<circle cx="357.59" cy="72.88" r="1.9" fill="#fff" stroke="#2e2e96" stroke-width="0.8"/>
<circle cx="358.74" cy="71.91" r="1.9" fill="#fff" stroke="#2e2e96" stroke-width="0.8"/>
<circle cx="359.90" cy="71.69" r="1.9" fill="#fff" stroke="#2e2e96" stroke-width="0.8"/>
<circle cx="361.44" cy="71.30" r="1.9" fill="#fff" stroke="#2e2e96" stroke-width="0.8"/>
<circle cx="365.28" cy="71.30" r="1.9" fill="#fff" stroke="#2e2e96" stroke-width="0.8"/>
<circle cx="369.12" cy="71.30" r="1.9" fill="#fff" stroke="#2e2e96" stroke-width="0.8"/>
<circle cx="372.97" cy="76.60" r="1.9" fill="#fff" stroke="#2e2e96" stroke-width="0.8"/>
<circle cx="376.81" cy="68.00" r="1.9" fill="#fff" stroke="#2e2e96" stroke-width="0.8"/>
<circle cx="380.66" cy="71.30" r="1.9" fill="#fff" stroke="#2e2e96" stroke-width="0.8"/>
<circle cx="384.50" cy="71.30" r="1.9" fill="#fff" stroke="#2e2e96" stroke-width="0.8"/>
<circle cx="388.35" cy="69.70" r="1.9" fill="#fff" stroke="#2e2e96" stroke-width="0.8"/>
<circle cx="396.04" cy="65.60" r="1.9" fill="#fff" stroke="#2e2e96" stroke-width="0.8"/>
<circle cx="403.73" cy="68.40" r="1.9" fill="#fff" stroke="#2e2e96" stroke-width="0.8"/>
<circle cx="411.42" cy="67.80" r="1.9" fill="#fff" stroke="#2e2e96" stroke-width="0.8"/>
<circle cx="419.11" cy="67.80" r="1.9" fill="#fff" stroke="#2e2e96" stroke-width="0.8"/>
<circle cx="426.80" cy="70.90" r="1.9" fill="#fff" stroke="#2e2e96" stroke-width="0.8"/>
<line x1="311.45" y1="26.10" x2="311.45" y2="51.70" stroke="#2f2fe0" stroke-width="1.0"/>
<line x1="309.15" y1="26.10" x2="313.75" y2="26.10" stroke="#2f2fe0" stroke-width="1.3"/>
<line x1="309.15" y1="51.70" x2="313.75" y2="51.70" stroke="#2f2fe0" stroke-width="1.3"/>
<line x1="319.14" y1="23.70" x2="319.14" y2="49.30" stroke="#2f2fe0" stroke-width="1.0"/>
<line x1="316.84" y1="23.70" x2="321.44" y2="23.70" stroke="#2f2fe0" stroke-width="1.3"/>
<line x1="316.84" y1="49.30" x2="321.44" y2="49.30" stroke="#2f2fe0" stroke-width="1.3"/>
<line x1="326.83" y1="30.50" x2="326.83" y2="56.10" stroke="#2f2fe0" stroke-width="1.0"/>
<line x1="324.53" y1="30.50" x2="329.13" y2="30.50" stroke="#2f2fe0" stroke-width="1.3"/>
<line x1="324.53" y1="56.10" x2="329.13" y2="56.10" stroke="#2f2fe0" stroke-width="1.3"/>
<line x1="334.52" y1="26.96" x2="334.52" y2="52.56" stroke="#2f2fe0" stroke-width="1.0"/>
<line x1="332.22" y1="26.96" x2="336.82" y2="26.96" stroke="#2f2fe0" stroke-width="1.3"/>
<line x1="332.22" y1="52.56" x2="336.82" y2="52.56" stroke="#2f2fe0" stroke-width="1.3"/>
<line x1="337.06" y1="26.62" x2="337.06" y2="52.22" stroke="#2f2fe0" stroke-width="1.0"/>
<line x1="334.76" y1="26.62" x2="339.36" y2="26.62" stroke="#2f2fe0" stroke-width="1.3"/>
<line x1="334.76" y1="52.22" x2="339.36" y2="52.22" stroke="#2f2fe0" stroke-width="1.3"/>
<line x1="339.67" y1="27.50" x2="339.67" y2="55.10" stroke="#2f2fe0" stroke-width="1.0"/>
<line x1="337.37" y1="27.50" x2="341.97" y2="27.50" stroke="#2f2fe0" stroke-width="1.3"/>
<line x1="337.37" y1="55.10" x2="341.97" y2="55.10" stroke="#2f2fe0" stroke-width="1.3"/>
<line x1="342.21" y1="27.62" x2="342.21" y2="55.22" stroke="#2f2fe0" stroke-width="1.0"/>
<line x1="339.91" y1="27.62" x2="344.51" y2="27.62" stroke="#2f2fe0" stroke-width="1.3"/>
<line x1="339.91" y1="55.22" x2="344.51" y2="55.22" stroke="#2f2fe0" stroke-width="1.3"/>
<line x1="344.75" y1="26.40" x2="344.75" y2="54.00" stroke="#2f2fe0" stroke-width="1.0"/>
<line x1="342.45" y1="26.40" x2="347.05" y2="26.40" stroke="#2f2fe0" stroke-width="1.3"/>
<line x1="342.45" y1="54.00" x2="347.05" y2="54.00" stroke="#2f2fe0" stroke-width="1.3"/>
<line x1="346.82" y1="25.73" x2="346.82" y2="53.33" stroke="#2f2fe0" stroke-width="1.0"/>
<line x1="344.52" y1="25.73" x2="349.12" y2="25.73" stroke="#2f2fe0" stroke-width="1.3"/>
<line x1="344.52" y1="53.33" x2="349.12" y2="53.33" stroke="#2f2fe0" stroke-width="1.3"/>
<line x1="348.36" y1="25.34" x2="348.36" y2="52.94" stroke="#2f2fe0" stroke-width="1.0"/>
<line x1="346.06" y1="25.34" x2="350.66" y2="25.34" stroke="#2f2fe0" stroke-width="1.3"/>
<line x1="346.06" y1="52.94" x2="350.66" y2="52.94" stroke="#2f2fe0" stroke-width="1.3"/>
<line x1="349.90" y1="25.83" x2="349.90" y2="53.43" stroke="#2f2fe0" stroke-width="1.0"/>
<line x1="347.60" y1="25.83" x2="352.20" y2="25.83" stroke="#2f2fe0" stroke-width="1.3"/>
<line x1="347.60" y1="53.43" x2="352.20" y2="53.43" stroke="#2f2fe0" stroke-width="1.3"/>
<line x1="350.67" y1="24.67" x2="350.67" y2="52.27" stroke="#2f2fe0" stroke-width="1.0"/>
<line x1="348.37" y1="24.67" x2="352.97" y2="24.67" stroke="#2f2fe0" stroke-width="1.3"/>
<line x1="348.37" y1="52.27" x2="352.97" y2="52.27" stroke="#2f2fe0" stroke-width="1.3"/>
<line x1="351.44" y1="24.30" x2="351.44" y2="51.90" stroke="#2f2fe0" stroke-width="1.0"/>
<line x1="349.14" y1="24.30" x2="353.74" y2="24.30" stroke="#2f2fe0" stroke-width="1.3"/>
<line x1="349.14" y1="51.90" x2="353.74" y2="51.90" stroke="#2f2fe0" stroke-width="1.3"/>
<line x1="352.21" y1="24.05" x2="352.21" y2="51.65" stroke="#2f2fe0" stroke-width="1.0"/>
<line x1="349.91" y1="24.05" x2="354.51" y2="24.05" stroke="#2f2fe0" stroke-width="1.3"/>
<line x1="349.91" y1="51.65" x2="354.51" y2="51.65" stroke="#2f2fe0" stroke-width="1.3"/>
<line x1="352.98" y1="21.87" x2="352.98" y2="49.47" stroke="#2f2fe0" stroke-width="1.0"/>
<line x1="350.68" y1="21.87" x2="355.28" y2="21.87" stroke="#2f2fe0" stroke-width="1.3"/>
<line x1="350.68" y1="49.47" x2="355.28" y2="49.47" stroke="#2f2fe0" stroke-width="1.3"/>
<line x1="353.75" y1="24.15" x2="353.75" y2="51.75" stroke="#2f2fe0" stroke-width="1.0"/>
<line x1="351.44" y1="24.15" x2="356.05" y2="24.15" stroke="#2f2fe0" stroke-width="1.3"/>
<line x1="351.44" y1="51.75" x2="356.05" y2="51.75" stroke="#2f2fe0" stroke-width="1.3"/>
<line x1="354.51" y1="23.58" x2="354.51" y2="51.18" stroke="#2f2fe0" stroke-width="1.0"/>
<line x1="352.21" y1="23.58" x2="356.81" y2="23.58" stroke="#2f2fe0" stroke-width="1.3"/>
<line x1="352.21" y1="51.18" x2="356.81" y2="51.18" stroke="#2f2fe0" stroke-width="1.3"/>
<line x1="355.28" y1="22.92" x2="355.28" y2="50.52" stroke="#2f2fe0" stroke-width="1.0"/>
<line x1="352.98" y1="22.92" x2="357.58" y2="22.92" stroke="#2f2fe0" stroke-width="1.3"/>
<line x1="352.98" y1="50.52" x2="357.58" y2="50.52" stroke="#2f2fe0" stroke-width="1.3"/>
<line x1="356.05" y1="20.94" x2="356.05" y2="48.54" stroke="#2f2fe0" stroke-width="1.0"/>
<line x1="353.75" y1="20.94" x2="358.35" y2="20.94" stroke="#2f2fe0" stroke-width="1.3"/>
<line x1="353.75" y1="48.54" x2="358.35" y2="48.54" stroke="#2f2fe0" stroke-width="1.3"/>
<line x1="356.82" y1="22.43" x2="356.82" y2="50.03" stroke="#2f2fe0" stroke-width="1.0"/>
<line x1="354.52" y1="22.43" x2="359.12" y2="22.43" stroke="#2f2fe0" stroke-width="1.3"/>
<line x1="354.52" y1="50.03" x2="359.12" y2="50.03" stroke="#2f2fe0" stroke-width="1.3"/>
<line x1="357.59" y1="24.04" x2="357.59" y2="51.64" stroke="#2f2fe0" stroke-width="1.0"/>
<line x1="355.29" y1="24.04" x2="359.89" y2="24.04" stroke="#2f2fe0" stroke-width="1.3"/>
<line x1="355.29" y1="51.64" x2="359.89" y2="51.64" stroke="#2f2fe0" stroke-width="1.3"/>
<line x1="358.74" y1="22.07" x2="358.74" y2="49.67" stroke="#2f2fe0" stroke-width="1.0"/>
<line x1="356.44" y1="22.07" x2="361.04" y2="22.07" stroke="#2f2fe0" stroke-width="1.3"/>
<line x1="356.44" y1="49.67" x2="361.04" y2="49.67" stroke="#2f2fe0" stroke-width="1.3"/>
<line x1="359.90" y1="23.95" x2="359.90" y2="51.55" stroke="#2f2fe0" stroke-width="1.0"/>
<line x1="357.60" y1="23.95" x2="362.20" y2="23.95" stroke="#2f2fe0" stroke-width="1.3"/>
<line x1="357.60" y1="51.55" x2="362.20" y2="51.55" stroke="#2f2fe0" stroke-width="1.3"/>
<line x1="361.44" y1="25.20" x2="361.44" y2="50.80" stroke="#2f2fe0" stroke-width="1.0"/>
<line x1="359.13" y1="25.20" x2="363.74" y2="25.20" stroke="#2f2fe0" stroke-width="1.3"/>
<line x1="359.13" y1="50.80" x2="363.74" y2="50.80" stroke="#2f2fe0" stroke-width="1.3"/>
<line x1="365.28" y1="26.80" x2="365.28" y2="52.40" stroke="#2f2fe0" stroke-width="1.0"/>
<line x1="362.98" y1="26.80" x2="367.58" y2="26.80" stroke="#2f2fe0" stroke-width="1.3"/>
<line x1="362.98" y1="52.40" x2="367.58" y2="52.40" stroke="#2f2fe0" stroke-width="1.3"/>
<line x1="369.12" y1="29.00" x2="369.12" y2="54.60" stroke="#2f2fe0" stroke-width="1.0"/>
<line x1="366.82" y1="29.00" x2="371.43" y2="29.00" stroke="#2f2fe0" stroke-width="1.3"/>
<line x1="366.82" y1="54.60" x2="371.43" y2="54.60" stroke="#2f2fe0" stroke-width="1.3"/>
<line x1="372.97" y1="34.70" x2="372.97" y2="60.30" stroke="#2f2fe0" stroke-width="1.0"/>
<line x1="370.67" y1="34.70" x2="375.27" y2="34.70" stroke="#2f2fe0" stroke-width="1.3"/>
<line x1="370.67" y1="60.30" x2="375.27" y2="60.30" stroke="#2f2fe0" stroke-width="1.3"/>
<line x1="376.81" y1="25.80" x2="376.81" y2="51.40" stroke="#2f2fe0" stroke-width="1.0"/>
<line x1="374.51" y1="25.80" x2="379.12" y2="25.80" stroke="#2f2fe0" stroke-width="1.3"/>
<line x1="374.51" y1="51.40" x2="379.12" y2="51.40" stroke="#2f2fe0" stroke-width="1.3"/>
<line x1="380.66" y1="29.00" x2="380.66" y2="54.60" stroke="#2f2fe0" stroke-width="1.0"/>
<line x1="378.36" y1="29.00" x2="382.96" y2="29.00" stroke="#2f2fe0" stroke-width="1.3"/>
<line x1="378.36" y1="54.60" x2="382.96" y2="54.60" stroke="#2f2fe0" stroke-width="1.3"/>
<line x1="384.50" y1="28.10" x2="384.50" y2="53.70" stroke="#2f2fe0" stroke-width="1.0"/>
<line x1="382.20" y1="28.10" x2="386.81" y2="28.10" stroke="#2f2fe0" stroke-width="1.3"/>
<line x1="382.20" y1="53.70" x2="386.81" y2="53.70" stroke="#2f2fe0" stroke-width="1.3"/>
<line x1="388.35" y1="27.70" x2="388.35" y2="53.30" stroke="#2f2fe0" stroke-width="1.0"/>
<line x1="386.05" y1="27.70" x2="390.65" y2="27.70" stroke="#2f2fe0" stroke-width="1.3"/>
<line x1="386.05" y1="53.30" x2="390.65" y2="53.30" stroke="#2f2fe0" stroke-width="1.3"/>
<line x1="396.04" y1="22.80" x2="396.04" y2="48.40" stroke="#2f2fe0" stroke-width="1.0"/>
<line x1="393.74" y1="22.80" x2="398.34" y2="22.80" stroke="#2f2fe0" stroke-width="1.3"/>
<line x1="393.74" y1="48.40" x2="398.34" y2="48.40" stroke="#2f2fe0" stroke-width="1.3"/>
<line x1="403.73" y1="27.10" x2="403.73" y2="52.70" stroke="#2f2fe0" stroke-width="1.0"/>
<line x1="401.43" y1="27.10" x2="406.03" y2="27.10" stroke="#2f2fe0" stroke-width="1.3"/>
<line x1="401.43" y1="52.70" x2="406.03" y2="52.70" stroke="#2f2fe0" stroke-width="1.3"/>
<line x1="411.42" y1="26.20" x2="411.42" y2="51.80" stroke="#2f2fe0" stroke-width="1.0"/>
<line x1="409.12" y1="26.20" x2="413.72" y2="26.20" stroke="#2f2fe0" stroke-width="1.3"/>
<line x1="409.12" y1="51.80" x2="413.72" y2="51.80" stroke="#2f2fe0" stroke-width="1.3"/>
<line x1="419.11" y1="25.80" x2="419.11" y2="51.40" stroke="#2f2fe0" stroke-width="1.0"/>
<line x1="416.81" y1="25.80" x2="421.41" y2="25.80" stroke="#2f2fe0" stroke-width="1.3"/>
<line x1="416.81" y1="51.40" x2="421.41" y2="51.40" stroke="#2f2fe0" stroke-width="1.3"/>
<line x1="426.80" y1="29.00" x2="426.80" y2="54.60" stroke="#2f2fe0" stroke-width="1.0"/>
<line x1="424.50" y1="29.00" x2="429.10" y2="29.00" stroke="#2f2fe0" stroke-width="1.3"/>
<line x1="424.50" y1="54.60" x2="429.10" y2="54.60" stroke="#2f2fe0" stroke-width="1.3"/>
<circle cx="311.45" cy="38.90" r="1.9" fill="#fff" stroke="#2f2fe0" stroke-width="0.8"/>
<circle cx="319.14" cy="36.50" r="1.9" fill="#fff" stroke="#2f2fe0" stroke-width="0.8"/>
<circle cx="326.83" cy="43.30" r="1.9" fill="#fff" stroke="#2f2fe0" stroke-width="0.8"/>
<circle cx="334.52" cy="39.76" r="1.9" fill="#fff" stroke="#2f2fe0" stroke-width="0.8"/>
<circle cx="337.06" cy="39.42" r="1.9" fill="#fff" stroke="#2f2fe0" stroke-width="0.8"/>
<circle cx="339.67" cy="41.30" r="1.9" fill="#fff" stroke="#2f2fe0" stroke-width="0.8"/>
<circle cx="342.21" cy="41.42" r="1.9" fill="#fff" stroke="#2f2fe0" stroke-width="0.8"/>
<circle cx="344.75" cy="40.20" r="1.9" fill="#fff" stroke="#2f2fe0" stroke-width="0.8"/>
<circle cx="346.82" cy="39.53" r="1.9" fill="#fff" stroke="#2f2fe0" stroke-width="0.8"/>
<circle cx="348.36" cy="39.14" r="1.9" fill="#fff" stroke="#2f2fe0" stroke-width="0.8"/>
<circle cx="349.90" cy="39.63" r="1.9" fill="#fff" stroke="#2f2fe0" stroke-width="0.8"/>
<circle cx="350.67" cy="38.47" r="1.9" fill="#fff" stroke="#2f2fe0" stroke-width="0.8"/>
<circle cx="351.44" cy="38.10" r="1.9" fill="#fff" stroke="#2f2fe0" stroke-width="0.8"/>
<circle cx="352.21" cy="37.85" r="1.9" fill="#fff" stroke="#2f2fe0" stroke-width="0.8"/>
<circle cx="352.98" cy="35.67" r="1.9" fill="#fff" stroke="#2f2fe0" stroke-width="0.8"/>
<circle cx="353.75" cy="37.95" r="1.9" fill="#fff" stroke="#2f2fe0" stroke-width="0.8"/>
<circle cx="354.51" cy="37.38" r="1.9" fill="#fff" stroke="#2f2fe0" stroke-width="0.8"/>
<circle cx="355.28" cy="36.72" r="1.9" fill="#fff" stroke="#2f2fe0" stroke-width="0.8"/>
<circle cx="356.05" cy="34.74" r="1.9" fill="#fff" stroke="#2f2fe0" stroke-width="0.8"/>
<circle cx="356.82" cy="36.23" r="1.9" fill="#fff" stroke="#2f2fe0" stroke-width="0.8"/>
<circle cx="357.59" cy="37.84" r="1.9" fill="#fff" stroke="#2f2fe0" stroke-width="0.8"/>
<circle cx="358.74" cy="35.87" r="1.9" fill="#fff" stroke="#2f2fe0" stroke-width="0.8"/>
<circle cx="359.90" cy="37.75" r="1.9" fill="#fff" stroke="#2f2fe0" stroke-width="0.8"/>
<circle cx="361.44" cy="38.00" r="1.9" fill="#fff" stroke="#2f2fe0" stroke-width="0.8"/>
<circle cx="365.28" cy="39.60" r="1.9" fill="#fff" stroke="#2f2fe0" stroke-width="0.8"/>
<circle cx="369.12" cy="41.80" r="1.9" fill="#fff" stroke="#2f2fe0" stroke-width="0.8"/>
<circle cx="372.97" cy="47.50" r="1.9" fill="#fff" stroke="#2f2fe0" stroke-width="0.8"/>
<circle cx="376.81" cy="38.60" r="1.9" fill="#fff" stroke="#2f2fe0" stroke-width="0.8"/>
<circle cx="380.66" cy="41.80" r="1.9" fill="#fff" stroke="#2f2fe0" stroke-width="0.8"/>
<circle cx="384.50" cy="40.90" r="1.9" fill="#fff" stroke="#2f2fe0" stroke-width="0.8"/>
<circle cx="388.35" cy="40.50" r="1.9" fill="#fff" stroke="#2f2fe0" stroke-width="0.8"/>
<circle cx="396.04" cy="35.60" r="1.9" fill="#fff" stroke="#2f2fe0" stroke-width="0.8"/>
<circle cx="403.73" cy="39.90" r="1.9" fill="#fff" stroke="#2f2fe0" stroke-width="0.8"/>
<circle cx="411.42" cy="39.00" r="1.9" fill="#fff" stroke="#2f2fe0" stroke-width="0.8"/>
<circle cx="419.11" cy="38.60" r="1.9" fill="#fff" stroke="#2f2fe0" stroke-width="0.8"/>
<circle cx="426.80" cy="41.80" r="1.9" fill="#fff" stroke="#2f2fe0" stroke-width="0.8"/>
<line x1="303.40" y1="19.30" x2="409.50" y2="19.30" stroke="#000" stroke-width="1.0"/>
<line x1="303.40" y1="18.80" x2="303.40" y2="150.60" stroke="#000" stroke-width="1.0"/>
<line x1="302.90" y1="150.10" x2="435.00" y2="150.10" stroke="#000" stroke-width="1.0"/>
<line x1="434.50" y1="31.40" x2="434.50" y2="150.60" stroke="#000" stroke-width="1.0"/>
<line x1="311.45" y1="150.10" x2="311.45" y2="153.90" stroke="#000" stroke-width="1.0"/>
<line x1="311.45" y1="19.30" x2="311.45" y2="23.10" stroke="#000" stroke-width="1.0"/>
<line x1="330.67" y1="150.10" x2="330.67" y2="152.10" stroke="#000" stroke-width="1.0"/>
<line x1="330.67" y1="19.30" x2="330.67" y2="21.50" stroke="#000" stroke-width="1.0"/>
<line x1="349.90" y1="150.10" x2="349.90" y2="153.90" stroke="#000" stroke-width="1.0"/>
<line x1="349.90" y1="19.30" x2="349.90" y2="23.10" stroke="#000" stroke-width="1.0"/>
<line x1="369.12" y1="150.10" x2="369.12" y2="152.10" stroke="#000" stroke-width="1.0"/>
<line x1="369.12" y1="19.30" x2="369.12" y2="21.50" stroke="#000" stroke-width="1.0"/>
<line x1="388.35" y1="150.10" x2="388.35" y2="153.90" stroke="#000" stroke-width="1.0"/>
<line x1="388.35" y1="19.30" x2="388.35" y2="23.10" stroke="#000" stroke-width="1.0"/>
<line x1="407.57" y1="150.10" x2="407.57" y2="152.10" stroke="#000" stroke-width="1.0"/>
<line x1="407.57" y1="19.30" x2="407.57" y2="21.50" stroke="#000" stroke-width="1.0"/>
<line x1="426.80" y1="150.10" x2="426.80" y2="153.90" stroke="#000" stroke-width="1.0"/>
<line x1="300.00" y1="135.75" x2="303.40" y2="135.75" stroke="#000" stroke-width="1.0"/>
<line x1="431.10" y1="135.75" x2="434.50" y2="135.75" stroke="#000" stroke-width="1.0"/>
<line x1="300.00" y1="112.50" x2="303.40" y2="112.50" stroke="#000" stroke-width="1.0"/>
<line x1="431.10" y1="112.50" x2="434.50" y2="112.50" stroke="#000" stroke-width="1.0"/>
<line x1="300.00" y1="89.25" x2="303.40" y2="89.25" stroke="#000" stroke-width="1.0"/>
<line x1="431.10" y1="89.25" x2="434.50" y2="89.25" stroke="#000" stroke-width="1.0"/>
<line x1="300.00" y1="66.00" x2="303.40" y2="66.00" stroke="#000" stroke-width="1.0"/>
<line x1="431.10" y1="66.00" x2="434.50" y2="66.00" stroke="#000" stroke-width="1.0"/>
<line x1="300.00" y1="42.75" x2="303.40" y2="42.75" stroke="#000" stroke-width="1.0"/>
<line x1="431.10" y1="42.75" x2="434.50" y2="42.75" stroke="#000" stroke-width="1.0"/>
<line x1="300.00" y1="19.50" x2="303.40" y2="19.50" stroke="#000" stroke-width="1.0"/>
<line x1="301.20" y1="147.38" x2="303.40" y2="147.38" stroke="#000" stroke-width="1.0"/>
<line x1="432.30" y1="147.38" x2="434.50" y2="147.38" stroke="#000" stroke-width="1.0"/>
<line x1="301.20" y1="124.12" x2="303.40" y2="124.12" stroke="#000" stroke-width="1.0"/>
<line x1="432.30" y1="124.12" x2="434.50" y2="124.12" stroke="#000" stroke-width="1.0"/>
<line x1="301.20" y1="100.87" x2="303.40" y2="100.87" stroke="#000" stroke-width="1.0"/>
<line x1="432.30" y1="100.87" x2="434.50" y2="100.87" stroke="#000" stroke-width="1.0"/>
<line x1="301.20" y1="77.63" x2="303.40" y2="77.63" stroke="#000" stroke-width="1.0"/>
<line x1="432.30" y1="77.63" x2="434.50" y2="77.63" stroke="#000" stroke-width="1.0"/>
<line x1="301.20" y1="54.38" x2="303.40" y2="54.38" stroke="#000" stroke-width="1.0"/>
<line x1="432.30" y1="54.38" x2="434.50" y2="54.38" stroke="#000" stroke-width="1.0"/>
<line x1="301.20" y1="31.13" x2="303.40" y2="31.13" stroke="#000" stroke-width="1.0"/>
<rect x="409.50" y="3.10" width="50.40" height="28.30" fill="#fff" stroke="#b4b4b4" stroke-width="0.9"/>
<line x1="409.50" y1="31.40" x2="460.30" y2="31.40" stroke="#5a5a5a" stroke-width="1.0"/>
<polyline points="414.80,18.74 415.30,18.74 415.80,18.74 416.30,18.73 416.80,18.73 417.30,18.72 417.80,18.70 418.30,18.68 418.80,18.66 419.30,18.62 419.80,18.58 420.30,18.52 420.80,18.45 421.30,18.35 421.80,18.24 422.30,18.09 422.80,17.92 423.30,17.70 423.80,17.44 424.30,17.14 424.80,16.79 425.30,16.38 425.80,15.91 426.30,15.39 426.80,14.81 427.30,14.18 427.80,13.49 428.30,12.77 428.80,12.01 429.30,11.24 429.80,10.46 430.30,9.68 430.80,8.94 431.30,8.24 431.80,7.60 432.30,7.04 432.80,6.57 433.30,6.22 433.80,5.98 434.30,5.86 434.80,5.87 435.30,6.01 435.80,6.28 436.30,6.66 436.80,7.15 437.30,7.72 437.80,8.37 438.30,9.09 438.80,9.84 439.30,10.61 439.80,11.39 440.30,12.17 440.80,12.92 441.30,13.63 441.80,14.31 442.30,14.93 442.80,15.50 443.30,16.01 443.80,16.46 444.30,16.86 444.80,17.20 445.30,17.50 445.80,17.75 446.30,17.95 446.80,18.12 447.30,18.26 447.80,18.37 448.30,18.46 448.80,18.53 449.30,18.59 449.80,18.63 450.30,18.66 450.80,18.69 451.30,18.70 451.80,18.72 452.30,18.73 452.80,18.73 453.30,18.74 453.80,18.74 454.30,18.74 454.80,18.75 455.30,18.75 455.80,18.75 456.30,18.75 456.80,18.75" fill="none" stroke="#333" stroke-width="0.8" stroke-linejoin="round"/>
<g stroke="#cc3030" stroke-width="0.95" fill="none"><line x1="429.6" y1="11.6" x2="439.4" y2="11.6"/><line x1="434.5" y1="7.1" x2="434.5" y2="16.1"/><polyline points="431.2,10.4 429.6,11.6 431.2,12.8"/><polyline points="437.8,10.4 439.4,11.6 437.8,12.8"/><polyline points="433.3,8.7 434.5,7.1 435.7,8.7"/><polyline points="433.3,14.5 434.5,16.1 435.7,14.5"/></g>
<text x="416.60" y="26.90" font-size="7.1" text-anchor="start" font-weight="normal" fill="#222" textLength="31.2" lengthAdjust="spacingAndGlyphs">Peak area</text>
<text x="294.20" y="69.70" font-size="10.5" text-anchor="end" font-weight="normal" fill="#000">1.0</text>
<text x="294.20" y="116.20" font-size="10.5" text-anchor="end" font-weight="normal" fill="#000">0.9</text>
<text x="311.45" y="168.10" font-size="10.5" text-anchor="middle" font-weight="normal" fill="#000">–500</text>
<text x="349.90" y="168.10" font-size="10.5" text-anchor="middle" font-weight="normal" fill="#000">0</text>
<text x="388.35" y="168.10" font-size="10.5" text-anchor="middle" font-weight="normal" fill="#000">500</text>
<text x="426.80" y="168.10" font-size="10.5" text-anchor="middle" font-weight="normal" fill="#000">1000</text>
<text x="360.00" y="184.80" font-size="11.3" text-anchor="middle" font-weight="normal" fill="#000">Delay (fs)</text>
<text x="268.00" y="83.90" font-size="10.9" text-anchor="middle" font-weight="normal" fill="#000" transform="rotate(-90 268.00 83.90)"><tspan font-style="italic">A</tspan>(<tspan font-style="italic">t</tspan>)/<tspan font-style="italic">A</tspan><tspan font-size="8.0" dy="2.8">HOMO</tspan><tspan dy="-2.8"> (–500 fs)</tspan></text>
<text x="439.60" y="45.60" font-size="10.8" text-anchor="start" font-weight="normal" fill="#000">H-1</text>
<text x="439.60" y="73.80" font-size="10.8" text-anchor="start" font-weight="normal" fill="#000">H</text>
<text x="439.60" y="132.30" font-size="10.8" text-anchor="start" font-weight="normal" fill="#000">H-2</text>
<line x1="311.45" y1="315.26" x2="311.45" y2="329.86" stroke="#8383e8" stroke-width="1.1"/>
<line x1="309.15" y1="315.26" x2="313.75" y2="315.26" stroke="#8383e8" stroke-width="1.3"/>
<line x1="309.15" y1="329.86" x2="313.75" y2="329.86" stroke="#8383e8" stroke-width="1.3"/>
<line x1="319.14" y1="316.17" x2="319.14" y2="330.77" stroke="#8383e8" stroke-width="1.1"/>
<line x1="316.84" y1="316.17" x2="321.44" y2="316.17" stroke="#8383e8" stroke-width="1.3"/>
<line x1="316.84" y1="330.77" x2="321.44" y2="330.77" stroke="#8383e8" stroke-width="1.3"/>
<line x1="326.83" y1="316.43" x2="326.83" y2="331.03" stroke="#8383e8" stroke-width="1.1"/>
<line x1="324.53" y1="316.43" x2="329.13" y2="316.43" stroke="#8383e8" stroke-width="1.3"/>
<line x1="324.53" y1="331.03" x2="329.13" y2="331.03" stroke="#8383e8" stroke-width="1.3"/>
<line x1="334.52" y1="315.48" x2="334.52" y2="330.08" stroke="#8383e8" stroke-width="1.1"/>
<line x1="332.22" y1="315.48" x2="336.82" y2="315.48" stroke="#8383e8" stroke-width="1.3"/>
<line x1="332.22" y1="330.08" x2="336.82" y2="330.08" stroke="#8383e8" stroke-width="1.3"/>
<line x1="337.06" y1="315.01" x2="337.06" y2="329.61" stroke="#8383e8" stroke-width="1.1"/>
<line x1="334.76" y1="315.01" x2="339.36" y2="315.01" stroke="#8383e8" stroke-width="1.3"/>
<line x1="334.76" y1="329.61" x2="339.36" y2="329.61" stroke="#8383e8" stroke-width="1.3"/>
<line x1="339.67" y1="315.63" x2="339.67" y2="330.23" stroke="#8383e8" stroke-width="1.1"/>
<line x1="337.37" y1="315.63" x2="341.97" y2="315.63" stroke="#8383e8" stroke-width="1.3"/>
<line x1="337.37" y1="330.23" x2="341.97" y2="330.23" stroke="#8383e8" stroke-width="1.3"/>
<line x1="342.21" y1="315.63" x2="342.21" y2="330.23" stroke="#8383e8" stroke-width="1.1"/>
<line x1="339.91" y1="315.63" x2="344.51" y2="315.63" stroke="#8383e8" stroke-width="1.3"/>
<line x1="339.91" y1="330.23" x2="344.51" y2="330.23" stroke="#8383e8" stroke-width="1.3"/>
<line x1="344.75" y1="316.93" x2="344.75" y2="331.53" stroke="#8383e8" stroke-width="1.1"/>
<line x1="342.45" y1="316.93" x2="347.05" y2="316.93" stroke="#8383e8" stroke-width="1.3"/>
<line x1="342.45" y1="331.53" x2="347.05" y2="331.53" stroke="#8383e8" stroke-width="1.3"/>
<line x1="346.82" y1="319.40" x2="346.82" y2="334.00" stroke="#8383e8" stroke-width="1.1"/>
<line x1="344.52" y1="319.40" x2="349.12" y2="319.40" stroke="#8383e8" stroke-width="1.3"/>
<line x1="344.52" y1="334.00" x2="349.12" y2="334.00" stroke="#8383e8" stroke-width="1.3"/>
<line x1="348.36" y1="319.39" x2="348.36" y2="333.99" stroke="#8383e8" stroke-width="1.1"/>
<line x1="346.06" y1="319.39" x2="350.66" y2="319.39" stroke="#8383e8" stroke-width="1.3"/>
<line x1="346.06" y1="333.99" x2="350.66" y2="333.99" stroke="#8383e8" stroke-width="1.3"/>
<line x1="349.90" y1="321.73" x2="349.90" y2="336.33" stroke="#8383e8" stroke-width="1.1"/>
<line x1="347.60" y1="321.73" x2="352.20" y2="321.73" stroke="#8383e8" stroke-width="1.3"/>
<line x1="347.60" y1="336.33" x2="352.20" y2="336.33" stroke="#8383e8" stroke-width="1.3"/>
<line x1="350.67" y1="319.07" x2="350.67" y2="337.67" stroke="#8383e8" stroke-width="1.1"/>
<line x1="348.37" y1="319.07" x2="352.97" y2="319.07" stroke="#8383e8" stroke-width="1.3"/>
<line x1="348.37" y1="337.67" x2="352.97" y2="337.67" stroke="#8383e8" stroke-width="1.3"/>
<line x1="351.44" y1="319.91" x2="351.44" y2="338.51" stroke="#8383e8" stroke-width="1.1"/>
<line x1="349.14" y1="319.91" x2="353.74" y2="319.91" stroke="#8383e8" stroke-width="1.3"/>
<line x1="349.14" y1="338.51" x2="353.74" y2="338.51" stroke="#8383e8" stroke-width="1.3"/>
<line x1="352.21" y1="321.22" x2="352.21" y2="339.82" stroke="#8383e8" stroke-width="1.1"/>
<line x1="349.91" y1="321.22" x2="354.51" y2="321.22" stroke="#8383e8" stroke-width="1.3"/>
<line x1="349.91" y1="339.82" x2="354.51" y2="339.82" stroke="#8383e8" stroke-width="1.3"/>
<line x1="352.98" y1="320.90" x2="352.98" y2="339.50" stroke="#8383e8" stroke-width="1.1"/>
<line x1="350.68" y1="320.90" x2="355.28" y2="320.90" stroke="#8383e8" stroke-width="1.3"/>
<line x1="350.68" y1="339.50" x2="355.28" y2="339.50" stroke="#8383e8" stroke-width="1.3"/>
<line x1="353.75" y1="319.03" x2="353.75" y2="337.63" stroke="#8383e8" stroke-width="1.1"/>
<line x1="351.44" y1="319.03" x2="356.05" y2="319.03" stroke="#8383e8" stroke-width="1.3"/>
<line x1="351.44" y1="337.63" x2="356.05" y2="337.63" stroke="#8383e8" stroke-width="1.3"/>
<line x1="354.51" y1="319.04" x2="354.51" y2="333.64" stroke="#8383e8" stroke-width="1.1"/>
<line x1="352.21" y1="319.04" x2="356.81" y2="319.04" stroke="#8383e8" stroke-width="1.3"/>
<line x1="352.21" y1="333.64" x2="356.81" y2="333.64" stroke="#8383e8" stroke-width="1.3"/>
<line x1="355.28" y1="317.20" x2="355.28" y2="331.80" stroke="#8383e8" stroke-width="1.1"/>
<line x1="352.98" y1="317.20" x2="357.58" y2="317.20" stroke="#8383e8" stroke-width="1.3"/>
<line x1="352.98" y1="331.80" x2="357.58" y2="331.80" stroke="#8383e8" stroke-width="1.3"/>
<line x1="356.05" y1="315.48" x2="356.05" y2="330.08" stroke="#8383e8" stroke-width="1.1"/>
<line x1="353.75" y1="315.48" x2="358.35" y2="315.48" stroke="#8383e8" stroke-width="1.3"/>
<line x1="353.75" y1="330.08" x2="358.35" y2="330.08" stroke="#8383e8" stroke-width="1.3"/>
<line x1="356.82" y1="315.70" x2="356.82" y2="330.30" stroke="#8383e8" stroke-width="1.1"/>
<line x1="354.52" y1="315.70" x2="359.12" y2="315.70" stroke="#8383e8" stroke-width="1.3"/>
<line x1="354.52" y1="330.30" x2="359.12" y2="330.30" stroke="#8383e8" stroke-width="1.3"/>
<line x1="357.59" y1="315.33" x2="357.59" y2="329.93" stroke="#8383e8" stroke-width="1.1"/>
<line x1="355.29" y1="315.33" x2="359.89" y2="315.33" stroke="#8383e8" stroke-width="1.3"/>
<line x1="355.29" y1="329.93" x2="359.89" y2="329.93" stroke="#8383e8" stroke-width="1.3"/>
<line x1="358.74" y1="315.57" x2="358.74" y2="330.17" stroke="#8383e8" stroke-width="1.1"/>
<line x1="356.44" y1="315.57" x2="361.04" y2="315.57" stroke="#8383e8" stroke-width="1.3"/>
<line x1="356.44" y1="330.17" x2="361.04" y2="330.17" stroke="#8383e8" stroke-width="1.3"/>
<line x1="359.90" y1="315.73" x2="359.90" y2="330.33" stroke="#8383e8" stroke-width="1.1"/>
<line x1="357.60" y1="315.73" x2="362.20" y2="315.73" stroke="#8383e8" stroke-width="1.3"/>
<line x1="357.60" y1="330.33" x2="362.20" y2="330.33" stroke="#8383e8" stroke-width="1.3"/>
<line x1="361.44" y1="315.45" x2="361.44" y2="330.05" stroke="#8383e8" stroke-width="1.1"/>
<line x1="359.13" y1="315.45" x2="363.74" y2="315.45" stroke="#8383e8" stroke-width="1.3"/>
<line x1="359.13" y1="330.05" x2="363.74" y2="330.05" stroke="#8383e8" stroke-width="1.3"/>
<line x1="365.28" y1="315.87" x2="365.28" y2="330.47" stroke="#8383e8" stroke-width="1.1"/>
<line x1="362.98" y1="315.87" x2="367.58" y2="315.87" stroke="#8383e8" stroke-width="1.3"/>
<line x1="362.98" y1="330.47" x2="367.58" y2="330.47" stroke="#8383e8" stroke-width="1.3"/>
<line x1="369.12" y1="315.80" x2="369.12" y2="330.40" stroke="#8383e8" stroke-width="1.1"/>
<line x1="366.82" y1="315.80" x2="371.43" y2="315.80" stroke="#8383e8" stroke-width="1.3"/>
<line x1="366.82" y1="330.40" x2="371.43" y2="330.40" stroke="#8383e8" stroke-width="1.3"/>
<line x1="372.97" y1="316.55" x2="372.97" y2="331.15" stroke="#8383e8" stroke-width="1.1"/>
<line x1="370.67" y1="316.55" x2="375.27" y2="316.55" stroke="#8383e8" stroke-width="1.3"/>
<line x1="370.67" y1="331.15" x2="375.27" y2="331.15" stroke="#8383e8" stroke-width="1.3"/>
<line x1="376.81" y1="315.72" x2="376.81" y2="330.32" stroke="#8383e8" stroke-width="1.1"/>
<line x1="374.51" y1="315.72" x2="379.12" y2="315.72" stroke="#8383e8" stroke-width="1.3"/>
<line x1="374.51" y1="330.32" x2="379.12" y2="330.32" stroke="#8383e8" stroke-width="1.3"/>
<line x1="380.66" y1="315.37" x2="380.66" y2="329.97" stroke="#8383e8" stroke-width="1.1"/>
<line x1="378.36" y1="315.37" x2="382.96" y2="315.37" stroke="#8383e8" stroke-width="1.3"/>
<line x1="378.36" y1="329.97" x2="382.96" y2="329.97" stroke="#8383e8" stroke-width="1.3"/>
<line x1="384.50" y1="315.41" x2="384.50" y2="330.01" stroke="#8383e8" stroke-width="1.1"/>
<line x1="382.20" y1="315.41" x2="386.81" y2="315.41" stroke="#8383e8" stroke-width="1.3"/>
<line x1="382.20" y1="330.01" x2="386.81" y2="330.01" stroke="#8383e8" stroke-width="1.3"/>
<line x1="388.35" y1="315.60" x2="388.35" y2="330.20" stroke="#8383e8" stroke-width="1.1"/>
<line x1="386.05" y1="315.60" x2="390.65" y2="315.60" stroke="#8383e8" stroke-width="1.3"/>
<line x1="386.05" y1="330.20" x2="390.65" y2="330.20" stroke="#8383e8" stroke-width="1.3"/>
<line x1="396.04" y1="316.09" x2="396.04" y2="330.69" stroke="#8383e8" stroke-width="1.1"/>
<line x1="393.74" y1="316.09" x2="398.34" y2="316.09" stroke="#8383e8" stroke-width="1.3"/>
<line x1="393.74" y1="330.69" x2="398.34" y2="330.69" stroke="#8383e8" stroke-width="1.3"/>
<line x1="403.73" y1="315.48" x2="403.73" y2="330.08" stroke="#8383e8" stroke-width="1.1"/>
<line x1="401.43" y1="315.48" x2="406.03" y2="315.48" stroke="#8383e8" stroke-width="1.3"/>
<line x1="401.43" y1="330.08" x2="406.03" y2="330.08" stroke="#8383e8" stroke-width="1.3"/>
<line x1="411.42" y1="315.85" x2="411.42" y2="330.45" stroke="#8383e8" stroke-width="1.1"/>
<line x1="409.12" y1="315.85" x2="413.72" y2="315.85" stroke="#8383e8" stroke-width="1.3"/>
<line x1="409.12" y1="330.45" x2="413.72" y2="330.45" stroke="#8383e8" stroke-width="1.3"/>
<line x1="419.11" y1="316.59" x2="419.11" y2="331.19" stroke="#8383e8" stroke-width="1.1"/>
<line x1="416.81" y1="316.59" x2="421.41" y2="316.59" stroke="#8383e8" stroke-width="1.3"/>
<line x1="416.81" y1="331.19" x2="421.41" y2="331.19" stroke="#8383e8" stroke-width="1.3"/>
<line x1="426.80" y1="314.40" x2="426.80" y2="329.00" stroke="#8383e8" stroke-width="1.1"/>
<line x1="424.50" y1="314.40" x2="429.10" y2="314.40" stroke="#8383e8" stroke-width="1.3"/>
<line x1="424.50" y1="329.00" x2="429.10" y2="329.00" stroke="#8383e8" stroke-width="1.3"/>
<circle cx="311.45" cy="322.56" r="2.1" fill="#fff" stroke="#8383e8" stroke-width="0.8"/>
<circle cx="319.14" cy="323.47" r="2.1" fill="#fff" stroke="#8383e8" stroke-width="0.8"/>
<circle cx="326.83" cy="323.73" r="2.1" fill="#fff" stroke="#8383e8" stroke-width="0.8"/>
<circle cx="334.52" cy="322.78" r="2.1" fill="#fff" stroke="#8383e8" stroke-width="0.8"/>
<circle cx="337.06" cy="322.31" r="2.1" fill="#fff" stroke="#8383e8" stroke-width="0.8"/>
<circle cx="339.67" cy="322.93" r="2.1" fill="#fff" stroke="#8383e8" stroke-width="0.8"/>
<circle cx="342.21" cy="322.93" r="2.1" fill="#fff" stroke="#8383e8" stroke-width="0.8"/>
<circle cx="344.75" cy="324.23" r="2.1" fill="#fff" stroke="#8383e8" stroke-width="0.8"/>
<circle cx="346.82" cy="326.70" r="2.1" fill="#fff" stroke="#8383e8" stroke-width="0.8"/>
<circle cx="348.36" cy="326.69" r="2.1" fill="#fff" stroke="#8383e8" stroke-width="0.8"/>
<circle cx="349.90" cy="329.03" r="2.1" fill="#fff" stroke="#8383e8" stroke-width="0.8"/>
<circle cx="350.67" cy="328.37" r="2.1" fill="#fff" stroke="#8383e8" stroke-width="0.8"/>
<circle cx="351.44" cy="329.21" r="2.1" fill="#fff" stroke="#8383e8" stroke-width="0.8"/>
<circle cx="352.21" cy="330.52" r="2.1" fill="#fff" stroke="#8383e8" stroke-width="0.8"/>
<circle cx="352.98" cy="330.20" r="2.1" fill="#fff" stroke="#8383e8" stroke-width="0.8"/>
<circle cx="353.75" cy="328.33" r="2.1" fill="#fff" stroke="#8383e8" stroke-width="0.8"/>
<circle cx="354.51" cy="326.34" r="2.1" fill="#fff" stroke="#8383e8" stroke-width="0.8"/>
<circle cx="355.28" cy="324.50" r="2.1" fill="#fff" stroke="#8383e8" stroke-width="0.8"/>
<circle cx="356.05" cy="322.78" r="2.1" fill="#fff" stroke="#8383e8" stroke-width="0.8"/>
<circle cx="356.82" cy="323.00" r="2.1" fill="#fff" stroke="#8383e8" stroke-width="0.8"/>
<circle cx="357.59" cy="322.63" r="2.1" fill="#fff" stroke="#8383e8" stroke-width="0.8"/>
<circle cx="358.74" cy="322.87" r="2.1" fill="#fff" stroke="#8383e8" stroke-width="0.8"/>
<circle cx="359.90" cy="323.03" r="2.1" fill="#fff" stroke="#8383e8" stroke-width="0.8"/>
<circle cx="361.44" cy="322.75" r="2.1" fill="#fff" stroke="#8383e8" stroke-width="0.8"/>
<circle cx="365.28" cy="323.17" r="2.1" fill="#fff" stroke="#8383e8" stroke-width="0.8"/>
<circle cx="369.12" cy="323.10" r="2.1" fill="#fff" stroke="#8383e8" stroke-width="0.8"/>
<circle cx="372.97" cy="323.85" r="2.1" fill="#fff" stroke="#8383e8" stroke-width="0.8"/>
<circle cx="376.81" cy="323.02" r="2.1" fill="#fff" stroke="#8383e8" stroke-width="0.8"/>
<circle cx="380.66" cy="322.67" r="2.1" fill="#fff" stroke="#8383e8" stroke-width="0.8"/>
<circle cx="384.50" cy="322.71" r="2.1" fill="#fff" stroke="#8383e8" stroke-width="0.8"/>
<circle cx="388.35" cy="322.90" r="2.1" fill="#fff" stroke="#8383e8" stroke-width="0.8"/>
<circle cx="396.04" cy="323.39" r="2.1" fill="#fff" stroke="#8383e8" stroke-width="0.8"/>
<circle cx="403.73" cy="322.78" r="2.1" fill="#fff" stroke="#8383e8" stroke-width="0.8"/>
<circle cx="411.42" cy="323.15" r="2.1" fill="#fff" stroke="#8383e8" stroke-width="0.8"/>
<circle cx="419.11" cy="323.89" r="2.1" fill="#fff" stroke="#8383e8" stroke-width="0.8"/>
<circle cx="426.80" cy="321.70" r="2.1" fill="#fff" stroke="#8383e8" stroke-width="0.8"/>
<line x1="311.45" y1="284.84" x2="311.45" y2="299.24" stroke="#2424d0" stroke-width="1.1"/>
<line x1="309.15" y1="284.84" x2="313.75" y2="284.84" stroke="#2424d0" stroke-width="1.3"/>
<line x1="309.15" y1="299.24" x2="313.75" y2="299.24" stroke="#2424d0" stroke-width="1.3"/>
<line x1="319.14" y1="285.52" x2="319.14" y2="299.92" stroke="#2424d0" stroke-width="1.1"/>
<line x1="316.84" y1="285.52" x2="321.44" y2="285.52" stroke="#2424d0" stroke-width="1.3"/>
<line x1="316.84" y1="299.92" x2="321.44" y2="299.92" stroke="#2424d0" stroke-width="1.3"/>
<line x1="326.83" y1="285.60" x2="326.83" y2="300.00" stroke="#2424d0" stroke-width="1.1"/>
<line x1="324.53" y1="285.60" x2="329.13" y2="285.60" stroke="#2424d0" stroke-width="1.3"/>
<line x1="324.53" y1="300.00" x2="329.13" y2="300.00" stroke="#2424d0" stroke-width="1.3"/>
<line x1="334.52" y1="285.52" x2="334.52" y2="299.92" stroke="#2424d0" stroke-width="1.1"/>
<line x1="332.22" y1="285.52" x2="336.82" y2="285.52" stroke="#2424d0" stroke-width="1.3"/>
<line x1="332.22" y1="299.92" x2="336.82" y2="299.92" stroke="#2424d0" stroke-width="1.3"/>
<line x1="337.06" y1="285.18" x2="337.06" y2="299.58" stroke="#2424d0" stroke-width="1.1"/>
<line x1="334.76" y1="285.18" x2="339.36" y2="285.18" stroke="#2424d0" stroke-width="1.3"/>
<line x1="334.76" y1="299.58" x2="339.36" y2="299.58" stroke="#2424d0" stroke-width="1.3"/>
<line x1="339.67" y1="285.73" x2="339.67" y2="300.13" stroke="#2424d0" stroke-width="1.1"/>
<line x1="337.37" y1="285.73" x2="341.97" y2="285.73" stroke="#2424d0" stroke-width="1.3"/>
<line x1="337.37" y1="300.13" x2="341.97" y2="300.13" stroke="#2424d0" stroke-width="1.3"/>
<line x1="342.21" y1="285.54" x2="342.21" y2="299.94" stroke="#2424d0" stroke-width="1.1"/>
<line x1="339.91" y1="285.54" x2="344.51" y2="285.54" stroke="#2424d0" stroke-width="1.3"/>
<line x1="339.91" y1="299.94" x2="344.51" y2="299.94" stroke="#2424d0" stroke-width="1.3"/>
<line x1="344.75" y1="286.67" x2="344.75" y2="301.07" stroke="#2424d0" stroke-width="1.1"/>
<line x1="342.45" y1="286.67" x2="347.05" y2="286.67" stroke="#2424d0" stroke-width="1.3"/>
<line x1="342.45" y1="301.07" x2="347.05" y2="301.07" stroke="#2424d0" stroke-width="1.3"/>
<line x1="346.82" y1="289.95" x2="346.82" y2="304.35" stroke="#2424d0" stroke-width="1.1"/>
<line x1="344.52" y1="289.95" x2="349.12" y2="289.95" stroke="#2424d0" stroke-width="1.3"/>
<line x1="344.52" y1="304.35" x2="349.12" y2="304.35" stroke="#2424d0" stroke-width="1.3"/>
<line x1="348.36" y1="290.24" x2="348.36" y2="304.64" stroke="#2424d0" stroke-width="1.1"/>
<line x1="346.06" y1="290.24" x2="350.66" y2="290.24" stroke="#2424d0" stroke-width="1.3"/>
<line x1="346.06" y1="304.64" x2="350.66" y2="304.64" stroke="#2424d0" stroke-width="1.3"/>
<line x1="349.90" y1="291.12" x2="349.90" y2="305.52" stroke="#2424d0" stroke-width="1.1"/>
<line x1="347.60" y1="291.12" x2="352.20" y2="291.12" stroke="#2424d0" stroke-width="1.3"/>
<line x1="347.60" y1="305.52" x2="352.20" y2="305.52" stroke="#2424d0" stroke-width="1.3"/>
<line x1="350.67" y1="290.02" x2="350.67" y2="308.42" stroke="#2424d0" stroke-width="1.1"/>
<line x1="348.37" y1="290.02" x2="352.97" y2="290.02" stroke="#2424d0" stroke-width="1.3"/>
<line x1="348.37" y1="308.42" x2="352.97" y2="308.42" stroke="#2424d0" stroke-width="1.3"/>
<line x1="351.44" y1="290.62" x2="351.44" y2="309.02" stroke="#2424d0" stroke-width="1.1"/>
<line x1="349.14" y1="290.62" x2="353.74" y2="290.62" stroke="#2424d0" stroke-width="1.3"/>
<line x1="349.14" y1="309.02" x2="353.74" y2="309.02" stroke="#2424d0" stroke-width="1.3"/>
<line x1="352.21" y1="291.37" x2="352.21" y2="309.77" stroke="#2424d0" stroke-width="1.1"/>
<line x1="349.91" y1="291.37" x2="354.51" y2="291.37" stroke="#2424d0" stroke-width="1.3"/>
<line x1="349.91" y1="309.77" x2="354.51" y2="309.77" stroke="#2424d0" stroke-width="1.3"/>
<line x1="352.98" y1="287.59" x2="352.98" y2="305.99" stroke="#2424d0" stroke-width="1.1"/>
<line x1="350.68" y1="287.59" x2="355.28" y2="287.59" stroke="#2424d0" stroke-width="1.3"/>
<line x1="350.68" y1="305.99" x2="355.28" y2="305.99" stroke="#2424d0" stroke-width="1.3"/>
<line x1="353.75" y1="286.26" x2="353.75" y2="304.66" stroke="#2424d0" stroke-width="1.1"/>
<line x1="351.44" y1="286.26" x2="356.05" y2="286.26" stroke="#2424d0" stroke-width="1.3"/>
<line x1="351.44" y1="304.66" x2="356.05" y2="304.66" stroke="#2424d0" stroke-width="1.3"/>
<line x1="354.51" y1="286.55" x2="354.51" y2="300.95" stroke="#2424d0" stroke-width="1.1"/>
<line x1="352.21" y1="286.55" x2="356.81" y2="286.55" stroke="#2424d0" stroke-width="1.3"/>
<line x1="352.21" y1="300.95" x2="356.81" y2="300.95" stroke="#2424d0" stroke-width="1.3"/>
<line x1="355.28" y1="283.02" x2="355.28" y2="297.42" stroke="#2424d0" stroke-width="1.1"/>
<line x1="352.98" y1="283.02" x2="357.58" y2="283.02" stroke="#2424d0" stroke-width="1.3"/>
<line x1="352.98" y1="297.42" x2="357.58" y2="297.42" stroke="#2424d0" stroke-width="1.3"/>
<line x1="356.05" y1="283.58" x2="356.05" y2="297.98" stroke="#2424d0" stroke-width="1.1"/>
<line x1="353.75" y1="283.58" x2="358.35" y2="283.58" stroke="#2424d0" stroke-width="1.3"/>
<line x1="353.75" y1="297.98" x2="358.35" y2="297.98" stroke="#2424d0" stroke-width="1.3"/>
<line x1="356.82" y1="284.10" x2="356.82" y2="298.50" stroke="#2424d0" stroke-width="1.1"/>
<line x1="354.52" y1="284.10" x2="359.12" y2="284.10" stroke="#2424d0" stroke-width="1.3"/>
<line x1="354.52" y1="298.50" x2="359.12" y2="298.50" stroke="#2424d0" stroke-width="1.3"/>
<line x1="357.59" y1="284.06" x2="357.59" y2="298.46" stroke="#2424d0" stroke-width="1.1"/>
<line x1="355.29" y1="284.06" x2="359.89" y2="284.06" stroke="#2424d0" stroke-width="1.3"/>
<line x1="355.29" y1="298.46" x2="359.89" y2="298.46" stroke="#2424d0" stroke-width="1.3"/>
<line x1="358.74" y1="284.40" x2="358.74" y2="298.80" stroke="#2424d0" stroke-width="1.1"/>
<line x1="356.44" y1="284.40" x2="361.04" y2="284.40" stroke="#2424d0" stroke-width="1.3"/>
<line x1="356.44" y1="298.80" x2="361.04" y2="298.80" stroke="#2424d0" stroke-width="1.3"/>
<line x1="359.90" y1="282.82" x2="359.90" y2="297.22" stroke="#2424d0" stroke-width="1.1"/>
<line x1="357.60" y1="282.82" x2="362.20" y2="282.82" stroke="#2424d0" stroke-width="1.3"/>
<line x1="357.60" y1="297.22" x2="362.20" y2="297.22" stroke="#2424d0" stroke-width="1.3"/>
<line x1="361.44" y1="283.52" x2="361.44" y2="297.92" stroke="#2424d0" stroke-width="1.1"/>
<line x1="359.13" y1="283.52" x2="363.74" y2="283.52" stroke="#2424d0" stroke-width="1.3"/>
<line x1="359.13" y1="297.92" x2="363.74" y2="297.92" stroke="#2424d0" stroke-width="1.3"/>
<line x1="365.28" y1="283.58" x2="365.28" y2="297.98" stroke="#2424d0" stroke-width="1.1"/>
<line x1="362.98" y1="283.58" x2="367.58" y2="283.58" stroke="#2424d0" stroke-width="1.3"/>
<line x1="362.98" y1="297.98" x2="367.58" y2="297.98" stroke="#2424d0" stroke-width="1.3"/>
<line x1="369.12" y1="284.12" x2="369.12" y2="298.52" stroke="#2424d0" stroke-width="1.1"/>
<line x1="366.82" y1="284.12" x2="371.43" y2="284.12" stroke="#2424d0" stroke-width="1.3"/>
<line x1="366.82" y1="298.52" x2="371.43" y2="298.52" stroke="#2424d0" stroke-width="1.3"/>
<line x1="372.97" y1="284.40" x2="372.97" y2="298.80" stroke="#2424d0" stroke-width="1.1"/>
<line x1="370.67" y1="284.40" x2="375.27" y2="284.40" stroke="#2424d0" stroke-width="1.3"/>
<line x1="370.67" y1="298.80" x2="375.27" y2="298.80" stroke="#2424d0" stroke-width="1.3"/>
<line x1="376.81" y1="282.57" x2="376.81" y2="296.97" stroke="#2424d0" stroke-width="1.1"/>
<line x1="374.51" y1="282.57" x2="379.12" y2="282.57" stroke="#2424d0" stroke-width="1.3"/>
<line x1="374.51" y1="296.97" x2="379.12" y2="296.97" stroke="#2424d0" stroke-width="1.3"/>
<line x1="380.66" y1="284.50" x2="380.66" y2="298.90" stroke="#2424d0" stroke-width="1.1"/>
<line x1="378.36" y1="284.50" x2="382.96" y2="284.50" stroke="#2424d0" stroke-width="1.3"/>
<line x1="378.36" y1="298.90" x2="382.96" y2="298.90" stroke="#2424d0" stroke-width="1.3"/>
<line x1="384.50" y1="283.28" x2="384.50" y2="297.68" stroke="#2424d0" stroke-width="1.1"/>
<line x1="382.20" y1="283.28" x2="386.81" y2="283.28" stroke="#2424d0" stroke-width="1.3"/>
<line x1="382.20" y1="297.68" x2="386.81" y2="297.68" stroke="#2424d0" stroke-width="1.3"/>
<line x1="388.35" y1="284.39" x2="388.35" y2="298.79" stroke="#2424d0" stroke-width="1.1"/>
<line x1="386.05" y1="284.39" x2="390.65" y2="284.39" stroke="#2424d0" stroke-width="1.3"/>
<line x1="386.05" y1="298.79" x2="390.65" y2="298.79" stroke="#2424d0" stroke-width="1.3"/>
<line x1="396.04" y1="283.39" x2="396.04" y2="297.79" stroke="#2424d0" stroke-width="1.1"/>
<line x1="393.74" y1="283.39" x2="398.34" y2="283.39" stroke="#2424d0" stroke-width="1.3"/>
<line x1="393.74" y1="297.79" x2="398.34" y2="297.79" stroke="#2424d0" stroke-width="1.3"/>
<line x1="403.73" y1="284.31" x2="403.73" y2="298.71" stroke="#2424d0" stroke-width="1.1"/>
<line x1="401.43" y1="284.31" x2="406.03" y2="284.31" stroke="#2424d0" stroke-width="1.3"/>
<line x1="401.43" y1="298.71" x2="406.03" y2="298.71" stroke="#2424d0" stroke-width="1.3"/>
<line x1="411.42" y1="284.89" x2="411.42" y2="299.29" stroke="#2424d0" stroke-width="1.1"/>
<line x1="409.12" y1="284.89" x2="413.72" y2="284.89" stroke="#2424d0" stroke-width="1.3"/>
<line x1="409.12" y1="299.29" x2="413.72" y2="299.29" stroke="#2424d0" stroke-width="1.3"/>
<line x1="419.11" y1="284.29" x2="419.11" y2="298.69" stroke="#2424d0" stroke-width="1.1"/>
<line x1="416.81" y1="284.29" x2="421.41" y2="284.29" stroke="#2424d0" stroke-width="1.3"/>
<line x1="416.81" y1="298.69" x2="421.41" y2="298.69" stroke="#2424d0" stroke-width="1.3"/>
<line x1="426.80" y1="284.53" x2="426.80" y2="298.93" stroke="#2424d0" stroke-width="1.1"/>
<line x1="424.50" y1="284.53" x2="429.10" y2="284.53" stroke="#2424d0" stroke-width="1.3"/>
<line x1="424.50" y1="298.93" x2="429.10" y2="298.93" stroke="#2424d0" stroke-width="1.3"/>
<circle cx="311.45" cy="292.04" r="2.1" fill="#fff" stroke="#2424d0" stroke-width="0.8"/>
<circle cx="319.14" cy="292.72" r="2.1" fill="#fff" stroke="#2424d0" stroke-width="0.8"/>
<circle cx="326.83" cy="292.80" r="2.1" fill="#fff" stroke="#2424d0" stroke-width="0.8"/>
<circle cx="334.52" cy="292.72" r="2.1" fill="#fff" stroke="#2424d0" stroke-width="0.8"/>
<circle cx="337.06" cy="292.38" r="2.1" fill="#fff" stroke="#2424d0" stroke-width="0.8"/>
<circle cx="339.67" cy="292.93" r="2.1" fill="#fff" stroke="#2424d0" stroke-width="0.8"/>
<circle cx="342.21" cy="292.74" r="2.1" fill="#fff" stroke="#2424d0" stroke-width="0.8"/>
<circle cx="344.75" cy="293.87" r="2.1" fill="#fff" stroke="#2424d0" stroke-width="0.8"/>
<circle cx="346.82" cy="297.15" r="2.1" fill="#fff" stroke="#2424d0" stroke-width="0.8"/>
<circle cx="348.36" cy="297.44" r="2.1" fill="#fff" stroke="#2424d0" stroke-width="0.8"/>
<circle cx="349.90" cy="298.32" r="2.1" fill="#fff" stroke="#2424d0" stroke-width="0.8"/>
<circle cx="350.67" cy="299.22" r="2.1" fill="#fff" stroke="#2424d0" stroke-width="0.8"/>
<circle cx="351.44" cy="299.82" r="2.1" fill="#fff" stroke="#2424d0" stroke-width="0.8"/>
<circle cx="352.21" cy="300.57" r="2.1" fill="#fff" stroke="#2424d0" stroke-width="0.8"/>
<circle cx="352.98" cy="296.79" r="2.1" fill="#fff" stroke="#2424d0" stroke-width="0.8"/>
<circle cx="353.75" cy="295.46" r="2.1" fill="#fff" stroke="#2424d0" stroke-width="0.8"/>
<circle cx="354.51" cy="293.75" r="2.1" fill="#fff" stroke="#2424d0" stroke-width="0.8"/>
<circle cx="355.28" cy="290.22" r="2.1" fill="#fff" stroke="#2424d0" stroke-width="0.8"/>
<circle cx="356.05" cy="290.78" r="2.1" fill="#fff" stroke="#2424d0" stroke-width="0.8"/>
<circle cx="356.82" cy="291.30" r="2.1" fill="#fff" stroke="#2424d0" stroke-width="0.8"/>
<circle cx="357.59" cy="291.26" r="2.1" fill="#fff" stroke="#2424d0" stroke-width="0.8"/>
<circle cx="358.74" cy="291.60" r="2.1" fill="#fff" stroke="#2424d0" stroke-width="0.8"/>
<circle cx="359.90" cy="290.02" r="2.1" fill="#fff" stroke="#2424d0" stroke-width="0.8"/>
<circle cx="361.44" cy="290.72" r="2.1" fill="#fff" stroke="#2424d0" stroke-width="0.8"/>
<circle cx="365.28" cy="290.78" r="2.1" fill="#fff" stroke="#2424d0" stroke-width="0.8"/>
<circle cx="369.12" cy="291.32" r="2.1" fill="#fff" stroke="#2424d0" stroke-width="0.8"/>
<circle cx="372.97" cy="291.60" r="2.1" fill="#fff" stroke="#2424d0" stroke-width="0.8"/>
<circle cx="376.81" cy="289.77" r="2.1" fill="#fff" stroke="#2424d0" stroke-width="0.8"/>
<circle cx="380.66" cy="291.70" r="2.1" fill="#fff" stroke="#2424d0" stroke-width="0.8"/>
<circle cx="384.50" cy="290.48" r="2.1" fill="#fff" stroke="#2424d0" stroke-width="0.8"/>
<circle cx="388.35" cy="291.59" r="2.1" fill="#fff" stroke="#2424d0" stroke-width="0.8"/>
<circle cx="396.04" cy="290.59" r="2.1" fill="#fff" stroke="#2424d0" stroke-width="0.8"/>
<circle cx="403.73" cy="291.51" r="2.1" fill="#fff" stroke="#2424d0" stroke-width="0.8"/>
<circle cx="411.42" cy="292.09" r="2.1" fill="#fff" stroke="#2424d0" stroke-width="0.8"/>
<circle cx="419.11" cy="291.49" r="2.1" fill="#fff" stroke="#2424d0" stroke-width="0.8"/>
<circle cx="426.80" cy="291.73" r="2.1" fill="#fff" stroke="#2424d0" stroke-width="0.8"/>
<line x1="311.45" y1="239.80" x2="311.45" y2="254.20" stroke="#2c2c8c" stroke-width="1.1"/>
<line x1="309.15" y1="239.80" x2="313.75" y2="239.80" stroke="#2c2c8c" stroke-width="1.3"/>
<line x1="309.15" y1="254.20" x2="313.75" y2="254.20" stroke="#2c2c8c" stroke-width="1.3"/>
<line x1="319.14" y1="239.47" x2="319.14" y2="253.87" stroke="#2c2c8c" stroke-width="1.1"/>
<line x1="316.84" y1="239.47" x2="321.44" y2="239.47" stroke="#2c2c8c" stroke-width="1.3"/>
<line x1="316.84" y1="253.87" x2="321.44" y2="253.87" stroke="#2c2c8c" stroke-width="1.3"/>
<line x1="326.83" y1="239.36" x2="326.83" y2="253.76" stroke="#2c2c8c" stroke-width="1.1"/>
<line x1="324.53" y1="239.36" x2="329.13" y2="239.36" stroke="#2c2c8c" stroke-width="1.3"/>
<line x1="324.53" y1="253.76" x2="329.13" y2="253.76" stroke="#2c2c8c" stroke-width="1.3"/>
<line x1="334.52" y1="240.17" x2="334.52" y2="254.57" stroke="#2c2c8c" stroke-width="1.1"/>
<line x1="332.22" y1="240.17" x2="336.82" y2="240.17" stroke="#2c2c8c" stroke-width="1.3"/>
<line x1="332.22" y1="254.57" x2="336.82" y2="254.57" stroke="#2c2c8c" stroke-width="1.3"/>
<line x1="337.06" y1="239.92" x2="337.06" y2="254.32" stroke="#2c2c8c" stroke-width="1.1"/>
<line x1="334.76" y1="239.92" x2="339.36" y2="239.92" stroke="#2c2c8c" stroke-width="1.3"/>
<line x1="334.76" y1="254.32" x2="339.36" y2="254.32" stroke="#2c2c8c" stroke-width="1.3"/>
<line x1="339.67" y1="239.25" x2="339.67" y2="253.65" stroke="#2c2c8c" stroke-width="1.1"/>
<line x1="337.37" y1="239.25" x2="341.97" y2="239.25" stroke="#2c2c8c" stroke-width="1.3"/>
<line x1="337.37" y1="253.65" x2="341.97" y2="253.65" stroke="#2c2c8c" stroke-width="1.3"/>
<line x1="342.21" y1="240.77" x2="342.21" y2="255.17" stroke="#2c2c8c" stroke-width="1.1"/>
<line x1="339.91" y1="240.77" x2="344.51" y2="240.77" stroke="#2c2c8c" stroke-width="1.3"/>
<line x1="339.91" y1="255.17" x2="344.51" y2="255.17" stroke="#2c2c8c" stroke-width="1.3"/>
<line x1="344.75" y1="240.17" x2="344.75" y2="254.57" stroke="#2c2c8c" stroke-width="1.1"/>
<line x1="342.45" y1="240.17" x2="347.05" y2="240.17" stroke="#2c2c8c" stroke-width="1.3"/>
<line x1="342.45" y1="254.57" x2="347.05" y2="254.57" stroke="#2c2c8c" stroke-width="1.3"/>
<line x1="346.82" y1="242.77" x2="346.82" y2="257.17" stroke="#2c2c8c" stroke-width="1.1"/>
<line x1="344.52" y1="242.77" x2="349.12" y2="242.77" stroke="#2c2c8c" stroke-width="1.3"/>
<line x1="344.52" y1="257.17" x2="349.12" y2="257.17" stroke="#2c2c8c" stroke-width="1.3"/>
<line x1="348.36" y1="243.35" x2="348.36" y2="257.75" stroke="#2c2c8c" stroke-width="1.1"/>
<line x1="346.06" y1="243.35" x2="350.66" y2="243.35" stroke="#2c2c8c" stroke-width="1.3"/>
<line x1="346.06" y1="257.75" x2="350.66" y2="257.75" stroke="#2c2c8c" stroke-width="1.3"/>
<line x1="349.90" y1="244.72" x2="349.90" y2="259.12" stroke="#2c2c8c" stroke-width="1.1"/>
<line x1="347.60" y1="244.72" x2="352.20" y2="244.72" stroke="#2c2c8c" stroke-width="1.3"/>
<line x1="347.60" y1="259.12" x2="352.20" y2="259.12" stroke="#2c2c8c" stroke-width="1.3"/>
<line x1="350.67" y1="243.59" x2="350.67" y2="261.99" stroke="#2c2c8c" stroke-width="1.1"/>
<line x1="348.37" y1="243.59" x2="352.97" y2="243.59" stroke="#2c2c8c" stroke-width="1.3"/>
<line x1="348.37" y1="261.99" x2="352.97" y2="261.99" stroke="#2c2c8c" stroke-width="1.3"/>
<line x1="351.44" y1="243.93" x2="351.44" y2="262.33" stroke="#2c2c8c" stroke-width="1.1"/>
<line x1="349.14" y1="243.93" x2="353.74" y2="243.93" stroke="#2c2c8c" stroke-width="1.3"/>
<line x1="349.14" y1="262.33" x2="353.74" y2="262.33" stroke="#2c2c8c" stroke-width="1.3"/>
<line x1="352.21" y1="244.72" x2="352.21" y2="263.12" stroke="#2c2c8c" stroke-width="1.1"/>
<line x1="349.91" y1="244.72" x2="354.51" y2="244.72" stroke="#2c2c8c" stroke-width="1.3"/>
<line x1="349.91" y1="263.12" x2="354.51" y2="263.12" stroke="#2c2c8c" stroke-width="1.3"/>
<line x1="352.98" y1="241.59" x2="352.98" y2="259.99" stroke="#2c2c8c" stroke-width="1.1"/>
<line x1="350.68" y1="241.59" x2="355.28" y2="241.59" stroke="#2c2c8c" stroke-width="1.3"/>
<line x1="350.68" y1="259.99" x2="355.28" y2="259.99" stroke="#2c2c8c" stroke-width="1.3"/>
<line x1="353.75" y1="239.55" x2="353.75" y2="257.95" stroke="#2c2c8c" stroke-width="1.1"/>
<line x1="351.44" y1="239.55" x2="356.05" y2="239.55" stroke="#2c2c8c" stroke-width="1.3"/>
<line x1="351.44" y1="257.95" x2="356.05" y2="257.95" stroke="#2c2c8c" stroke-width="1.3"/>
<line x1="354.51" y1="240.56" x2="354.51" y2="254.96" stroke="#2c2c8c" stroke-width="1.1"/>
<line x1="352.21" y1="240.56" x2="356.81" y2="240.56" stroke="#2c2c8c" stroke-width="1.3"/>
<line x1="352.21" y1="254.96" x2="356.81" y2="254.96" stroke="#2c2c8c" stroke-width="1.3"/>
<line x1="355.28" y1="237.72" x2="355.28" y2="252.12" stroke="#2c2c8c" stroke-width="1.1"/>
<line x1="352.98" y1="237.72" x2="357.58" y2="237.72" stroke="#2c2c8c" stroke-width="1.3"/>
<line x1="352.98" y1="252.12" x2="357.58" y2="252.12" stroke="#2c2c8c" stroke-width="1.3"/>
<line x1="356.05" y1="237.71" x2="356.05" y2="252.11" stroke="#2c2c8c" stroke-width="1.1"/>
<line x1="353.75" y1="237.71" x2="358.35" y2="237.71" stroke="#2c2c8c" stroke-width="1.3"/>
<line x1="353.75" y1="252.11" x2="358.35" y2="252.11" stroke="#2c2c8c" stroke-width="1.3"/>
<line x1="356.82" y1="237.50" x2="356.82" y2="251.90" stroke="#2c2c8c" stroke-width="1.1"/>
<line x1="354.52" y1="237.50" x2="359.12" y2="237.50" stroke="#2c2c8c" stroke-width="1.3"/>
<line x1="354.52" y1="251.90" x2="359.12" y2="251.90" stroke="#2c2c8c" stroke-width="1.3"/>
<line x1="357.59" y1="238.89" x2="357.59" y2="253.29" stroke="#2c2c8c" stroke-width="1.1"/>
<line x1="355.29" y1="238.89" x2="359.89" y2="238.89" stroke="#2c2c8c" stroke-width="1.3"/>
<line x1="355.29" y1="253.29" x2="359.89" y2="253.29" stroke="#2c2c8c" stroke-width="1.3"/>
<line x1="358.74" y1="238.66" x2="358.74" y2="253.06" stroke="#2c2c8c" stroke-width="1.1"/>
<line x1="356.44" y1="238.66" x2="361.04" y2="238.66" stroke="#2c2c8c" stroke-width="1.3"/>
<line x1="356.44" y1="253.06" x2="361.04" y2="253.06" stroke="#2c2c8c" stroke-width="1.3"/>
<line x1="359.90" y1="239.05" x2="359.90" y2="253.45" stroke="#2c2c8c" stroke-width="1.1"/>
<line x1="357.60" y1="239.05" x2="362.20" y2="239.05" stroke="#2c2c8c" stroke-width="1.3"/>
<line x1="357.60" y1="253.45" x2="362.20" y2="253.45" stroke="#2c2c8c" stroke-width="1.3"/>
<line x1="361.44" y1="237.88" x2="361.44" y2="252.28" stroke="#2c2c8c" stroke-width="1.1"/>
<line x1="359.13" y1="237.88" x2="363.74" y2="237.88" stroke="#2c2c8c" stroke-width="1.3"/>
<line x1="359.13" y1="252.28" x2="363.74" y2="252.28" stroke="#2c2c8c" stroke-width="1.3"/>
<line x1="365.28" y1="238.43" x2="365.28" y2="252.83" stroke="#2c2c8c" stroke-width="1.1"/>
<line x1="362.98" y1="238.43" x2="367.58" y2="238.43" stroke="#2c2c8c" stroke-width="1.3"/>
<line x1="362.98" y1="252.83" x2="367.58" y2="252.83" stroke="#2c2c8c" stroke-width="1.3"/>
<line x1="369.12" y1="237.94" x2="369.12" y2="252.34" stroke="#2c2c8c" stroke-width="1.1"/>
<line x1="366.82" y1="237.94" x2="371.43" y2="237.94" stroke="#2c2c8c" stroke-width="1.3"/>
<line x1="366.82" y1="252.34" x2="371.43" y2="252.34" stroke="#2c2c8c" stroke-width="1.3"/>
<line x1="372.97" y1="238.97" x2="372.97" y2="253.37" stroke="#2c2c8c" stroke-width="1.1"/>
<line x1="370.67" y1="238.97" x2="375.27" y2="238.97" stroke="#2c2c8c" stroke-width="1.3"/>
<line x1="370.67" y1="253.37" x2="375.27" y2="253.37" stroke="#2c2c8c" stroke-width="1.3"/>
<line x1="376.81" y1="239.44" x2="376.81" y2="253.84" stroke="#2c2c8c" stroke-width="1.1"/>
<line x1="374.51" y1="239.44" x2="379.12" y2="239.44" stroke="#2c2c8c" stroke-width="1.3"/>
<line x1="374.51" y1="253.84" x2="379.12" y2="253.84" stroke="#2c2c8c" stroke-width="1.3"/>
<line x1="380.66" y1="238.26" x2="380.66" y2="252.66" stroke="#2c2c8c" stroke-width="1.1"/>
<line x1="378.36" y1="238.26" x2="382.96" y2="238.26" stroke="#2c2c8c" stroke-width="1.3"/>
<line x1="378.36" y1="252.66" x2="382.96" y2="252.66" stroke="#2c2c8c" stroke-width="1.3"/>
<line x1="384.50" y1="239.54" x2="384.50" y2="253.94" stroke="#2c2c8c" stroke-width="1.1"/>
<line x1="382.20" y1="239.54" x2="386.81" y2="239.54" stroke="#2c2c8c" stroke-width="1.3"/>
<line x1="382.20" y1="253.94" x2="386.81" y2="253.94" stroke="#2c2c8c" stroke-width="1.3"/>
<line x1="388.35" y1="239.31" x2="388.35" y2="253.71" stroke="#2c2c8c" stroke-width="1.1"/>
<line x1="386.05" y1="239.31" x2="390.65" y2="239.31" stroke="#2c2c8c" stroke-width="1.3"/>
<line x1="386.05" y1="253.71" x2="390.65" y2="253.71" stroke="#2c2c8c" stroke-width="1.3"/>
<line x1="396.04" y1="238.81" x2="396.04" y2="253.21" stroke="#2c2c8c" stroke-width="1.1"/>
<line x1="393.74" y1="238.81" x2="398.34" y2="238.81" stroke="#2c2c8c" stroke-width="1.3"/>
<line x1="393.74" y1="253.21" x2="398.34" y2="253.21" stroke="#2c2c8c" stroke-width="1.3"/>
<line x1="403.73" y1="237.99" x2="403.73" y2="252.39" stroke="#2c2c8c" stroke-width="1.1"/>
<line x1="401.43" y1="237.99" x2="406.03" y2="237.99" stroke="#2c2c8c" stroke-width="1.3"/>
<line x1="401.43" y1="252.39" x2="406.03" y2="252.39" stroke="#2c2c8c" stroke-width="1.3"/>
<line x1="411.42" y1="239.75" x2="411.42" y2="254.15" stroke="#2c2c8c" stroke-width="1.1"/>
<line x1="409.12" y1="239.75" x2="413.72" y2="239.75" stroke="#2c2c8c" stroke-width="1.3"/>
<line x1="409.12" y1="254.15" x2="413.72" y2="254.15" stroke="#2c2c8c" stroke-width="1.3"/>
<line x1="419.11" y1="239.05" x2="419.11" y2="253.45" stroke="#2c2c8c" stroke-width="1.1"/>
<line x1="416.81" y1="239.05" x2="421.41" y2="239.05" stroke="#2c2c8c" stroke-width="1.3"/>
<line x1="416.81" y1="253.45" x2="421.41" y2="253.45" stroke="#2c2c8c" stroke-width="1.3"/>
<line x1="426.80" y1="238.84" x2="426.80" y2="253.24" stroke="#2c2c8c" stroke-width="1.1"/>
<line x1="424.50" y1="238.84" x2="429.10" y2="238.84" stroke="#2c2c8c" stroke-width="1.3"/>
<line x1="424.50" y1="253.24" x2="429.10" y2="253.24" stroke="#2c2c8c" stroke-width="1.3"/>
<circle cx="311.45" cy="247.00" r="2.1" fill="#fff" stroke="#2c2c8c" stroke-width="0.8"/>
<circle cx="319.14" cy="246.67" r="2.1" fill="#fff" stroke="#2c2c8c" stroke-width="0.8"/>
<circle cx="326.83" cy="246.56" r="2.1" fill="#fff" stroke="#2c2c8c" stroke-width="0.8"/>
<circle cx="334.52" cy="247.37" r="2.1" fill="#fff" stroke="#2c2c8c" stroke-width="0.8"/>
<circle cx="337.06" cy="247.12" r="2.1" fill="#fff" stroke="#2c2c8c" stroke-width="0.8"/>
<circle cx="339.67" cy="246.45" r="2.1" fill="#fff" stroke="#2c2c8c" stroke-width="0.8"/>
<circle cx="342.21" cy="247.97" r="2.1" fill="#fff" stroke="#2c2c8c" stroke-width="0.8"/>
<circle cx="344.75" cy="247.37" r="2.1" fill="#fff" stroke="#2c2c8c" stroke-width="0.8"/>
<circle cx="346.82" cy="249.97" r="2.1" fill="#fff" stroke="#2c2c8c" stroke-width="0.8"/>
<circle cx="348.36" cy="250.55" r="2.1" fill="#fff" stroke="#2c2c8c" stroke-width="0.8"/>
<circle cx="349.90" cy="251.92" r="2.1" fill="#fff" stroke="#2c2c8c" stroke-width="0.8"/>
<circle cx="350.67" cy="252.79" r="2.1" fill="#fff" stroke="#2c2c8c" stroke-width="0.8"/>
<circle cx="351.44" cy="253.13" r="2.1" fill="#fff" stroke="#2c2c8c" stroke-width="0.8"/>
<circle cx="352.21" cy="253.92" r="2.1" fill="#fff" stroke="#2c2c8c" stroke-width="0.8"/>
<circle cx="352.98" cy="250.79" r="2.1" fill="#fff" stroke="#2c2c8c" stroke-width="0.8"/>
<circle cx="353.75" cy="248.75" r="2.1" fill="#fff" stroke="#2c2c8c" stroke-width="0.8"/>
<circle cx="354.51" cy="247.76" r="2.1" fill="#fff" stroke="#2c2c8c" stroke-width="0.8"/>
<circle cx="355.28" cy="244.92" r="2.1" fill="#fff" stroke="#2c2c8c" stroke-width="0.8"/>
<circle cx="356.05" cy="244.91" r="2.1" fill="#fff" stroke="#2c2c8c" stroke-width="0.8"/>
<circle cx="356.82" cy="244.70" r="2.1" fill="#fff" stroke="#2c2c8c" stroke-width="0.8"/>
<circle cx="357.59" cy="246.09" r="2.1" fill="#fff" stroke="#2c2c8c" stroke-width="0.8"/>
<circle cx="358.74" cy="245.86" r="2.1" fill="#fff" stroke="#2c2c8c" stroke-width="0.8"/>
<circle cx="359.90" cy="246.25" r="2.1" fill="#fff" stroke="#2c2c8c" stroke-width="0.8"/>
<circle cx="361.44" cy="245.08" r="2.1" fill="#fff" stroke="#2c2c8c" stroke-width="0.8"/>
<circle cx="365.28" cy="245.63" r="2.1" fill="#fff" stroke="#2c2c8c" stroke-width="0.8"/>
<circle cx="369.12" cy="245.14" r="2.1" fill="#fff" stroke="#2c2c8c" stroke-width="0.8"/>
<circle cx="372.97" cy="246.17" r="2.1" fill="#fff" stroke="#2c2c8c" stroke-width="0.8"/>
<circle cx="376.81" cy="246.64" r="2.1" fill="#fff" stroke="#2c2c8c" stroke-width="0.8"/>
<circle cx="380.66" cy="245.46" r="2.1" fill="#fff" stroke="#2c2c8c" stroke-width="0.8"/>
<circle cx="384.50" cy="246.74" r="2.1" fill="#fff" stroke="#2c2c8c" stroke-width="0.8"/>
<circle cx="388.35" cy="246.51" r="2.1" fill="#fff" stroke="#2c2c8c" stroke-width="0.8"/>
<circle cx="396.04" cy="246.01" r="2.1" fill="#fff" stroke="#2c2c8c" stroke-width="0.8"/>
<circle cx="403.73" cy="245.19" r="2.1" fill="#fff" stroke="#2c2c8c" stroke-width="0.8"/>
<circle cx="411.42" cy="246.95" r="2.1" fill="#fff" stroke="#2c2c8c" stroke-width="0.8"/>
<circle cx="419.11" cy="246.25" r="2.1" fill="#fff" stroke="#2c2c8c" stroke-width="0.8"/>
<circle cx="426.80" cy="246.04" r="2.1" fill="#fff" stroke="#2c2c8c" stroke-width="0.8"/>
<line x1="303.40" y1="223.80" x2="411.80" y2="223.80" stroke="#000" stroke-width="1.0"/>
<line x1="303.40" y1="223.30" x2="303.40" y2="354.80" stroke="#000" stroke-width="1.0"/>
<line x1="302.90" y1="354.30" x2="435.10" y2="354.30" stroke="#000" stroke-width="1.0"/>
<line x1="434.60" y1="234.20" x2="434.60" y2="354.80" stroke="#000" stroke-width="1.0"/>
<line x1="311.45" y1="354.30" x2="311.45" y2="358.10" stroke="#000" stroke-width="1.0"/>
<line x1="311.45" y1="223.80" x2="311.45" y2="227.60" stroke="#000" stroke-width="1.0"/>
<line x1="330.67" y1="354.30" x2="330.67" y2="356.30" stroke="#000" stroke-width="1.0"/>
<line x1="330.67" y1="223.80" x2="330.67" y2="226.00" stroke="#000" stroke-width="1.0"/>
<line x1="349.90" y1="354.30" x2="349.90" y2="358.10" stroke="#000" stroke-width="1.0"/>
<line x1="349.90" y1="223.80" x2="349.90" y2="227.60" stroke="#000" stroke-width="1.0"/>
<line x1="369.12" y1="354.30" x2="369.12" y2="356.30" stroke="#000" stroke-width="1.0"/>
<line x1="369.12" y1="223.80" x2="369.12" y2="226.00" stroke="#000" stroke-width="1.0"/>
<line x1="388.35" y1="354.30" x2="388.35" y2="358.10" stroke="#000" stroke-width="1.0"/>
<line x1="388.35" y1="223.80" x2="388.35" y2="227.60" stroke="#000" stroke-width="1.0"/>
<line x1="407.57" y1="354.30" x2="407.57" y2="356.30" stroke="#000" stroke-width="1.0"/>
<line x1="407.57" y1="223.80" x2="407.57" y2="226.00" stroke="#000" stroke-width="1.0"/>
<line x1="426.80" y1="354.30" x2="426.80" y2="358.10" stroke="#000" stroke-width="1.0"/>
<line x1="300.00" y1="231.40" x2="303.40" y2="231.40" stroke="#000" stroke-width="1.0"/>
<line x1="300.00" y1="261.80" x2="303.40" y2="261.80" stroke="#000" stroke-width="1.0"/>
<line x1="431.20" y1="261.80" x2="434.60" y2="261.80" stroke="#000" stroke-width="1.0"/>
<line x1="300.00" y1="281.00" x2="303.40" y2="281.00" stroke="#000" stroke-width="1.0"/>
<line x1="431.20" y1="281.00" x2="434.60" y2="281.00" stroke="#000" stroke-width="1.0"/>
<line x1="300.00" y1="297.60" x2="303.40" y2="297.60" stroke="#000" stroke-width="1.0"/>
<line x1="431.20" y1="297.60" x2="434.60" y2="297.60" stroke="#000" stroke-width="1.0"/>
<line x1="300.00" y1="316.40" x2="303.40" y2="316.40" stroke="#000" stroke-width="1.0"/>
<line x1="431.20" y1="316.40" x2="434.60" y2="316.40" stroke="#000" stroke-width="1.0"/>
<line x1="300.00" y1="350.60" x2="303.40" y2="350.60" stroke="#000" stroke-width="1.0"/>
<line x1="431.20" y1="350.60" x2="434.60" y2="350.60" stroke="#000" stroke-width="1.0"/>
<line x1="301.20" y1="224.30" x2="303.40" y2="224.30" stroke="#000" stroke-width="1.0"/>
<line x1="301.20" y1="239.00" x2="303.40" y2="239.00" stroke="#000" stroke-width="1.0"/>
<line x1="432.40" y1="239.00" x2="434.60" y2="239.00" stroke="#000" stroke-width="1.0"/>
<line x1="301.20" y1="246.60" x2="303.40" y2="246.60" stroke="#000" stroke-width="1.0"/>
<line x1="432.40" y1="246.60" x2="434.60" y2="246.60" stroke="#000" stroke-width="1.0"/>
<line x1="301.20" y1="254.20" x2="303.40" y2="254.20" stroke="#000" stroke-width="1.0"/>
<line x1="432.40" y1="254.20" x2="434.60" y2="254.20" stroke="#000" stroke-width="1.0"/>
<line x1="301.20" y1="272.70" x2="303.40" y2="272.70" stroke="#000" stroke-width="1.0"/>
<line x1="432.40" y1="272.70" x2="434.60" y2="272.70" stroke="#000" stroke-width="1.0"/>
<line x1="301.20" y1="289.30" x2="303.40" y2="289.30" stroke="#000" stroke-width="1.0"/>
<line x1="432.40" y1="289.30" x2="434.60" y2="289.30" stroke="#000" stroke-width="1.0"/>
<line x1="301.20" y1="305.90" x2="303.40" y2="305.90" stroke="#000" stroke-width="1.0"/>
<line x1="432.40" y1="305.90" x2="434.60" y2="305.90" stroke="#000" stroke-width="1.0"/>
<line x1="301.20" y1="324.90" x2="303.40" y2="324.90" stroke="#000" stroke-width="1.0"/>
<line x1="432.40" y1="324.90" x2="434.60" y2="324.90" stroke="#000" stroke-width="1.0"/>
<line x1="301.20" y1="333.50" x2="303.40" y2="333.50" stroke="#000" stroke-width="1.0"/>
<line x1="432.40" y1="333.50" x2="434.60" y2="333.50" stroke="#000" stroke-width="1.0"/>
<line x1="301.20" y1="342.00" x2="303.40" y2="342.00" stroke="#000" stroke-width="1.0"/>
<line x1="432.40" y1="342.00" x2="434.60" y2="342.00" stroke="#000" stroke-width="1.0"/>
<polygon points="299.80,268.50 307.40,265.90 307.40,268.20 299.80,270.80" fill="#fff"/>
<line x1="299.80" y1="267.40" x2="307.40" y2="264.80" stroke="#000" stroke-width="0.9"/>
<line x1="299.80" y1="269.80" x2="307.40" y2="267.20" stroke="#000" stroke-width="0.9"/>
<polygon points="431.00,268.50 438.60,265.90 438.60,268.20 431.00,270.80" fill="#fff"/>
<line x1="431.00" y1="267.40" x2="438.60" y2="264.80" stroke="#000" stroke-width="0.9"/>
<line x1="431.00" y1="269.80" x2="438.60" y2="267.20" stroke="#000" stroke-width="0.9"/>
<polygon points="299.80,312.20 307.40,309.60 307.40,311.90 299.80,314.50" fill="#fff"/>
<line x1="299.80" y1="311.10" x2="307.40" y2="308.50" stroke="#000" stroke-width="0.9"/>
<line x1="299.80" y1="313.50" x2="307.40" y2="310.90" stroke="#000" stroke-width="0.9"/>
<polygon points="431.00,312.20 438.60,309.60 438.60,311.90 431.00,314.50" fill="#fff"/>
<line x1="431.00" y1="311.10" x2="438.60" y2="308.50" stroke="#000" stroke-width="0.9"/>
<line x1="431.00" y1="313.50" x2="438.60" y2="310.90" stroke="#000" stroke-width="0.9"/>
<rect x="411.80" y="206.40" width="49.20" height="27.80" fill="#fff" stroke="#b4b4b4" stroke-width="0.9"/>
<polyline points="415.10,222.48 415.60,222.47 416.10,222.46 416.60,222.45 417.10,222.43 417.60,222.41 418.10,222.38 418.60,222.34 419.10,222.29 419.60,222.22 420.10,222.14 420.60,222.04 421.10,221.92 421.60,221.77 422.10,221.59 422.60,221.38 423.10,221.13 423.60,220.84 424.10,220.51 424.60,220.12 425.10,219.69 425.60,219.21 426.10,218.68 426.60,218.09 427.10,217.47 427.60,216.80 428.10,216.10 428.60,215.38 429.10,214.64 429.60,213.90 430.10,213.17 430.60,212.47 431.10,211.80 431.60,211.19 432.10,210.64 432.60,210.17 433.10,209.80 433.60,209.52 434.10,209.36 434.60,209.30 435.10,209.36 435.60,209.52 436.10,209.80 436.60,210.17 437.10,210.64 437.60,211.19 438.10,211.80 438.60,212.47 439.10,213.17 439.60,213.90 440.10,214.64 440.60,215.38 441.10,216.10 441.60,216.80 442.10,217.47 442.60,218.09 443.10,218.68 443.60,219.21 444.10,219.69 444.60,220.12 445.10,220.51 445.60,220.84 446.10,221.13 446.60,221.38 447.10,221.59 447.60,221.77 448.10,221.92 448.60,222.04 449.10,222.14 449.60,222.22 450.10,222.29 450.60,222.34 451.10,222.38 451.60,222.41 452.10,222.43 452.60,222.45 453.10,222.46 453.60,222.47 454.10,222.48 454.60,222.49 455.10,222.49 455.60,222.49" fill="none" stroke="#333" stroke-width="0.8" stroke-linejoin="round"/>
<line x1="424.30" y1="215.50" x2="445.00" y2="215.50" stroke="#c04040" stroke-width="1.0"/>
<text x="415.70" y="229.80" font-size="6.8" text-anchor="start" font-weight="normal" fill="#222" textLength="41.0" lengthAdjust="spacingAndGlyphs">Peak position</text>
<text x="294.40" y="235.10" font-size="10.5" text-anchor="end" font-weight="normal" fill="#000">0.04</text>
<text x="294.40" y="265.50" font-size="10.5" text-anchor="end" font-weight="normal" fill="#000">–0.04</text>
<text x="294.40" y="284.70" font-size="10.5" text-anchor="end" font-weight="normal" fill="#000">–1.28</text>
<text x="294.40" y="301.30" font-size="10.5" text-anchor="end" font-weight="normal" fill="#000">–1.32</text>
<text x="294.40" y="320.10" font-size="10.5" text-anchor="end" font-weight="normal" fill="#000">–3.16</text>
<text x="294.40" y="354.30" font-size="10.5" text-anchor="end" font-weight="normal" fill="#000">–3.24</text>
<text x="311.45" y="372.40" font-size="10.5" text-anchor="middle" font-weight="normal" fill="#000">–500</text>
<text x="345.90" y="372.40" font-size="10.5" text-anchor="middle" font-weight="normal" fill="#000">0</text>
<text x="384.35" y="372.40" font-size="10.5" text-anchor="middle" font-weight="normal" fill="#000">500</text>
<text x="426.80" y="372.40" font-size="10.5" text-anchor="middle" font-weight="normal" fill="#000">1000</text>
<text x="369.60" y="390.30" font-size="11.3" text-anchor="middle" font-weight="normal" fill="#000">Delay (fs)</text>
<text x="255.40" y="284.40" font-size="10.6" text-anchor="middle" font-weight="normal" fill="#000" transform="rotate(-90 255.40 284.40)"><tspan font-style="italic">E</tspan>–<tspan font-style="italic">E</tspan><tspan font-size="7.8" dy="2.7">HOMO</tspan><tspan dy="-2.7"> (<tspan font-style="italic">t</tspan>) (eV)</tspan></text>
<text x="440.20" y="250.50" font-size="10.8" text-anchor="start" font-weight="normal" fill="#000">H</text>
<text x="440.20" y="295.30" font-size="10.8" text-anchor="start" font-weight="normal" fill="#000">H-1</text>
<text x="440.20" y="326.90" font-size="10.8" text-anchor="start" font-weight="normal" fill="#000">H-2</text>
<line x1="525.05" y1="91.52" x2="525.05" y2="103.52" stroke="#8e8ee6" stroke-width="1.2"/>
<line x1="522.75" y1="91.52" x2="527.35" y2="91.52" stroke="#8e8ee6" stroke-width="1.3"/>
<line x1="522.75" y1="103.52" x2="527.35" y2="103.52" stroke="#8e8ee6" stroke-width="1.3"/>
<line x1="532.74" y1="91.53" x2="532.74" y2="103.53" stroke="#8e8ee6" stroke-width="1.2"/>
<line x1="530.44" y1="91.53" x2="535.04" y2="91.53" stroke="#8e8ee6" stroke-width="1.3"/>
<line x1="530.44" y1="103.53" x2="535.04" y2="103.53" stroke="#8e8ee6" stroke-width="1.3"/>
<line x1="540.43" y1="92.40" x2="540.43" y2="104.40" stroke="#8e8ee6" stroke-width="1.2"/>
<line x1="538.13" y1="92.40" x2="542.73" y2="92.40" stroke="#8e8ee6" stroke-width="1.3"/>
<line x1="538.13" y1="104.40" x2="542.73" y2="104.40" stroke="#8e8ee6" stroke-width="1.3"/>
<line x1="548.12" y1="90.38" x2="548.12" y2="102.38" stroke="#8e8ee6" stroke-width="1.2"/>
<line x1="545.82" y1="90.38" x2="550.42" y2="90.38" stroke="#8e8ee6" stroke-width="1.3"/>
<line x1="545.82" y1="102.38" x2="550.42" y2="102.38" stroke="#8e8ee6" stroke-width="1.3"/>
<line x1="550.66" y1="92.11" x2="550.66" y2="104.11" stroke="#8e8ee6" stroke-width="1.2"/>
<line x1="548.36" y1="92.11" x2="552.96" y2="92.11" stroke="#8e8ee6" stroke-width="1.3"/>
<line x1="548.36" y1="104.11" x2="552.96" y2="104.11" stroke="#8e8ee6" stroke-width="1.3"/>
<line x1="553.27" y1="92.39" x2="553.27" y2="104.39" stroke="#8e8ee6" stroke-width="1.2"/>
<line x1="550.97" y1="92.39" x2="555.57" y2="92.39" stroke="#8e8ee6" stroke-width="1.3"/>
<line x1="550.97" y1="104.39" x2="555.57" y2="104.39" stroke="#8e8ee6" stroke-width="1.3"/>
<line x1="555.81" y1="92.36" x2="555.81" y2="104.36" stroke="#8e8ee6" stroke-width="1.2"/>
<line x1="553.51" y1="92.36" x2="558.11" y2="92.36" stroke="#8e8ee6" stroke-width="1.3"/>
<line x1="553.51" y1="104.36" x2="558.11" y2="104.36" stroke="#8e8ee6" stroke-width="1.3"/>
<line x1="558.35" y1="91.06" x2="558.35" y2="103.06" stroke="#8e8ee6" stroke-width="1.2"/>
<line x1="556.05" y1="91.06" x2="560.65" y2="91.06" stroke="#8e8ee6" stroke-width="1.3"/>
<line x1="556.05" y1="103.06" x2="560.65" y2="103.06" stroke="#8e8ee6" stroke-width="1.3"/>
<line x1="560.42" y1="90.60" x2="560.42" y2="102.60" stroke="#8e8ee6" stroke-width="1.2"/>
<line x1="558.12" y1="90.60" x2="562.72" y2="90.60" stroke="#8e8ee6" stroke-width="1.3"/>
<line x1="558.12" y1="102.60" x2="562.72" y2="102.60" stroke="#8e8ee6" stroke-width="1.3"/>
<line x1="561.96" y1="92.01" x2="561.96" y2="104.01" stroke="#8e8ee6" stroke-width="1.2"/>
<line x1="559.66" y1="92.01" x2="564.26" y2="92.01" stroke="#8e8ee6" stroke-width="1.3"/>
<line x1="559.66" y1="104.01" x2="564.26" y2="104.01" stroke="#8e8ee6" stroke-width="1.3"/>
<line x1="563.50" y1="91.29" x2="563.50" y2="103.29" stroke="#8e8ee6" stroke-width="1.2"/>
<line x1="561.20" y1="91.29" x2="565.80" y2="91.29" stroke="#8e8ee6" stroke-width="1.3"/>
<line x1="561.20" y1="103.29" x2="565.80" y2="103.29" stroke="#8e8ee6" stroke-width="1.3"/>
<line x1="564.27" y1="83.30" x2="564.27" y2="95.30" stroke="#8e8ee6" stroke-width="1.2"/>
<line x1="561.97" y1="83.30" x2="566.57" y2="83.30" stroke="#8e8ee6" stroke-width="1.3"/>
<line x1="561.97" y1="95.30" x2="566.57" y2="95.30" stroke="#8e8ee6" stroke-width="1.3"/>
<line x1="565.04" y1="76.34" x2="565.04" y2="88.34" stroke="#8e8ee6" stroke-width="1.2"/>
<line x1="562.74" y1="76.34" x2="567.34" y2="76.34" stroke="#8e8ee6" stroke-width="1.3"/>
<line x1="562.74" y1="88.34" x2="567.34" y2="88.34" stroke="#8e8ee6" stroke-width="1.3"/>
<line x1="565.81" y1="66.99" x2="565.81" y2="78.99" stroke="#8e8ee6" stroke-width="1.2"/>
<line x1="563.51" y1="66.99" x2="568.11" y2="66.99" stroke="#8e8ee6" stroke-width="1.3"/>
<line x1="563.51" y1="78.99" x2="568.11" y2="78.99" stroke="#8e8ee6" stroke-width="1.3"/>
<line x1="566.58" y1="57.36" x2="566.58" y2="69.36" stroke="#8e8ee6" stroke-width="1.2"/>
<line x1="564.28" y1="57.36" x2="568.88" y2="57.36" stroke="#8e8ee6" stroke-width="1.3"/>
<line x1="564.28" y1="69.36" x2="568.88" y2="69.36" stroke="#8e8ee6" stroke-width="1.3"/>
<line x1="567.35" y1="50.89" x2="567.35" y2="62.89" stroke="#8e8ee6" stroke-width="1.2"/>
<line x1="565.05" y1="50.89" x2="569.64" y2="50.89" stroke="#8e8ee6" stroke-width="1.3"/>
<line x1="565.05" y1="62.89" x2="569.64" y2="62.89" stroke="#8e8ee6" stroke-width="1.3"/>
<line x1="568.11" y1="47.59" x2="568.11" y2="59.59" stroke="#8e8ee6" stroke-width="1.2"/>
<line x1="565.81" y1="47.59" x2="570.41" y2="47.59" stroke="#8e8ee6" stroke-width="1.3"/>
<line x1="565.81" y1="59.59" x2="570.41" y2="59.59" stroke="#8e8ee6" stroke-width="1.3"/>
<line x1="568.88" y1="53.14" x2="568.88" y2="65.14" stroke="#8e8ee6" stroke-width="1.2"/>
<line x1="566.58" y1="53.14" x2="571.18" y2="53.14" stroke="#8e8ee6" stroke-width="1.3"/>
<line x1="566.58" y1="65.14" x2="571.18" y2="65.14" stroke="#8e8ee6" stroke-width="1.3"/>
<line x1="569.65" y1="55.77" x2="569.65" y2="67.77" stroke="#8e8ee6" stroke-width="1.2"/>
<line x1="567.35" y1="55.77" x2="571.95" y2="55.77" stroke="#8e8ee6" stroke-width="1.3"/>
<line x1="567.35" y1="67.77" x2="571.95" y2="67.77" stroke="#8e8ee6" stroke-width="1.3"/>
<line x1="570.42" y1="57.71" x2="570.42" y2="69.71" stroke="#8e8ee6" stroke-width="1.2"/>
<line x1="568.12" y1="57.71" x2="572.72" y2="57.71" stroke="#8e8ee6" stroke-width="1.3"/>
<line x1="568.12" y1="69.71" x2="572.72" y2="69.71" stroke="#8e8ee6" stroke-width="1.3"/>
<line x1="571.19" y1="60.58" x2="571.19" y2="72.58" stroke="#8e8ee6" stroke-width="1.2"/>
<line x1="568.89" y1="60.58" x2="573.49" y2="60.58" stroke="#8e8ee6" stroke-width="1.3"/>
<line x1="568.89" y1="72.58" x2="573.49" y2="72.58" stroke="#8e8ee6" stroke-width="1.3"/>
<line x1="572.34" y1="64.33" x2="572.34" y2="76.33" stroke="#8e8ee6" stroke-width="1.2"/>
<line x1="570.04" y1="64.33" x2="574.64" y2="64.33" stroke="#8e8ee6" stroke-width="1.3"/>
<line x1="570.04" y1="76.33" x2="574.64" y2="76.33" stroke="#8e8ee6" stroke-width="1.3"/>
<line x1="573.50" y1="66.30" x2="573.50" y2="78.30" stroke="#8e8ee6" stroke-width="1.2"/>
<line x1="571.20" y1="66.30" x2="575.80" y2="66.30" stroke="#8e8ee6" stroke-width="1.3"/>
<line x1="571.20" y1="78.30" x2="575.80" y2="78.30" stroke="#8e8ee6" stroke-width="1.3"/>
<line x1="575.03" y1="70.10" x2="575.03" y2="82.10" stroke="#8e8ee6" stroke-width="1.2"/>
<line x1="572.74" y1="70.10" x2="577.33" y2="70.10" stroke="#8e8ee6" stroke-width="1.3"/>
<line x1="572.74" y1="82.10" x2="577.33" y2="82.10" stroke="#8e8ee6" stroke-width="1.3"/>
<line x1="578.88" y1="73.73" x2="578.88" y2="85.73" stroke="#8e8ee6" stroke-width="1.2"/>
<line x1="576.58" y1="73.73" x2="581.18" y2="73.73" stroke="#8e8ee6" stroke-width="1.3"/>
<line x1="576.58" y1="85.73" x2="581.18" y2="85.73" stroke="#8e8ee6" stroke-width="1.3"/>
<line x1="582.73" y1="77.36" x2="582.73" y2="89.36" stroke="#8e8ee6" stroke-width="1.2"/>
<line x1="580.43" y1="77.36" x2="585.02" y2="77.36" stroke="#8e8ee6" stroke-width="1.3"/>
<line x1="580.43" y1="89.36" x2="585.02" y2="89.36" stroke="#8e8ee6" stroke-width="1.3"/>
<line x1="586.57" y1="79.39" x2="586.57" y2="91.39" stroke="#8e8ee6" stroke-width="1.2"/>
<line x1="584.27" y1="79.39" x2="588.87" y2="79.39" stroke="#8e8ee6" stroke-width="1.3"/>
<line x1="584.27" y1="91.39" x2="588.87" y2="91.39" stroke="#8e8ee6" stroke-width="1.3"/>
<line x1="590.41" y1="80.58" x2="590.41" y2="92.58" stroke="#8e8ee6" stroke-width="1.2"/>
<line x1="588.12" y1="80.58" x2="592.71" y2="80.58" stroke="#8e8ee6" stroke-width="1.3"/>
<line x1="588.12" y1="92.58" x2="592.71" y2="92.58" stroke="#8e8ee6" stroke-width="1.3"/>
<line x1="594.26" y1="79.52" x2="594.26" y2="91.52" stroke="#8e8ee6" stroke-width="1.2"/>
<line x1="591.96" y1="79.52" x2="596.56" y2="79.52" stroke="#8e8ee6" stroke-width="1.3"/>
<line x1="591.96" y1="91.52" x2="596.56" y2="91.52" stroke="#8e8ee6" stroke-width="1.3"/>
<line x1="598.11" y1="81.36" x2="598.11" y2="93.36" stroke="#8e8ee6" stroke-width="1.2"/>
<line x1="595.81" y1="81.36" x2="600.40" y2="81.36" stroke="#8e8ee6" stroke-width="1.3"/>
<line x1="595.81" y1="93.36" x2="600.40" y2="93.36" stroke="#8e8ee6" stroke-width="1.3"/>
<line x1="601.95" y1="79.64" x2="601.95" y2="91.64" stroke="#8e8ee6" stroke-width="1.2"/>
<line x1="599.65" y1="79.64" x2="604.25" y2="79.64" stroke="#8e8ee6" stroke-width="1.3"/>
<line x1="599.65" y1="91.64" x2="604.25" y2="91.64" stroke="#8e8ee6" stroke-width="1.3"/>
<line x1="609.64" y1="81.09" x2="609.64" y2="93.09" stroke="#8e8ee6" stroke-width="1.2"/>
<line x1="607.34" y1="81.09" x2="611.94" y2="81.09" stroke="#8e8ee6" stroke-width="1.3"/>
<line x1="607.34" y1="93.09" x2="611.94" y2="93.09" stroke="#8e8ee6" stroke-width="1.3"/>
<line x1="617.33" y1="81.10" x2="617.33" y2="93.10" stroke="#8e8ee6" stroke-width="1.2"/>
<line x1="615.03" y1="81.10" x2="619.63" y2="81.10" stroke="#8e8ee6" stroke-width="1.3"/>
<line x1="615.03" y1="93.10" x2="619.63" y2="93.10" stroke="#8e8ee6" stroke-width="1.3"/>
<line x1="625.02" y1="84.16" x2="625.02" y2="96.16" stroke="#8e8ee6" stroke-width="1.2"/>
<line x1="622.72" y1="84.16" x2="627.32" y2="84.16" stroke="#8e8ee6" stroke-width="1.3"/>
<line x1="622.72" y1="96.16" x2="627.32" y2="96.16" stroke="#8e8ee6" stroke-width="1.3"/>
<line x1="632.71" y1="82.91" x2="632.71" y2="94.91" stroke="#8e8ee6" stroke-width="1.2"/>
<line x1="630.41" y1="82.91" x2="635.01" y2="82.91" stroke="#8e8ee6" stroke-width="1.3"/>
<line x1="630.41" y1="94.91" x2="635.01" y2="94.91" stroke="#8e8ee6" stroke-width="1.3"/>
<line x1="640.40" y1="84.42" x2="640.40" y2="96.42" stroke="#8e8ee6" stroke-width="1.2"/>
<line x1="638.10" y1="84.42" x2="642.70" y2="84.42" stroke="#8e8ee6" stroke-width="1.3"/>
<line x1="638.10" y1="96.42" x2="642.70" y2="96.42" stroke="#8e8ee6" stroke-width="1.3"/>
<circle cx="525.05" cy="97.52" r="2.0" fill="#fff" stroke="#8e8ee6" stroke-width="0.9"/>
<circle cx="532.74" cy="97.53" r="2.0" fill="#fff" stroke="#8e8ee6" stroke-width="0.9"/>
<circle cx="540.43" cy="98.40" r="2.0" fill="#fff" stroke="#8e8ee6" stroke-width="0.9"/>
<circle cx="548.12" cy="96.38" r="2.0" fill="#fff" stroke="#8e8ee6" stroke-width="0.9"/>
<circle cx="550.66" cy="98.11" r="2.0" fill="#fff" stroke="#8e8ee6" stroke-width="0.9"/>
<circle cx="553.27" cy="98.39" r="2.0" fill="#fff" stroke="#8e8ee6" stroke-width="0.9"/>
<circle cx="555.81" cy="98.36" r="2.0" fill="#fff" stroke="#8e8ee6" stroke-width="0.9"/>
<circle cx="558.35" cy="97.06" r="2.0" fill="#fff" stroke="#8e8ee6" stroke-width="0.9"/>
<circle cx="560.42" cy="96.60" r="2.0" fill="#fff" stroke="#8e8ee6" stroke-width="0.9"/>
<circle cx="561.96" cy="98.01" r="2.0" fill="#fff" stroke="#8e8ee6" stroke-width="0.9"/>
<circle cx="563.50" cy="97.29" r="2.0" fill="#fff" stroke="#8e8ee6" stroke-width="0.9"/>
<circle cx="564.27" cy="89.30" r="2.0" fill="#fff" stroke="#8e8ee6" stroke-width="0.9"/>
<circle cx="565.04" cy="82.34" r="2.0" fill="#fff" stroke="#8e8ee6" stroke-width="0.9"/>
<circle cx="565.81" cy="72.99" r="2.0" fill="#fff" stroke="#8e8ee6" stroke-width="0.9"/>
<circle cx="566.58" cy="63.36" r="2.0" fill="#fff" stroke="#8e8ee6" stroke-width="0.9"/>
<circle cx="567.35" cy="56.89" r="2.0" fill="#fff" stroke="#8e8ee6" stroke-width="0.9"/>
<circle cx="568.11" cy="53.59" r="2.0" fill="#fff" stroke="#8e8ee6" stroke-width="0.9"/>
<circle cx="568.88" cy="59.14" r="2.0" fill="#fff" stroke="#8e8ee6" stroke-width="0.9"/>
<circle cx="569.65" cy="61.77" r="2.0" fill="#fff" stroke="#8e8ee6" stroke-width="0.9"/>
<circle cx="570.42" cy="63.71" r="2.0" fill="#fff" stroke="#8e8ee6" stroke-width="0.9"/>
<circle cx="571.19" cy="66.58" r="2.0" fill="#fff" stroke="#8e8ee6" stroke-width="0.9"/>
<circle cx="572.34" cy="70.33" r="2.0" fill="#fff" stroke="#8e8ee6" stroke-width="0.9"/>
<circle cx="573.50" cy="72.30" r="2.0" fill="#fff" stroke="#8e8ee6" stroke-width="0.9"/>
<circle cx="575.03" cy="76.10" r="2.0" fill="#fff" stroke="#8e8ee6" stroke-width="0.9"/>
<circle cx="578.88" cy="79.73" r="2.0" fill="#fff" stroke="#8e8ee6" stroke-width="0.9"/>
<circle cx="582.73" cy="83.36" r="2.0" fill="#fff" stroke="#8e8ee6" stroke-width="0.9"/>
<circle cx="586.57" cy="85.39" r="2.0" fill="#fff" stroke="#8e8ee6" stroke-width="0.9"/>
<circle cx="590.41" cy="86.58" r="2.0" fill="#fff" stroke="#8e8ee6" stroke-width="0.9"/>
<circle cx="594.26" cy="85.52" r="2.0" fill="#fff" stroke="#8e8ee6" stroke-width="0.9"/>
<circle cx="598.11" cy="87.36" r="2.0" fill="#fff" stroke="#8e8ee6" stroke-width="0.9"/>
<circle cx="601.95" cy="85.64" r="2.0" fill="#fff" stroke="#8e8ee6" stroke-width="0.9"/>
<circle cx="609.64" cy="87.09" r="2.0" fill="#fff" stroke="#8e8ee6" stroke-width="0.9"/>
<circle cx="617.33" cy="87.10" r="2.0" fill="#fff" stroke="#8e8ee6" stroke-width="0.9"/>
<circle cx="625.02" cy="90.16" r="2.0" fill="#fff" stroke="#8e8ee6" stroke-width="0.9"/>
<circle cx="632.71" cy="88.91" r="2.0" fill="#fff" stroke="#8e8ee6" stroke-width="0.9"/>
<circle cx="640.40" cy="90.42" r="2.0" fill="#fff" stroke="#8e8ee6" stroke-width="0.9"/>
<line x1="525.05" y1="117.05" x2="525.05" y2="129.05" stroke="#23237a" stroke-width="1.2"/>
<line x1="522.75" y1="117.05" x2="527.35" y2="117.05" stroke="#23237a" stroke-width="1.3"/>
<line x1="522.75" y1="129.05" x2="527.35" y2="129.05" stroke="#23237a" stroke-width="1.3"/>
<line x1="532.74" y1="117.18" x2="532.74" y2="129.18" stroke="#23237a" stroke-width="1.2"/>
<line x1="530.44" y1="117.18" x2="535.04" y2="117.18" stroke="#23237a" stroke-width="1.3"/>
<line x1="530.44" y1="129.18" x2="535.04" y2="129.18" stroke="#23237a" stroke-width="1.3"/>
<line x1="540.43" y1="116.73" x2="540.43" y2="128.73" stroke="#23237a" stroke-width="1.2"/>
<line x1="538.13" y1="116.73" x2="542.73" y2="116.73" stroke="#23237a" stroke-width="1.3"/>
<line x1="538.13" y1="128.73" x2="542.73" y2="128.73" stroke="#23237a" stroke-width="1.3"/>
<line x1="548.12" y1="117.39" x2="548.12" y2="129.39" stroke="#23237a" stroke-width="1.2"/>
<line x1="545.82" y1="117.39" x2="550.42" y2="117.39" stroke="#23237a" stroke-width="1.3"/>
<line x1="545.82" y1="129.39" x2="550.42" y2="129.39" stroke="#23237a" stroke-width="1.3"/>
<line x1="550.66" y1="118.63" x2="550.66" y2="130.63" stroke="#23237a" stroke-width="1.2"/>
<line x1="548.36" y1="118.63" x2="552.96" y2="118.63" stroke="#23237a" stroke-width="1.3"/>
<line x1="548.36" y1="130.63" x2="552.96" y2="130.63" stroke="#23237a" stroke-width="1.3"/>
<line x1="553.27" y1="117.24" x2="553.27" y2="129.24" stroke="#23237a" stroke-width="1.2"/>
<line x1="550.97" y1="117.24" x2="555.57" y2="117.24" stroke="#23237a" stroke-width="1.3"/>
<line x1="550.97" y1="129.24" x2="555.57" y2="129.24" stroke="#23237a" stroke-width="1.3"/>
<line x1="555.81" y1="117.62" x2="555.81" y2="129.62" stroke="#23237a" stroke-width="1.2"/>
<line x1="553.51" y1="117.62" x2="558.11" y2="117.62" stroke="#23237a" stroke-width="1.3"/>
<line x1="553.51" y1="129.62" x2="558.11" y2="129.62" stroke="#23237a" stroke-width="1.3"/>
<line x1="558.35" y1="118.00" x2="558.35" y2="130.00" stroke="#23237a" stroke-width="1.2"/>
<line x1="556.05" y1="118.00" x2="560.65" y2="118.00" stroke="#23237a" stroke-width="1.3"/>
<line x1="556.05" y1="130.00" x2="560.65" y2="130.00" stroke="#23237a" stroke-width="1.3"/>
<line x1="560.42" y1="117.04" x2="560.42" y2="129.04" stroke="#23237a" stroke-width="1.2"/>
<line x1="558.12" y1="117.04" x2="562.72" y2="117.04" stroke="#23237a" stroke-width="1.3"/>
<line x1="558.12" y1="129.04" x2="562.72" y2="129.04" stroke="#23237a" stroke-width="1.3"/>
<line x1="561.96" y1="116.19" x2="561.96" y2="128.19" stroke="#23237a" stroke-width="1.2"/>
<line x1="559.66" y1="116.19" x2="564.26" y2="116.19" stroke="#23237a" stroke-width="1.3"/>
<line x1="559.66" y1="128.19" x2="564.26" y2="128.19" stroke="#23237a" stroke-width="1.3"/>
<line x1="563.50" y1="116.76" x2="563.50" y2="128.76" stroke="#23237a" stroke-width="1.2"/>
<line x1="561.20" y1="116.76" x2="565.80" y2="116.76" stroke="#23237a" stroke-width="1.3"/>
<line x1="561.20" y1="128.76" x2="565.80" y2="128.76" stroke="#23237a" stroke-width="1.3"/>
<line x1="564.27" y1="114.56" x2="564.27" y2="126.56" stroke="#23237a" stroke-width="1.2"/>
<line x1="561.97" y1="114.56" x2="566.57" y2="114.56" stroke="#23237a" stroke-width="1.3"/>
<line x1="561.97" y1="126.56" x2="566.57" y2="126.56" stroke="#23237a" stroke-width="1.3"/>
<line x1="565.04" y1="105.38" x2="565.04" y2="117.38" stroke="#23237a" stroke-width="1.2"/>
<line x1="562.74" y1="105.38" x2="567.34" y2="105.38" stroke="#23237a" stroke-width="1.3"/>
<line x1="562.74" y1="117.38" x2="567.34" y2="117.38" stroke="#23237a" stroke-width="1.3"/>
<line x1="565.81" y1="99.22" x2="565.81" y2="111.22" stroke="#23237a" stroke-width="1.2"/>
<line x1="563.51" y1="99.22" x2="568.11" y2="99.22" stroke="#23237a" stroke-width="1.3"/>
<line x1="563.51" y1="111.22" x2="568.11" y2="111.22" stroke="#23237a" stroke-width="1.3"/>
<line x1="566.58" y1="93.51" x2="566.58" y2="105.51" stroke="#23237a" stroke-width="1.2"/>
<line x1="564.28" y1="93.51" x2="568.88" y2="93.51" stroke="#23237a" stroke-width="1.3"/>
<line x1="564.28" y1="105.51" x2="568.88" y2="105.51" stroke="#23237a" stroke-width="1.3"/>
<line x1="567.35" y1="86.33" x2="567.35" y2="98.33" stroke="#23237a" stroke-width="1.2"/>
<line x1="565.05" y1="86.33" x2="569.64" y2="86.33" stroke="#23237a" stroke-width="1.3"/>
<line x1="565.05" y1="98.33" x2="569.64" y2="98.33" stroke="#23237a" stroke-width="1.3"/>
<line x1="568.11" y1="78.71" x2="568.11" y2="90.71" stroke="#23237a" stroke-width="1.2"/>
<line x1="565.81" y1="78.71" x2="570.41" y2="78.71" stroke="#23237a" stroke-width="1.3"/>
<line x1="565.81" y1="90.71" x2="570.41" y2="90.71" stroke="#23237a" stroke-width="1.3"/>
<line x1="568.88" y1="82.32" x2="568.88" y2="94.32" stroke="#23237a" stroke-width="1.2"/>
<line x1="566.58" y1="82.32" x2="571.18" y2="82.32" stroke="#23237a" stroke-width="1.3"/>
<line x1="566.58" y1="94.32" x2="571.18" y2="94.32" stroke="#23237a" stroke-width="1.3"/>
<line x1="569.65" y1="84.48" x2="569.65" y2="96.48" stroke="#23237a" stroke-width="1.2"/>
<line x1="567.35" y1="84.48" x2="571.95" y2="84.48" stroke="#23237a" stroke-width="1.3"/>
<line x1="567.35" y1="96.48" x2="571.95" y2="96.48" stroke="#23237a" stroke-width="1.3"/>
<line x1="570.42" y1="85.80" x2="570.42" y2="97.80" stroke="#23237a" stroke-width="1.2"/>
<line x1="568.12" y1="85.80" x2="572.72" y2="85.80" stroke="#23237a" stroke-width="1.3"/>
<line x1="568.12" y1="97.80" x2="572.72" y2="97.80" stroke="#23237a" stroke-width="1.3"/>
<line x1="571.19" y1="87.65" x2="571.19" y2="99.65" stroke="#23237a" stroke-width="1.2"/>
<line x1="568.89" y1="87.65" x2="573.49" y2="87.65" stroke="#23237a" stroke-width="1.3"/>
<line x1="568.89" y1="99.65" x2="573.49" y2="99.65" stroke="#23237a" stroke-width="1.3"/>
<line x1="572.34" y1="91.22" x2="572.34" y2="103.22" stroke="#23237a" stroke-width="1.2"/>
<line x1="570.04" y1="91.22" x2="574.64" y2="91.22" stroke="#23237a" stroke-width="1.3"/>
<line x1="570.04" y1="103.22" x2="574.64" y2="103.22" stroke="#23237a" stroke-width="1.3"/>
<line x1="573.50" y1="94.88" x2="573.50" y2="106.88" stroke="#23237a" stroke-width="1.2"/>
<line x1="571.20" y1="94.88" x2="575.80" y2="94.88" stroke="#23237a" stroke-width="1.3"/>
<line x1="571.20" y1="106.88" x2="575.80" y2="106.88" stroke="#23237a" stroke-width="1.3"/>
<line x1="575.03" y1="96.37" x2="575.03" y2="108.37" stroke="#23237a" stroke-width="1.2"/>
<line x1="572.74" y1="96.37" x2="577.33" y2="96.37" stroke="#23237a" stroke-width="1.3"/>
<line x1="572.74" y1="108.37" x2="577.33" y2="108.37" stroke="#23237a" stroke-width="1.3"/>
<line x1="578.88" y1="100.80" x2="578.88" y2="112.80" stroke="#23237a" stroke-width="1.2"/>
<line x1="576.58" y1="100.80" x2="581.18" y2="100.80" stroke="#23237a" stroke-width="1.3"/>
<line x1="576.58" y1="112.80" x2="581.18" y2="112.80" stroke="#23237a" stroke-width="1.3"/>
<line x1="582.73" y1="103.75" x2="582.73" y2="115.75" stroke="#23237a" stroke-width="1.2"/>
<line x1="580.43" y1="103.75" x2="585.02" y2="103.75" stroke="#23237a" stroke-width="1.3"/>
<line x1="580.43" y1="115.75" x2="585.02" y2="115.75" stroke="#23237a" stroke-width="1.3"/>
<line x1="586.57" y1="104.92" x2="586.57" y2="116.92" stroke="#23237a" stroke-width="1.2"/>
<line x1="584.27" y1="104.92" x2="588.87" y2="104.92" stroke="#23237a" stroke-width="1.3"/>
<line x1="584.27" y1="116.92" x2="588.87" y2="116.92" stroke="#23237a" stroke-width="1.3"/>
<line x1="590.41" y1="107.21" x2="590.41" y2="119.21" stroke="#23237a" stroke-width="1.2"/>
<line x1="588.12" y1="107.21" x2="592.71" y2="107.21" stroke="#23237a" stroke-width="1.3"/>
<line x1="588.12" y1="119.21" x2="592.71" y2="119.21" stroke="#23237a" stroke-width="1.3"/>
<line x1="594.26" y1="107.16" x2="594.26" y2="119.16" stroke="#23237a" stroke-width="1.2"/>
<line x1="591.96" y1="107.16" x2="596.56" y2="107.16" stroke="#23237a" stroke-width="1.3"/>
<line x1="591.96" y1="119.16" x2="596.56" y2="119.16" stroke="#23237a" stroke-width="1.3"/>
<line x1="598.11" y1="108.98" x2="598.11" y2="120.98" stroke="#23237a" stroke-width="1.2"/>
<line x1="595.81" y1="108.98" x2="600.40" y2="108.98" stroke="#23237a" stroke-width="1.3"/>
<line x1="595.81" y1="120.98" x2="600.40" y2="120.98" stroke="#23237a" stroke-width="1.3"/>
<line x1="601.95" y1="107.26" x2="601.95" y2="119.26" stroke="#23237a" stroke-width="1.2"/>
<line x1="599.65" y1="107.26" x2="604.25" y2="107.26" stroke="#23237a" stroke-width="1.3"/>
<line x1="599.65" y1="119.26" x2="604.25" y2="119.26" stroke="#23237a" stroke-width="1.3"/>
<line x1="609.64" y1="110.13" x2="609.64" y2="122.13" stroke="#23237a" stroke-width="1.2"/>
<line x1="607.34" y1="110.13" x2="611.94" y2="110.13" stroke="#23237a" stroke-width="1.3"/>
<line x1="607.34" y1="122.13" x2="611.94" y2="122.13" stroke="#23237a" stroke-width="1.3"/>
<line x1="617.33" y1="109.94" x2="617.33" y2="121.94" stroke="#23237a" stroke-width="1.2"/>
<line x1="615.03" y1="109.94" x2="619.63" y2="109.94" stroke="#23237a" stroke-width="1.3"/>
<line x1="615.03" y1="121.94" x2="619.63" y2="121.94" stroke="#23237a" stroke-width="1.3"/>
<line x1="625.02" y1="109.41" x2="625.02" y2="121.41" stroke="#23237a" stroke-width="1.2"/>
<line x1="622.72" y1="109.41" x2="627.32" y2="109.41" stroke="#23237a" stroke-width="1.3"/>
<line x1="622.72" y1="121.41" x2="627.32" y2="121.41" stroke="#23237a" stroke-width="1.3"/>
<line x1="632.71" y1="112.01" x2="632.71" y2="124.01" stroke="#23237a" stroke-width="1.2"/>
<line x1="630.41" y1="112.01" x2="635.01" y2="112.01" stroke="#23237a" stroke-width="1.3"/>
<line x1="630.41" y1="124.01" x2="635.01" y2="124.01" stroke="#23237a" stroke-width="1.3"/>
<line x1="640.40" y1="111.64" x2="640.40" y2="123.64" stroke="#23237a" stroke-width="1.2"/>
<line x1="638.10" y1="111.64" x2="642.70" y2="111.64" stroke="#23237a" stroke-width="1.3"/>
<line x1="638.10" y1="123.64" x2="642.70" y2="123.64" stroke="#23237a" stroke-width="1.3"/>
<circle cx="525.05" cy="123.05" r="2.0" fill="#fff" stroke="#23237a" stroke-width="0.9"/>
<circle cx="532.74" cy="123.18" r="2.0" fill="#fff" stroke="#23237a" stroke-width="0.9"/>
<circle cx="540.43" cy="122.73" r="2.0" fill="#fff" stroke="#23237a" stroke-width="0.9"/>
<circle cx="548.12" cy="123.39" r="2.0" fill="#fff" stroke="#23237a" stroke-width="0.9"/>
<circle cx="550.66" cy="124.63" r="2.0" fill="#fff" stroke="#23237a" stroke-width="0.9"/>
<circle cx="553.27" cy="123.24" r="2.0" fill="#fff" stroke="#23237a" stroke-width="0.9"/>
<circle cx="555.81" cy="123.62" r="2.0" fill="#fff" stroke="#23237a" stroke-width="0.9"/>
<circle cx="558.35" cy="124.00" r="2.0" fill="#fff" stroke="#23237a" stroke-width="0.9"/>
<circle cx="560.42" cy="123.04" r="2.0" fill="#fff" stroke="#23237a" stroke-width="0.9"/>
<circle cx="561.96" cy="122.19" r="2.0" fill="#fff" stroke="#23237a" stroke-width="0.9"/>
<circle cx="563.50" cy="122.76" r="2.0" fill="#fff" stroke="#23237a" stroke-width="0.9"/>
<circle cx="564.27" cy="120.56" r="2.0" fill="#fff" stroke="#23237a" stroke-width="0.9"/>
<circle cx="565.04" cy="111.38" r="2.0" fill="#fff" stroke="#23237a" stroke-width="0.9"/>
<circle cx="565.81" cy="105.22" r="2.0" fill="#fff" stroke="#23237a" stroke-width="0.9"/>
<circle cx="566.58" cy="99.51" r="2.0" fill="#fff" stroke="#23237a" stroke-width="0.9"/>
<circle cx="567.35" cy="92.33" r="2.0" fill="#fff" stroke="#23237a" stroke-width="0.9"/>
<circle cx="568.11" cy="84.71" r="2.0" fill="#fff" stroke="#23237a" stroke-width="0.9"/>
<circle cx="568.88" cy="88.32" r="2.0" fill="#fff" stroke="#23237a" stroke-width="0.9"/>
<circle cx="569.65" cy="90.48" r="2.0" fill="#fff" stroke="#23237a" stroke-width="0.9"/>
<circle cx="570.42" cy="91.80" r="2.0" fill="#fff" stroke="#23237a" stroke-width="0.9"/>
<circle cx="571.19" cy="93.65" r="2.0" fill="#fff" stroke="#23237a" stroke-width="0.9"/>
<circle cx="572.34" cy="97.22" r="2.0" fill="#fff" stroke="#23237a" stroke-width="0.9"/>
<circle cx="573.50" cy="100.88" r="2.0" fill="#fff" stroke="#23237a" stroke-width="0.9"/>
<circle cx="575.03" cy="102.37" r="2.0" fill="#fff" stroke="#23237a" stroke-width="0.9"/>
<circle cx="578.88" cy="106.80" r="2.0" fill="#fff" stroke="#23237a" stroke-width="0.9"/>
<circle cx="582.73" cy="109.75" r="2.0" fill="#fff" stroke="#23237a" stroke-width="0.9"/>
<circle cx="586.57" cy="110.92" r="2.0" fill="#fff" stroke="#23237a" stroke-width="0.9"/>
<circle cx="590.41" cy="113.21" r="2.0" fill="#fff" stroke="#23237a" stroke-width="0.9"/>
<circle cx="594.26" cy="113.16" r="2.0" fill="#fff" stroke="#23237a" stroke-width="0.9"/>
<circle cx="598.11" cy="114.98" r="2.0" fill="#fff" stroke="#23237a" stroke-width="0.9"/>
<circle cx="601.95" cy="113.26" r="2.0" fill="#fff" stroke="#23237a" stroke-width="0.9"/>
<circle cx="609.64" cy="116.13" r="2.0" fill="#fff" stroke="#23237a" stroke-width="0.9"/>
<circle cx="617.33" cy="115.94" r="2.0" fill="#fff" stroke="#23237a" stroke-width="0.9"/>
<circle cx="625.02" cy="115.41" r="2.0" fill="#fff" stroke="#23237a" stroke-width="0.9"/>
<circle cx="632.71" cy="118.01" r="2.0" fill="#fff" stroke="#23237a" stroke-width="0.9"/>
<circle cx="640.40" cy="117.64" r="2.0" fill="#fff" stroke="#23237a" stroke-width="0.9"/>
<line x1="525.05" y1="65.52" x2="525.05" y2="78.12" stroke="#3434cc" stroke-width="1.2"/>
<line x1="522.75" y1="65.52" x2="527.35" y2="65.52" stroke="#3434cc" stroke-width="1.3"/>
<line x1="522.75" y1="78.12" x2="527.35" y2="78.12" stroke="#3434cc" stroke-width="1.3"/>
<line x1="532.74" y1="66.60" x2="532.74" y2="79.20" stroke="#3434cc" stroke-width="1.2"/>
<line x1="530.44" y1="66.60" x2="535.04" y2="66.60" stroke="#3434cc" stroke-width="1.3"/>
<line x1="530.44" y1="79.20" x2="535.04" y2="79.20" stroke="#3434cc" stroke-width="1.3"/>
<line x1="540.43" y1="67.53" x2="540.43" y2="80.13" stroke="#3434cc" stroke-width="1.2"/>
<line x1="538.13" y1="67.53" x2="542.73" y2="67.53" stroke="#3434cc" stroke-width="1.3"/>
<line x1="538.13" y1="80.13" x2="542.73" y2="80.13" stroke="#3434cc" stroke-width="1.3"/>
<line x1="548.12" y1="66.93" x2="548.12" y2="79.53" stroke="#3434cc" stroke-width="1.2"/>
<line x1="545.82" y1="66.93" x2="550.42" y2="66.93" stroke="#3434cc" stroke-width="1.3"/>
<line x1="545.82" y1="79.53" x2="550.42" y2="79.53" stroke="#3434cc" stroke-width="1.3"/>
<line x1="550.66" y1="67.92" x2="550.66" y2="80.52" stroke="#3434cc" stroke-width="1.2"/>
<line x1="548.36" y1="67.92" x2="552.96" y2="67.92" stroke="#3434cc" stroke-width="1.3"/>
<line x1="548.36" y1="80.52" x2="552.96" y2="80.52" stroke="#3434cc" stroke-width="1.3"/>
<line x1="553.27" y1="67.90" x2="553.27" y2="80.50" stroke="#3434cc" stroke-width="1.2"/>
<line x1="550.97" y1="67.90" x2="555.57" y2="67.90" stroke="#3434cc" stroke-width="1.3"/>
<line x1="550.97" y1="80.50" x2="555.57" y2="80.50" stroke="#3434cc" stroke-width="1.3"/>
<line x1="555.81" y1="67.83" x2="555.81" y2="80.43" stroke="#3434cc" stroke-width="1.2"/>
<line x1="553.51" y1="67.83" x2="558.11" y2="67.83" stroke="#3434cc" stroke-width="1.3"/>
<line x1="553.51" y1="80.43" x2="558.11" y2="80.43" stroke="#3434cc" stroke-width="1.3"/>
<line x1="558.35" y1="67.56" x2="558.35" y2="80.16" stroke="#3434cc" stroke-width="1.2"/>
<line x1="556.05" y1="67.56" x2="560.65" y2="67.56" stroke="#3434cc" stroke-width="1.3"/>
<line x1="556.05" y1="80.16" x2="560.65" y2="80.16" stroke="#3434cc" stroke-width="1.3"/>
<line x1="560.42" y1="68.37" x2="560.42" y2="80.97" stroke="#3434cc" stroke-width="1.2"/>
<line x1="558.12" y1="68.37" x2="562.72" y2="68.37" stroke="#3434cc" stroke-width="1.3"/>
<line x1="558.12" y1="80.97" x2="562.72" y2="80.97" stroke="#3434cc" stroke-width="1.3"/>
<line x1="561.96" y1="67.83" x2="561.96" y2="80.43" stroke="#3434cc" stroke-width="1.2"/>
<line x1="559.66" y1="67.83" x2="564.26" y2="67.83" stroke="#3434cc" stroke-width="1.3"/>
<line x1="559.66" y1="80.43" x2="564.26" y2="80.43" stroke="#3434cc" stroke-width="1.3"/>
<line x1="563.50" y1="67.66" x2="563.50" y2="80.26" stroke="#3434cc" stroke-width="1.2"/>
<line x1="561.20" y1="67.66" x2="565.80" y2="67.66" stroke="#3434cc" stroke-width="1.3"/>
<line x1="561.20" y1="80.26" x2="565.80" y2="80.26" stroke="#3434cc" stroke-width="1.3"/>
<line x1="564.27" y1="58.43" x2="564.27" y2="71.03" stroke="#3434cc" stroke-width="1.2"/>
<line x1="561.97" y1="58.43" x2="566.57" y2="58.43" stroke="#3434cc" stroke-width="1.3"/>
<line x1="561.97" y1="71.03" x2="566.57" y2="71.03" stroke="#3434cc" stroke-width="1.3"/>
<line x1="565.04" y1="53.62" x2="565.04" y2="66.22" stroke="#3434cc" stroke-width="1.2"/>
<line x1="562.74" y1="53.62" x2="567.34" y2="53.62" stroke="#3434cc" stroke-width="1.3"/>
<line x1="562.74" y1="66.22" x2="567.34" y2="66.22" stroke="#3434cc" stroke-width="1.3"/>
<line x1="565.81" y1="46.75" x2="565.81" y2="59.35" stroke="#3434cc" stroke-width="1.2"/>
<line x1="563.51" y1="46.75" x2="568.11" y2="46.75" stroke="#3434cc" stroke-width="1.3"/>
<line x1="563.51" y1="59.35" x2="568.11" y2="59.35" stroke="#3434cc" stroke-width="1.3"/>
<line x1="566.58" y1="38.26" x2="566.58" y2="50.86" stroke="#3434cc" stroke-width="1.2"/>
<line x1="564.28" y1="38.26" x2="568.88" y2="38.26" stroke="#3434cc" stroke-width="1.3"/>
<line x1="564.28" y1="50.86" x2="568.88" y2="50.86" stroke="#3434cc" stroke-width="1.3"/>
<line x1="567.35" y1="30.92" x2="567.35" y2="43.52" stroke="#3434cc" stroke-width="1.2"/>
<line x1="565.05" y1="30.92" x2="569.64" y2="30.92" stroke="#3434cc" stroke-width="1.3"/>
<line x1="565.05" y1="43.52" x2="569.64" y2="43.52" stroke="#3434cc" stroke-width="1.3"/>
<line x1="568.11" y1="35.93" x2="568.11" y2="48.53" stroke="#3434cc" stroke-width="1.2"/>
<line x1="565.81" y1="35.93" x2="570.41" y2="35.93" stroke="#3434cc" stroke-width="1.3"/>
<line x1="565.81" y1="48.53" x2="570.41" y2="48.53" stroke="#3434cc" stroke-width="1.3"/>
<line x1="568.88" y1="35.69" x2="568.88" y2="48.29" stroke="#3434cc" stroke-width="1.2"/>
<line x1="566.58" y1="35.69" x2="571.18" y2="35.69" stroke="#3434cc" stroke-width="1.3"/>
<line x1="566.58" y1="48.29" x2="571.18" y2="48.29" stroke="#3434cc" stroke-width="1.3"/>
<line x1="569.65" y1="39.89" x2="569.65" y2="52.49" stroke="#3434cc" stroke-width="1.2"/>
<line x1="567.35" y1="39.89" x2="571.95" y2="39.89" stroke="#3434cc" stroke-width="1.3"/>
<line x1="567.35" y1="52.49" x2="571.95" y2="52.49" stroke="#3434cc" stroke-width="1.3"/>
<line x1="570.42" y1="43.59" x2="570.42" y2="56.19" stroke="#3434cc" stroke-width="1.2"/>
<line x1="568.12" y1="43.59" x2="572.72" y2="43.59" stroke="#3434cc" stroke-width="1.3"/>
<line x1="568.12" y1="56.19" x2="572.72" y2="56.19" stroke="#3434cc" stroke-width="1.3"/>
<line x1="571.19" y1="42.80" x2="571.19" y2="55.40" stroke="#3434cc" stroke-width="1.2"/>
<line x1="568.89" y1="42.80" x2="573.49" y2="42.80" stroke="#3434cc" stroke-width="1.3"/>
<line x1="568.89" y1="55.40" x2="573.49" y2="55.40" stroke="#3434cc" stroke-width="1.3"/>
<line x1="572.34" y1="46.55" x2="572.34" y2="59.15" stroke="#3434cc" stroke-width="1.2"/>
<line x1="570.04" y1="46.55" x2="574.64" y2="46.55" stroke="#3434cc" stroke-width="1.3"/>
<line x1="570.04" y1="59.15" x2="574.64" y2="59.15" stroke="#3434cc" stroke-width="1.3"/>
<line x1="573.50" y1="49.55" x2="573.50" y2="62.15" stroke="#3434cc" stroke-width="1.2"/>
<line x1="571.20" y1="49.55" x2="575.80" y2="49.55" stroke="#3434cc" stroke-width="1.3"/>
<line x1="571.20" y1="62.15" x2="575.80" y2="62.15" stroke="#3434cc" stroke-width="1.3"/>
<line x1="575.03" y1="50.18" x2="575.03" y2="62.78" stroke="#3434cc" stroke-width="1.2"/>
<line x1="572.74" y1="50.18" x2="577.33" y2="50.18" stroke="#3434cc" stroke-width="1.3"/>
<line x1="572.74" y1="62.78" x2="577.33" y2="62.78" stroke="#3434cc" stroke-width="1.3"/>
<line x1="578.88" y1="54.48" x2="578.88" y2="67.08" stroke="#3434cc" stroke-width="1.2"/>
<line x1="576.58" y1="54.48" x2="581.18" y2="54.48" stroke="#3434cc" stroke-width="1.3"/>
<line x1="576.58" y1="67.08" x2="581.18" y2="67.08" stroke="#3434cc" stroke-width="1.3"/>
<line x1="582.73" y1="56.93" x2="582.73" y2="69.53" stroke="#3434cc" stroke-width="1.2"/>
<line x1="580.43" y1="56.93" x2="585.02" y2="56.93" stroke="#3434cc" stroke-width="1.3"/>
<line x1="580.43" y1="69.53" x2="585.02" y2="69.53" stroke="#3434cc" stroke-width="1.3"/>
<line x1="586.57" y1="56.79" x2="586.57" y2="69.39" stroke="#3434cc" stroke-width="1.2"/>
<line x1="584.27" y1="56.79" x2="588.87" y2="56.79" stroke="#3434cc" stroke-width="1.3"/>
<line x1="584.27" y1="69.39" x2="588.87" y2="69.39" stroke="#3434cc" stroke-width="1.3"/>
<line x1="590.41" y1="58.29" x2="590.41" y2="70.89" stroke="#3434cc" stroke-width="1.2"/>
<line x1="588.12" y1="58.29" x2="592.71" y2="58.29" stroke="#3434cc" stroke-width="1.3"/>
<line x1="588.12" y1="70.89" x2="592.71" y2="70.89" stroke="#3434cc" stroke-width="1.3"/>
<line x1="594.26" y1="59.19" x2="594.26" y2="71.79" stroke="#3434cc" stroke-width="1.2"/>
<line x1="591.96" y1="59.19" x2="596.56" y2="59.19" stroke="#3434cc" stroke-width="1.3"/>
<line x1="591.96" y1="71.79" x2="596.56" y2="71.79" stroke="#3434cc" stroke-width="1.3"/>
<line x1="598.11" y1="60.07" x2="598.11" y2="72.67" stroke="#3434cc" stroke-width="1.2"/>
<line x1="595.81" y1="60.07" x2="600.40" y2="60.07" stroke="#3434cc" stroke-width="1.3"/>
<line x1="595.81" y1="72.67" x2="600.40" y2="72.67" stroke="#3434cc" stroke-width="1.3"/>
<line x1="601.95" y1="59.75" x2="601.95" y2="72.35" stroke="#3434cc" stroke-width="1.2"/>
<line x1="599.65" y1="59.75" x2="604.25" y2="59.75" stroke="#3434cc" stroke-width="1.3"/>
<line x1="599.65" y1="72.35" x2="604.25" y2="72.35" stroke="#3434cc" stroke-width="1.3"/>
<line x1="609.64" y1="60.24" x2="609.64" y2="72.84" stroke="#3434cc" stroke-width="1.2"/>
<line x1="607.34" y1="60.24" x2="611.94" y2="60.24" stroke="#3434cc" stroke-width="1.3"/>
<line x1="607.34" y1="72.84" x2="611.94" y2="72.84" stroke="#3434cc" stroke-width="1.3"/>
<line x1="617.33" y1="60.11" x2="617.33" y2="72.71" stroke="#3434cc" stroke-width="1.2"/>
<line x1="615.03" y1="60.11" x2="619.63" y2="60.11" stroke="#3434cc" stroke-width="1.3"/>
<line x1="615.03" y1="72.71" x2="619.63" y2="72.71" stroke="#3434cc" stroke-width="1.3"/>
<line x1="625.02" y1="61.11" x2="625.02" y2="73.71" stroke="#3434cc" stroke-width="1.2"/>
<line x1="622.72" y1="61.11" x2="627.32" y2="61.11" stroke="#3434cc" stroke-width="1.3"/>
<line x1="622.72" y1="73.71" x2="627.32" y2="73.71" stroke="#3434cc" stroke-width="1.3"/>
<line x1="632.71" y1="62.55" x2="632.71" y2="75.15" stroke="#3434cc" stroke-width="1.2"/>
<line x1="630.41" y1="62.55" x2="635.01" y2="62.55" stroke="#3434cc" stroke-width="1.3"/>
<line x1="630.41" y1="75.15" x2="635.01" y2="75.15" stroke="#3434cc" stroke-width="1.3"/>
<line x1="640.40" y1="62.33" x2="640.40" y2="74.93" stroke="#3434cc" stroke-width="1.2"/>
<line x1="638.10" y1="62.33" x2="642.70" y2="62.33" stroke="#3434cc" stroke-width="1.3"/>
<line x1="638.10" y1="74.93" x2="642.70" y2="74.93" stroke="#3434cc" stroke-width="1.3"/>
<circle cx="525.05" cy="71.82" r="2.0" fill="#fff" stroke="#3434cc" stroke-width="0.9"/>
<circle cx="532.74" cy="72.90" r="2.0" fill="#fff" stroke="#3434cc" stroke-width="0.9"/>
<circle cx="540.43" cy="73.83" r="2.0" fill="#fff" stroke="#3434cc" stroke-width="0.9"/>
<circle cx="548.12" cy="73.23" r="2.0" fill="#fff" stroke="#3434cc" stroke-width="0.9"/>
<circle cx="550.66" cy="74.22" r="2.0" fill="#fff" stroke="#3434cc" stroke-width="0.9"/>
<circle cx="553.27" cy="74.20" r="2.0" fill="#fff" stroke="#3434cc" stroke-width="0.9"/>
<circle cx="555.81" cy="74.13" r="2.0" fill="#fff" stroke="#3434cc" stroke-width="0.9"/>
<circle cx="558.35" cy="73.86" r="2.0" fill="#fff" stroke="#3434cc" stroke-width="0.9"/>
<circle cx="560.42" cy="74.67" r="2.0" fill="#fff" stroke="#3434cc" stroke-width="0.9"/>
<circle cx="561.96" cy="74.13" r="2.0" fill="#fff" stroke="#3434cc" stroke-width="0.9"/>
<circle cx="563.50" cy="73.96" r="2.0" fill="#fff" stroke="#3434cc" stroke-width="0.9"/>
<circle cx="564.27" cy="64.73" r="2.0" fill="#fff" stroke="#3434cc" stroke-width="0.9"/>
<circle cx="565.04" cy="59.92" r="2.0" fill="#fff" stroke="#3434cc" stroke-width="0.9"/>
<circle cx="565.81" cy="53.05" r="2.0" fill="#fff" stroke="#3434cc" stroke-width="0.9"/>
<circle cx="566.58" cy="44.56" r="2.0" fill="#fff" stroke="#3434cc" stroke-width="0.9"/>
<circle cx="567.35" cy="37.22" r="2.0" fill="#fff" stroke="#3434cc" stroke-width="0.9"/>
<circle cx="568.11" cy="42.23" r="2.0" fill="#fff" stroke="#3434cc" stroke-width="0.9"/>
<circle cx="568.88" cy="41.99" r="2.0" fill="#fff" stroke="#3434cc" stroke-width="0.9"/>
<circle cx="569.65" cy="46.19" r="2.0" fill="#fff" stroke="#3434cc" stroke-width="0.9"/>
<circle cx="570.42" cy="49.89" r="2.0" fill="#fff" stroke="#3434cc" stroke-width="0.9"/>
<circle cx="571.19" cy="49.10" r="2.0" fill="#fff" stroke="#3434cc" stroke-width="0.9"/>
<circle cx="572.34" cy="52.85" r="2.0" fill="#fff" stroke="#3434cc" stroke-width="0.9"/>
<circle cx="573.50" cy="55.85" r="2.0" fill="#fff" stroke="#3434cc" stroke-width="0.9"/>
<circle cx="575.03" cy="56.48" r="2.0" fill="#fff" stroke="#3434cc" stroke-width="0.9"/>
<circle cx="578.88" cy="60.78" r="2.0" fill="#fff" stroke="#3434cc" stroke-width="0.9"/>
<circle cx="582.73" cy="63.23" r="2.0" fill="#fff" stroke="#3434cc" stroke-width="0.9"/>
<circle cx="586.57" cy="63.09" r="2.0" fill="#fff" stroke="#3434cc" stroke-width="0.9"/>
<circle cx="590.41" cy="64.59" r="2.0" fill="#fff" stroke="#3434cc" stroke-width="0.9"/>
<circle cx="594.26" cy="65.49" r="2.0" fill="#fff" stroke="#3434cc" stroke-width="0.9"/>
<circle cx="598.11" cy="66.37" r="2.0" fill="#fff" stroke="#3434cc" stroke-width="0.9"/>
<circle cx="601.95" cy="66.05" r="2.0" fill="#fff" stroke="#3434cc" stroke-width="0.9"/>
<circle cx="609.64" cy="66.54" r="2.0" fill="#fff" stroke="#3434cc" stroke-width="0.9"/>
<circle cx="617.33" cy="66.41" r="2.0" fill="#fff" stroke="#3434cc" stroke-width="0.9"/>
<circle cx="625.02" cy="67.41" r="2.0" fill="#fff" stroke="#3434cc" stroke-width="0.9"/>
<circle cx="632.71" cy="68.85" r="2.0" fill="#fff" stroke="#3434cc" stroke-width="0.9"/>
<circle cx="640.40" cy="68.63" r="2.0" fill="#fff" stroke="#3434cc" stroke-width="0.9"/>
<line x1="517.70" y1="19.60" x2="613.10" y2="19.60" stroke="#000" stroke-width="1.0"/>
<line x1="517.70" y1="19.10" x2="517.70" y2="150.20" stroke="#000" stroke-width="1.0"/>
<line x1="517.20" y1="149.70" x2="649.10" y2="149.70" stroke="#000" stroke-width="1.0"/>
<line x1="648.60" y1="29.10" x2="648.60" y2="150.20" stroke="#000" stroke-width="1.0"/>
<line x1="525.05" y1="149.70" x2="525.05" y2="153.50" stroke="#000" stroke-width="1.0"/>
<line x1="525.05" y1="19.60" x2="525.05" y2="23.40" stroke="#000" stroke-width="1.0"/>
<line x1="544.27" y1="149.70" x2="544.27" y2="151.70" stroke="#000" stroke-width="1.0"/>
<line x1="544.27" y1="19.60" x2="544.27" y2="21.80" stroke="#000" stroke-width="1.0"/>
<line x1="563.50" y1="149.70" x2="563.50" y2="153.50" stroke="#000" stroke-width="1.0"/>
<line x1="563.50" y1="19.60" x2="563.50" y2="23.40" stroke="#000" stroke-width="1.0"/>
<line x1="582.73" y1="149.70" x2="582.73" y2="151.70" stroke="#000" stroke-width="1.0"/>
<line x1="582.73" y1="19.60" x2="582.73" y2="21.80" stroke="#000" stroke-width="1.0"/>
<line x1="601.95" y1="149.70" x2="601.95" y2="153.50" stroke="#000" stroke-width="1.0"/>
<line x1="601.95" y1="19.60" x2="601.95" y2="23.40" stroke="#000" stroke-width="1.0"/>
<line x1="621.17" y1="149.70" x2="621.17" y2="151.70" stroke="#000" stroke-width="1.0"/>
<line x1="640.40" y1="149.70" x2="640.40" y2="153.50" stroke="#000" stroke-width="1.0"/>
<line x1="514.30" y1="19.60" x2="517.70" y2="19.60" stroke="#000" stroke-width="1.0"/>
<line x1="514.30" y1="63.30" x2="517.70" y2="63.30" stroke="#000" stroke-width="1.0"/>
<line x1="645.20" y1="63.30" x2="648.60" y2="63.30" stroke="#000" stroke-width="1.0"/>
<line x1="514.30" y1="106.30" x2="517.70" y2="106.30" stroke="#000" stroke-width="1.0"/>
<line x1="645.20" y1="106.30" x2="648.60" y2="106.30" stroke="#000" stroke-width="1.0"/>
<line x1="515.50" y1="41.80" x2="517.70" y2="41.80" stroke="#000" stroke-width="1.0"/>
<line x1="646.40" y1="41.80" x2="648.60" y2="41.80" stroke="#000" stroke-width="1.0"/>
<line x1="515.50" y1="84.80" x2="517.70" y2="84.80" stroke="#000" stroke-width="1.0"/>
<line x1="646.40" y1="84.80" x2="648.60" y2="84.80" stroke="#000" stroke-width="1.0"/>
<line x1="515.50" y1="127.80" x2="517.70" y2="127.80" stroke="#000" stroke-width="1.0"/>
<line x1="646.40" y1="127.80" x2="648.60" y2="127.80" stroke="#000" stroke-width="1.0"/>
<rect x="613.10" y="1.90" width="50.30" height="27.20" fill="#fff" stroke="#b4b4b4" stroke-width="0.9"/>
<polyline points="616.60,17.69 617.10,17.68 617.60,17.68 618.10,17.67 618.60,17.66 619.10,17.64 619.60,17.62 620.10,17.59 620.60,17.56 621.10,17.51 621.60,17.46 622.10,17.38 622.60,17.29 623.10,17.18 623.60,17.04 624.10,16.87 624.60,16.67 625.10,16.43 625.60,16.15 626.10,15.82 626.60,15.44 627.10,15.01 627.60,14.53 628.10,14.00 628.60,13.41 629.10,12.78 629.60,12.10 630.10,11.38 630.60,10.64 631.10,9.88 631.60,9.11 632.10,8.36 632.60,7.62 633.10,6.93 633.60,6.28 634.10,5.71 634.60,5.22 635.10,4.83 635.60,4.54 636.10,4.36 636.60,4.30 637.10,4.36 637.60,4.54 638.10,4.83 638.60,5.22 639.10,5.71 639.60,6.28 640.10,6.93 640.60,7.62 641.10,8.36 641.60,9.11 642.10,9.88 642.60,10.64 643.10,11.38 643.60,12.10 644.10,12.78 644.60,13.41 645.10,14.00 645.60,14.53 646.10,15.01 646.60,15.44 647.10,15.82 647.60,16.15 648.10,16.43 648.60,16.67 649.10,16.87 649.60,17.04 650.10,17.18 650.60,17.29 651.10,17.38 651.60,17.46 652.10,17.51 652.60,17.56 653.10,17.59 653.60,17.62 654.10,17.64 654.60,17.66 655.10,17.67 655.60,17.68 656.10,17.68 656.60,17.69 657.10,17.69 657.60,17.69 658.10,17.70" fill="none" stroke="#333" stroke-width="0.8" stroke-linejoin="round"/>
<g stroke="#c84848" stroke-width="0.9" fill="none"><line x1="622.5" y1="10.4" x2="630.5" y2="10.4"/><polyline points="628.9,9.2 630.5,10.4 628.9,11.6"/><line x1="650.4" y1="10.4" x2="642.3" y2="10.4"/><polyline points="643.9,9.2 642.3,10.4 643.9,11.6"/></g>
<text x="620.80" y="26.00" font-size="7.0" text-anchor="start" font-weight="normal" fill="#222" textLength="33.0" lengthAdjust="spacingAndGlyphs">Peak width</text>
<text x="508.90" y="67.00" font-size="10.5" text-anchor="end" font-weight="normal" fill="#000">1.0</text>
<text x="508.90" y="110.00" font-size="10.5" text-anchor="end" font-weight="normal" fill="#000">0.8</text>
<text x="525.05" y="168.00" font-size="10.5" text-anchor="middle" font-weight="normal" fill="#000">–500</text>
<text x="563.50" y="168.00" font-size="10.5" text-anchor="middle" font-weight="normal" fill="#000">0</text>
<text x="601.95" y="168.00" font-size="10.5" text-anchor="middle" font-weight="normal" fill="#000">500</text>
<text x="640.40" y="168.00" font-size="10.5" text-anchor="middle" font-weight="normal" fill="#000">1000</text>
<text x="583.70" y="184.90" font-size="11.3" text-anchor="middle" font-weight="normal" fill="#000">Delay (fs)</text>
<text x="484.70" y="84.20" font-size="11.3" text-anchor="middle" font-weight="normal" fill="#000" transform="rotate(-90 484.70 84.20)">FWHM (eV)</text>
<text x="654.40" y="74.90" font-size="10.8" text-anchor="start" font-weight="normal" fill="#000">H-1</text>
<text x="654.40" y="95.20" font-size="10.8" text-anchor="start" font-weight="normal" fill="#000">H-2</text>
<text x="654.40" y="123.50" font-size="10.8" text-anchor="start" font-weight="normal" fill="#000">H</text>
<line x1="518.90" y1="336.30" x2="518.90" y2="344.30" stroke="#5a5ad8" stroke-width="0.75"/>
<line x1="516.90" y1="336.30" x2="520.90" y2="336.30" stroke="#5a5ad8" stroke-width="1.3"/>
<line x1="516.90" y1="344.30" x2="520.90" y2="344.30" stroke="#5a5ad8" stroke-width="1.3"/>
<line x1="525.05" y1="345.85" x2="525.05" y2="353.85" stroke="#7474e4" stroke-width="0.75"/>
<line x1="523.05" y1="345.85" x2="527.05" y2="345.85" stroke="#7474e4" stroke-width="1.3"/>
<line x1="523.05" y1="353.85" x2="527.05" y2="353.85" stroke="#7474e4" stroke-width="1.3"/>
<line x1="526.59" y1="338.55" x2="526.59" y2="346.55" stroke="#5a5ad8" stroke-width="0.75"/>
<line x1="524.59" y1="338.55" x2="528.59" y2="338.55" stroke="#5a5ad8" stroke-width="1.3"/>
<line x1="524.59" y1="346.55" x2="528.59" y2="346.55" stroke="#5a5ad8" stroke-width="1.3"/>
<line x1="532.74" y1="341.73" x2="532.74" y2="349.73" stroke="#7474e4" stroke-width="0.75"/>
<line x1="530.74" y1="341.73" x2="534.74" y2="341.73" stroke="#7474e4" stroke-width="1.3"/>
<line x1="530.74" y1="349.73" x2="534.74" y2="349.73" stroke="#7474e4" stroke-width="1.3"/>
<line x1="540.43" y1="342.77" x2="540.43" y2="350.77" stroke="#5a5ad8" stroke-width="0.75"/>
<line x1="538.43" y1="342.77" x2="542.43" y2="342.77" stroke="#5a5ad8" stroke-width="1.3"/>
<line x1="538.43" y1="350.77" x2="542.43" y2="350.77" stroke="#5a5ad8" stroke-width="1.3"/>
<line x1="548.12" y1="349.49" x2="548.12" y2="357.49" stroke="#7474e4" stroke-width="0.75"/>
<line x1="546.12" y1="349.49" x2="550.12" y2="349.49" stroke="#7474e4" stroke-width="1.3"/>
<line x1="546.12" y1="357.49" x2="550.12" y2="357.49" stroke="#7474e4" stroke-width="1.3"/>
<line x1="549.66" y1="342.81" x2="549.66" y2="350.81" stroke="#5a5ad8" stroke-width="0.75"/>
<line x1="547.66" y1="342.81" x2="551.66" y2="342.81" stroke="#5a5ad8" stroke-width="1.3"/>
<line x1="547.66" y1="350.81" x2="551.66" y2="350.81" stroke="#5a5ad8" stroke-width="1.3"/>
<line x1="551.20" y1="343.10" x2="551.20" y2="351.10" stroke="#7474e4" stroke-width="0.75"/>
<line x1="549.20" y1="343.10" x2="553.20" y2="343.10" stroke="#7474e4" stroke-width="1.3"/>
<line x1="549.20" y1="351.10" x2="553.20" y2="351.10" stroke="#7474e4" stroke-width="1.3"/>
<line x1="552.73" y1="339.60" x2="552.73" y2="349.60" stroke="#5a5ad8" stroke-width="0.75"/>
<line x1="550.73" y1="339.60" x2="554.73" y2="339.60" stroke="#5a5ad8" stroke-width="1.3"/>
<line x1="550.73" y1="349.60" x2="554.73" y2="349.60" stroke="#5a5ad8" stroke-width="1.3"/>
<line x1="554.27" y1="342.21" x2="554.27" y2="352.21" stroke="#7474e4" stroke-width="0.75"/>
<line x1="552.27" y1="342.21" x2="556.27" y2="342.21" stroke="#7474e4" stroke-width="1.3"/>
<line x1="552.27" y1="352.21" x2="556.27" y2="352.21" stroke="#7474e4" stroke-width="1.3"/>
<line x1="555.81" y1="341.16" x2="555.81" y2="351.16" stroke="#5a5ad8" stroke-width="0.75"/>
<line x1="553.81" y1="341.16" x2="557.81" y2="341.16" stroke="#5a5ad8" stroke-width="1.3"/>
<line x1="553.81" y1="351.16" x2="557.81" y2="351.16" stroke="#5a5ad8" stroke-width="1.3"/>
<line x1="556.58" y1="331.32" x2="556.58" y2="341.32" stroke="#7474e4" stroke-width="0.75"/>
<line x1="554.58" y1="331.32" x2="558.58" y2="331.32" stroke="#7474e4" stroke-width="1.3"/>
<line x1="554.58" y1="341.32" x2="558.58" y2="341.32" stroke="#7474e4" stroke-width="1.3"/>
<line x1="557.35" y1="322.73" x2="557.35" y2="332.73" stroke="#5a5ad8" stroke-width="0.75"/>
<line x1="555.35" y1="322.73" x2="559.35" y2="322.73" stroke="#5a5ad8" stroke-width="1.3"/>
<line x1="555.35" y1="332.73" x2="559.35" y2="332.73" stroke="#5a5ad8" stroke-width="1.3"/>
<line x1="558.12" y1="302.82" x2="558.12" y2="312.82" stroke="#7474e4" stroke-width="0.75"/>
<line x1="556.12" y1="302.82" x2="560.12" y2="302.82" stroke="#7474e4" stroke-width="1.3"/>
<line x1="556.12" y1="312.82" x2="560.12" y2="312.82" stroke="#7474e4" stroke-width="1.3"/>
<line x1="558.89" y1="290.57" x2="558.89" y2="300.57" stroke="#5a5ad8" stroke-width="0.75"/>
<line x1="556.89" y1="290.57" x2="560.89" y2="290.57" stroke="#5a5ad8" stroke-width="1.3"/>
<line x1="556.89" y1="300.57" x2="560.89" y2="300.57" stroke="#5a5ad8" stroke-width="1.3"/>
<line x1="559.65" y1="278.98" x2="559.65" y2="288.98" stroke="#7474e4" stroke-width="0.75"/>
<line x1="557.65" y1="278.98" x2="561.65" y2="278.98" stroke="#7474e4" stroke-width="1.3"/>
<line x1="557.65" y1="288.98" x2="561.65" y2="288.98" stroke="#7474e4" stroke-width="1.3"/>
<line x1="560.42" y1="261.04" x2="560.42" y2="271.04" stroke="#5a5ad8" stroke-width="0.75"/>
<line x1="558.42" y1="261.04" x2="562.42" y2="261.04" stroke="#5a5ad8" stroke-width="1.3"/>
<line x1="558.42" y1="271.04" x2="562.42" y2="271.04" stroke="#5a5ad8" stroke-width="1.3"/>
<line x1="561.19" y1="246.31" x2="561.19" y2="256.31" stroke="#7474e4" stroke-width="0.75"/>
<line x1="559.19" y1="246.31" x2="563.19" y2="246.31" stroke="#7474e4" stroke-width="1.3"/>
<line x1="559.19" y1="256.31" x2="563.19" y2="256.31" stroke="#7474e4" stroke-width="1.3"/>
<line x1="561.96" y1="242.62" x2="561.96" y2="252.62" stroke="#5a5ad8" stroke-width="0.75"/>
<line x1="559.96" y1="242.62" x2="563.96" y2="242.62" stroke="#5a5ad8" stroke-width="1.3"/>
<line x1="559.96" y1="252.62" x2="563.96" y2="252.62" stroke="#5a5ad8" stroke-width="1.3"/>
<line x1="562.73" y1="244.09" x2="562.73" y2="254.09" stroke="#7474e4" stroke-width="0.75"/>
<line x1="560.73" y1="244.09" x2="564.73" y2="244.09" stroke="#7474e4" stroke-width="1.3"/>
<line x1="560.73" y1="254.09" x2="564.73" y2="254.09" stroke="#7474e4" stroke-width="1.3"/>
<line x1="563.12" y1="244.47" x2="563.12" y2="254.47" stroke="#5a5ad8" stroke-width="0.75"/>
<line x1="561.12" y1="244.47" x2="565.12" y2="244.47" stroke="#5a5ad8" stroke-width="1.3"/>
<line x1="561.12" y1="254.47" x2="565.12" y2="254.47" stroke="#5a5ad8" stroke-width="1.3"/>
<line x1="563.50" y1="247.30" x2="563.50" y2="257.30" stroke="#7474e4" stroke-width="0.75"/>
<line x1="561.50" y1="247.30" x2="565.50" y2="247.30" stroke="#7474e4" stroke-width="1.3"/>
<line x1="561.50" y1="257.30" x2="565.50" y2="257.30" stroke="#7474e4" stroke-width="1.3"/>
<line x1="563.88" y1="251.11" x2="563.88" y2="261.11" stroke="#5a5ad8" stroke-width="0.75"/>
<line x1="561.88" y1="251.11" x2="565.88" y2="251.11" stroke="#5a5ad8" stroke-width="1.3"/>
<line x1="561.88" y1="261.11" x2="565.88" y2="261.11" stroke="#5a5ad8" stroke-width="1.3"/>
<line x1="564.27" y1="254.39" x2="564.27" y2="264.39" stroke="#7474e4" stroke-width="0.75"/>
<line x1="562.27" y1="254.39" x2="566.27" y2="254.39" stroke="#7474e4" stroke-width="1.3"/>
<line x1="562.27" y1="264.39" x2="566.27" y2="264.39" stroke="#7474e4" stroke-width="1.3"/>
<line x1="564.65" y1="249.90" x2="564.65" y2="259.90" stroke="#5a5ad8" stroke-width="0.75"/>
<line x1="562.65" y1="249.90" x2="566.65" y2="249.90" stroke="#5a5ad8" stroke-width="1.3"/>
<line x1="562.65" y1="259.90" x2="566.65" y2="259.90" stroke="#5a5ad8" stroke-width="1.3"/>
<line x1="565.04" y1="254.10" x2="565.04" y2="264.10" stroke="#7474e4" stroke-width="0.75"/>
<line x1="563.04" y1="254.10" x2="567.04" y2="254.10" stroke="#7474e4" stroke-width="1.3"/>
<line x1="563.04" y1="264.10" x2="567.04" y2="264.10" stroke="#7474e4" stroke-width="1.3"/>
<line x1="565.42" y1="260.69" x2="565.42" y2="270.69" stroke="#5a5ad8" stroke-width="0.75"/>
<line x1="563.42" y1="260.69" x2="567.42" y2="260.69" stroke="#5a5ad8" stroke-width="1.3"/>
<line x1="563.42" y1="270.69" x2="567.42" y2="270.69" stroke="#5a5ad8" stroke-width="1.3"/>
<line x1="565.81" y1="262.40" x2="565.81" y2="272.40" stroke="#7474e4" stroke-width="0.75"/>
<line x1="563.81" y1="262.40" x2="567.81" y2="262.40" stroke="#7474e4" stroke-width="1.3"/>
<line x1="563.81" y1="272.40" x2="567.81" y2="272.40" stroke="#7474e4" stroke-width="1.3"/>
<line x1="566.19" y1="257.31" x2="566.19" y2="267.31" stroke="#5a5ad8" stroke-width="0.75"/>
<line x1="564.19" y1="257.31" x2="568.19" y2="257.31" stroke="#5a5ad8" stroke-width="1.3"/>
<line x1="564.19" y1="267.31" x2="568.19" y2="267.31" stroke="#5a5ad8" stroke-width="1.3"/>
<line x1="566.58" y1="260.04" x2="566.58" y2="270.04" stroke="#7474e4" stroke-width="0.75"/>
<line x1="564.58" y1="260.04" x2="568.58" y2="260.04" stroke="#7474e4" stroke-width="1.3"/>
<line x1="564.58" y1="270.04" x2="568.58" y2="270.04" stroke="#7474e4" stroke-width="1.3"/>
<line x1="566.96" y1="259.56" x2="566.96" y2="269.56" stroke="#5a5ad8" stroke-width="0.75"/>
<line x1="564.96" y1="259.56" x2="568.96" y2="259.56" stroke="#5a5ad8" stroke-width="1.3"/>
<line x1="564.96" y1="269.56" x2="568.96" y2="269.56" stroke="#5a5ad8" stroke-width="1.3"/>
<line x1="567.35" y1="262.91" x2="567.35" y2="272.91" stroke="#7474e4" stroke-width="0.75"/>
<line x1="565.35" y1="262.91" x2="569.35" y2="262.91" stroke="#7474e4" stroke-width="1.3"/>
<line x1="565.35" y1="272.91" x2="569.35" y2="272.91" stroke="#7474e4" stroke-width="1.3"/>
<line x1="567.73" y1="267.72" x2="567.73" y2="277.72" stroke="#5a5ad8" stroke-width="0.75"/>
<line x1="565.73" y1="267.72" x2="569.73" y2="267.72" stroke="#5a5ad8" stroke-width="1.3"/>
<line x1="565.73" y1="277.72" x2="569.73" y2="277.72" stroke="#5a5ad8" stroke-width="1.3"/>
<line x1="568.11" y1="266.70" x2="568.11" y2="276.70" stroke="#7474e4" stroke-width="0.75"/>
<line x1="566.11" y1="266.70" x2="570.11" y2="266.70" stroke="#7474e4" stroke-width="1.3"/>
<line x1="566.11" y1="276.70" x2="570.11" y2="276.70" stroke="#7474e4" stroke-width="1.3"/>
<line x1="568.50" y1="273.07" x2="568.50" y2="283.07" stroke="#5a5ad8" stroke-width="0.75"/>
<line x1="566.50" y1="273.07" x2="570.50" y2="273.07" stroke="#5a5ad8" stroke-width="1.3"/>
<line x1="566.50" y1="283.07" x2="570.50" y2="283.07" stroke="#5a5ad8" stroke-width="1.3"/>
<line x1="568.88" y1="271.47" x2="568.88" y2="281.47" stroke="#7474e4" stroke-width="0.75"/>
<line x1="566.88" y1="271.47" x2="570.88" y2="271.47" stroke="#7474e4" stroke-width="1.3"/>
<line x1="566.88" y1="281.47" x2="570.88" y2="281.47" stroke="#7474e4" stroke-width="1.3"/>
<line x1="569.27" y1="271.38" x2="569.27" y2="281.38" stroke="#5a5ad8" stroke-width="0.75"/>
<line x1="567.27" y1="271.38" x2="571.27" y2="271.38" stroke="#5a5ad8" stroke-width="1.3"/>
<line x1="567.27" y1="281.38" x2="571.27" y2="281.38" stroke="#5a5ad8" stroke-width="1.3"/>
<line x1="569.65" y1="271.51" x2="569.65" y2="281.51" stroke="#7474e4" stroke-width="0.75"/>
<line x1="567.65" y1="271.51" x2="571.65" y2="271.51" stroke="#7474e4" stroke-width="1.3"/>
<line x1="567.65" y1="281.51" x2="571.65" y2="281.51" stroke="#7474e4" stroke-width="1.3"/>
<line x1="570.04" y1="275.45" x2="570.04" y2="285.45" stroke="#5a5ad8" stroke-width="0.75"/>
<line x1="568.04" y1="275.45" x2="572.04" y2="275.45" stroke="#5a5ad8" stroke-width="1.3"/>
<line x1="568.04" y1="285.45" x2="572.04" y2="285.45" stroke="#5a5ad8" stroke-width="1.3"/>
<line x1="570.42" y1="275.04" x2="570.42" y2="285.04" stroke="#7474e4" stroke-width="0.75"/>
<line x1="568.42" y1="275.04" x2="572.42" y2="275.04" stroke="#7474e4" stroke-width="1.3"/>
<line x1="568.42" y1="285.04" x2="572.42" y2="285.04" stroke="#7474e4" stroke-width="1.3"/>
<line x1="570.81" y1="274.55" x2="570.81" y2="284.55" stroke="#5a5ad8" stroke-width="0.75"/>
<line x1="568.81" y1="274.55" x2="572.81" y2="274.55" stroke="#5a5ad8" stroke-width="1.3"/>
<line x1="568.81" y1="284.55" x2="572.81" y2="284.55" stroke="#5a5ad8" stroke-width="1.3"/>
<line x1="571.19" y1="275.44" x2="571.19" y2="285.44" stroke="#7474e4" stroke-width="0.75"/>
<line x1="569.19" y1="275.44" x2="573.19" y2="275.44" stroke="#7474e4" stroke-width="1.3"/>
<line x1="569.19" y1="285.44" x2="573.19" y2="285.44" stroke="#7474e4" stroke-width="1.3"/>
<line x1="571.96" y1="276.34" x2="571.96" y2="286.34" stroke="#5a5ad8" stroke-width="0.75"/>
<line x1="569.96" y1="276.34" x2="573.96" y2="276.34" stroke="#5a5ad8" stroke-width="1.3"/>
<line x1="569.96" y1="286.34" x2="573.96" y2="286.34" stroke="#5a5ad8" stroke-width="1.3"/>
<line x1="572.73" y1="278.68" x2="572.73" y2="288.68" stroke="#7474e4" stroke-width="0.75"/>
<line x1="570.73" y1="278.68" x2="574.73" y2="278.68" stroke="#7474e4" stroke-width="1.3"/>
<line x1="570.73" y1="288.68" x2="574.73" y2="288.68" stroke="#7474e4" stroke-width="1.3"/>
<line x1="573.50" y1="281.23" x2="573.50" y2="291.23" stroke="#5a5ad8" stroke-width="0.75"/>
<line x1="571.50" y1="281.23" x2="575.50" y2="281.23" stroke="#5a5ad8" stroke-width="1.3"/>
<line x1="571.50" y1="291.23" x2="575.50" y2="291.23" stroke="#5a5ad8" stroke-width="1.3"/>
<line x1="574.27" y1="280.36" x2="574.27" y2="290.36" stroke="#7474e4" stroke-width="0.75"/>
<line x1="572.27" y1="280.36" x2="576.27" y2="280.36" stroke="#7474e4" stroke-width="1.3"/>
<line x1="572.27" y1="290.36" x2="576.27" y2="290.36" stroke="#7474e4" stroke-width="1.3"/>
<line x1="575.03" y1="282.97" x2="575.03" y2="292.97" stroke="#5a5ad8" stroke-width="0.75"/>
<line x1="573.03" y1="282.97" x2="577.03" y2="282.97" stroke="#5a5ad8" stroke-width="1.3"/>
<line x1="573.03" y1="292.97" x2="577.03" y2="292.97" stroke="#5a5ad8" stroke-width="1.3"/>
<line x1="576.19" y1="286.39" x2="576.19" y2="296.39" stroke="#7474e4" stroke-width="0.75"/>
<line x1="574.19" y1="286.39" x2="578.19" y2="286.39" stroke="#7474e4" stroke-width="1.3"/>
<line x1="574.19" y1="296.39" x2="578.19" y2="296.39" stroke="#7474e4" stroke-width="1.3"/>
<line x1="577.34" y1="287.57" x2="577.34" y2="297.57" stroke="#5a5ad8" stroke-width="0.75"/>
<line x1="575.34" y1="287.57" x2="579.34" y2="287.57" stroke="#5a5ad8" stroke-width="1.3"/>
<line x1="575.34" y1="297.57" x2="579.34" y2="297.57" stroke="#5a5ad8" stroke-width="1.3"/>
<line x1="578.88" y1="288.26" x2="578.88" y2="298.26" stroke="#7474e4" stroke-width="0.75"/>
<line x1="576.88" y1="288.26" x2="580.88" y2="288.26" stroke="#7474e4" stroke-width="1.3"/>
<line x1="576.88" y1="298.26" x2="580.88" y2="298.26" stroke="#7474e4" stroke-width="1.3"/>
<line x1="580.03" y1="289.54" x2="580.03" y2="299.54" stroke="#5a5ad8" stroke-width="0.75"/>
<line x1="578.03" y1="289.54" x2="582.03" y2="289.54" stroke="#5a5ad8" stroke-width="1.3"/>
<line x1="578.03" y1="299.54" x2="582.03" y2="299.54" stroke="#5a5ad8" stroke-width="1.3"/>
<line x1="581.19" y1="290.04" x2="581.19" y2="300.04" stroke="#7474e4" stroke-width="0.75"/>
<line x1="579.19" y1="290.04" x2="583.19" y2="290.04" stroke="#7474e4" stroke-width="1.3"/>
<line x1="579.19" y1="300.04" x2="583.19" y2="300.04" stroke="#7474e4" stroke-width="1.3"/>
<line x1="582.73" y1="291.77" x2="582.73" y2="301.77" stroke="#5a5ad8" stroke-width="0.75"/>
<line x1="580.73" y1="291.77" x2="584.73" y2="291.77" stroke="#5a5ad8" stroke-width="1.3"/>
<line x1="580.73" y1="301.77" x2="584.73" y2="301.77" stroke="#5a5ad8" stroke-width="1.3"/>
<line x1="584.65" y1="294.74" x2="584.65" y2="304.74" stroke="#7474e4" stroke-width="0.75"/>
<line x1="582.65" y1="294.74" x2="586.65" y2="294.74" stroke="#7474e4" stroke-width="1.3"/>
<line x1="582.65" y1="304.74" x2="586.65" y2="304.74" stroke="#7474e4" stroke-width="1.3"/>
<line x1="586.57" y1="296.35" x2="586.57" y2="306.35" stroke="#5a5ad8" stroke-width="0.75"/>
<line x1="584.57" y1="296.35" x2="588.57" y2="296.35" stroke="#5a5ad8" stroke-width="1.3"/>
<line x1="584.57" y1="306.35" x2="588.57" y2="306.35" stroke="#5a5ad8" stroke-width="1.3"/>
<line x1="590.41" y1="300.56" x2="590.41" y2="310.56" stroke="#7474e4" stroke-width="0.75"/>
<line x1="588.41" y1="300.56" x2="592.41" y2="300.56" stroke="#7474e4" stroke-width="1.3"/>
<line x1="588.41" y1="310.56" x2="592.41" y2="310.56" stroke="#7474e4" stroke-width="1.3"/>
<line x1="594.26" y1="298.11" x2="594.26" y2="308.11" stroke="#5a5ad8" stroke-width="0.75"/>
<line x1="592.26" y1="298.11" x2="596.26" y2="298.11" stroke="#5a5ad8" stroke-width="1.3"/>
<line x1="592.26" y1="308.11" x2="596.26" y2="308.11" stroke="#5a5ad8" stroke-width="1.3"/>
<line x1="598.11" y1="297.80" x2="598.11" y2="307.80" stroke="#7474e4" stroke-width="0.75"/>
<line x1="596.11" y1="297.80" x2="600.11" y2="297.80" stroke="#7474e4" stroke-width="1.3"/>
<line x1="596.11" y1="307.80" x2="600.11" y2="307.80" stroke="#7474e4" stroke-width="1.3"/>
<line x1="601.95" y1="299.75" x2="601.95" y2="309.75" stroke="#5a5ad8" stroke-width="0.75"/>
<line x1="599.95" y1="299.75" x2="603.95" y2="299.75" stroke="#5a5ad8" stroke-width="1.3"/>
<line x1="599.95" y1="309.75" x2="603.95" y2="309.75" stroke="#5a5ad8" stroke-width="1.3"/>
<line x1="609.64" y1="302.29" x2="609.64" y2="312.29" stroke="#7474e4" stroke-width="0.75"/>
<line x1="607.64" y1="302.29" x2="611.64" y2="302.29" stroke="#7474e4" stroke-width="1.3"/>
<line x1="607.64" y1="312.29" x2="611.64" y2="312.29" stroke="#7474e4" stroke-width="1.3"/>
<line x1="617.33" y1="302.18" x2="617.33" y2="312.18" stroke="#5a5ad8" stroke-width="0.75"/>
<line x1="615.33" y1="302.18" x2="619.33" y2="302.18" stroke="#5a5ad8" stroke-width="1.3"/>
<line x1="615.33" y1="312.18" x2="619.33" y2="312.18" stroke="#5a5ad8" stroke-width="1.3"/>
<line x1="625.02" y1="306.29" x2="625.02" y2="316.29" stroke="#7474e4" stroke-width="0.75"/>
<line x1="623.02" y1="306.29" x2="627.02" y2="306.29" stroke="#7474e4" stroke-width="1.3"/>
<line x1="623.02" y1="316.29" x2="627.02" y2="316.29" stroke="#7474e4" stroke-width="1.3"/>
<line x1="632.71" y1="309.39" x2="632.71" y2="319.39" stroke="#5a5ad8" stroke-width="0.75"/>
<line x1="630.71" y1="309.39" x2="634.71" y2="309.39" stroke="#5a5ad8" stroke-width="1.3"/>
<line x1="630.71" y1="319.39" x2="634.71" y2="319.39" stroke="#5a5ad8" stroke-width="1.3"/>
<line x1="640.40" y1="306.36" x2="640.40" y2="316.36" stroke="#7474e4" stroke-width="0.75"/>
<line x1="638.40" y1="306.36" x2="642.40" y2="306.36" stroke="#7474e4" stroke-width="1.3"/>
<line x1="638.40" y1="316.36" x2="642.40" y2="316.36" stroke="#7474e4" stroke-width="1.3"/>
<circle cx="518.90" cy="340.30" r="1.3" fill="#fff" stroke="#5a5ad8" stroke-width="0.6"/>
<circle cx="525.05" cy="349.85" r="1.3" fill="#fff" stroke="#7474e4" stroke-width="0.6"/>
<circle cx="526.59" cy="342.55" r="1.3" fill="#fff" stroke="#5a5ad8" stroke-width="0.6"/>
<circle cx="532.74" cy="345.73" r="1.3" fill="#fff" stroke="#7474e4" stroke-width="0.6"/>
<circle cx="540.43" cy="346.77" r="1.3" fill="#fff" stroke="#5a5ad8" stroke-width="0.6"/>
<circle cx="548.12" cy="353.49" r="1.3" fill="#fff" stroke="#7474e4" stroke-width="0.6"/>
<circle cx="549.66" cy="346.81" r="1.3" fill="#fff" stroke="#5a5ad8" stroke-width="0.6"/>
<circle cx="551.20" cy="347.10" r="1.3" fill="#fff" stroke="#7474e4" stroke-width="0.6"/>
<circle cx="552.73" cy="344.60" r="1.3" fill="#fff" stroke="#5a5ad8" stroke-width="0.6"/>
<circle cx="554.27" cy="347.21" r="1.3" fill="#fff" stroke="#7474e4" stroke-width="0.6"/>
<circle cx="555.81" cy="346.16" r="1.3" fill="#fff" stroke="#5a5ad8" stroke-width="0.6"/>
<circle cx="556.58" cy="336.32" r="1.3" fill="#fff" stroke="#7474e4" stroke-width="0.6"/>
<circle cx="557.35" cy="327.73" r="1.3" fill="#fff" stroke="#5a5ad8" stroke-width="0.6"/>
<circle cx="558.12" cy="307.82" r="1.3" fill="#fff" stroke="#7474e4" stroke-width="0.6"/>
<circle cx="558.89" cy="295.57" r="1.3" fill="#fff" stroke="#5a5ad8" stroke-width="0.6"/>
<circle cx="559.65" cy="283.98" r="1.3" fill="#fff" stroke="#7474e4" stroke-width="0.6"/>
<circle cx="560.42" cy="266.04" r="1.3" fill="#fff" stroke="#5a5ad8" stroke-width="0.6"/>
<circle cx="561.19" cy="251.31" r="1.3" fill="#fff" stroke="#7474e4" stroke-width="0.6"/>
<circle cx="561.96" cy="247.62" r="1.3" fill="#fff" stroke="#5a5ad8" stroke-width="0.6"/>
<circle cx="562.73" cy="249.09" r="1.3" fill="#fff" stroke="#7474e4" stroke-width="0.6"/>
<circle cx="563.12" cy="249.47" r="1.3" fill="#fff" stroke="#5a5ad8" stroke-width="0.6"/>
<circle cx="563.50" cy="252.30" r="1.3" fill="#fff" stroke="#7474e4" stroke-width="0.6"/>
<circle cx="563.88" cy="256.11" r="1.3" fill="#fff" stroke="#5a5ad8" stroke-width="0.6"/>
<circle cx="564.27" cy="259.39" r="1.3" fill="#fff" stroke="#7474e4" stroke-width="0.6"/>
<circle cx="564.65" cy="254.90" r="1.3" fill="#fff" stroke="#5a5ad8" stroke-width="0.6"/>
<circle cx="565.04" cy="259.10" r="1.3" fill="#fff" stroke="#7474e4" stroke-width="0.6"/>
<circle cx="565.42" cy="265.69" r="1.3" fill="#fff" stroke="#5a5ad8" stroke-width="0.6"/>
<circle cx="565.81" cy="267.40" r="1.3" fill="#fff" stroke="#7474e4" stroke-width="0.6"/>
<circle cx="566.19" cy="262.31" r="1.3" fill="#fff" stroke="#5a5ad8" stroke-width="0.6"/>
<circle cx="566.58" cy="265.04" r="1.3" fill="#fff" stroke="#7474e4" stroke-width="0.6"/>
<circle cx="566.96" cy="264.56" r="1.3" fill="#fff" stroke="#5a5ad8" stroke-width="0.6"/>
<circle cx="567.35" cy="267.91" r="1.3" fill="#fff" stroke="#7474e4" stroke-width="0.6"/>
<circle cx="567.73" cy="272.72" r="1.3" fill="#fff" stroke="#5a5ad8" stroke-width="0.6"/>
<circle cx="568.11" cy="271.70" r="1.3" fill="#fff" stroke="#7474e4" stroke-width="0.6"/>
<circle cx="568.50" cy="278.07" r="1.3" fill="#fff" stroke="#5a5ad8" stroke-width="0.6"/>
<circle cx="568.88" cy="276.47" r="1.3" fill="#fff" stroke="#7474e4" stroke-width="0.6"/>
<circle cx="569.27" cy="276.38" r="1.3" fill="#fff" stroke="#5a5ad8" stroke-width="0.6"/>
<circle cx="569.65" cy="276.51" r="1.3" fill="#fff" stroke="#7474e4" stroke-width="0.6"/>
<circle cx="570.04" cy="280.45" r="1.3" fill="#fff" stroke="#5a5ad8" stroke-width="0.6"/>
<circle cx="570.42" cy="280.04" r="1.3" fill="#fff" stroke="#7474e4" stroke-width="0.6"/>
<circle cx="570.81" cy="279.55" r="1.3" fill="#fff" stroke="#5a5ad8" stroke-width="0.6"/>
<circle cx="571.19" cy="280.44" r="1.3" fill="#fff" stroke="#7474e4" stroke-width="0.6"/>
<circle cx="571.96" cy="281.34" r="1.3" fill="#fff" stroke="#5a5ad8" stroke-width="0.6"/>
<circle cx="572.73" cy="283.68" r="1.3" fill="#fff" stroke="#7474e4" stroke-width="0.6"/>
<circle cx="573.50" cy="286.23" r="1.3" fill="#fff" stroke="#5a5ad8" stroke-width="0.6"/>
<circle cx="574.27" cy="285.36" r="1.3" fill="#fff" stroke="#7474e4" stroke-width="0.6"/>
<circle cx="575.03" cy="287.97" r="1.3" fill="#fff" stroke="#5a5ad8" stroke-width="0.6"/>
<circle cx="576.19" cy="291.39" r="1.3" fill="#fff" stroke="#7474e4" stroke-width="0.6"/>
<circle cx="577.34" cy="292.57" r="1.3" fill="#fff" stroke="#5a5ad8" stroke-width="0.6"/>
<circle cx="578.88" cy="293.26" r="1.3" fill="#fff" stroke="#7474e4" stroke-width="0.6"/>
<circle cx="580.03" cy="294.54" r="1.3" fill="#fff" stroke="#5a5ad8" stroke-width="0.6"/>
<circle cx="581.19" cy="295.04" r="1.3" fill="#fff" stroke="#7474e4" stroke-width="0.6"/>
<circle cx="582.73" cy="296.77" r="1.3" fill="#fff" stroke="#5a5ad8" stroke-width="0.6"/>
<circle cx="584.65" cy="299.74" r="1.3" fill="#fff" stroke="#7474e4" stroke-width="0.6"/>
<circle cx="586.57" cy="301.35" r="1.3" fill="#fff" stroke="#5a5ad8" stroke-width="0.6"/>
<circle cx="590.41" cy="305.56" r="1.3" fill="#fff" stroke="#7474e4" stroke-width="0.6"/>
<circle cx="594.26" cy="303.11" r="1.3" fill="#fff" stroke="#5a5ad8" stroke-width="0.6"/>
<circle cx="598.11" cy="302.80" r="1.3" fill="#fff" stroke="#7474e4" stroke-width="0.6"/>
<circle cx="601.95" cy="304.75" r="1.3" fill="#fff" stroke="#5a5ad8" stroke-width="0.6"/>
<circle cx="609.64" cy="307.29" r="1.3" fill="#fff" stroke="#7474e4" stroke-width="0.6"/>
<circle cx="617.33" cy="307.18" r="1.3" fill="#fff" stroke="#5a5ad8" stroke-width="0.6"/>
<circle cx="625.02" cy="311.29" r="1.3" fill="#fff" stroke="#7474e4" stroke-width="0.6"/>
<circle cx="632.71" cy="314.39" r="1.3" fill="#fff" stroke="#5a5ad8" stroke-width="0.6"/>
<circle cx="640.40" cy="311.36" r="1.3" fill="#fff" stroke="#7474e4" stroke-width="0.6"/>
<polyline points="557.73,354.60 557.96,348.99 558.19,343.38 558.42,337.78 558.66,332.17 558.89,326.56 559.12,320.95 559.35,315.34 559.58,309.74 559.81,304.13 560.04,298.52 560.27,292.91 560.50,287.30 560.73,281.70 560.96,276.09 561.19,270.48 561.42,264.87 561.65,259.27 561.89,253.66 562.12,248.05 562.35,251.50 562.58,259.47 562.81,267.44 563.04,272.70 563.27,276.60 563.50,280.50 563.73,282.45 563.96,284.40 564.19,286.35 564.42,287.98 564.65,289.44 564.88,290.90 565.11,292.36 565.35,293.83 565.58,295.45 565.81,297.40 566.04,299.35 566.27,301.30 566.50,303.25 566.73,304.97 566.96,306.58 567.19,308.19 567.42,309.80 567.65,311.41 567.88,312.88 568.11,314.08 568.34,315.29 568.58,316.49 568.81,317.69 569.04,318.89 569.27,320.10 569.50,321.30 569.73,322.43 569.96,323.40 570.19,324.38 570.42,325.35 570.65,326.33 570.88,327.30 571.11,328.28 571.34,329.03 571.57,329.68 571.81,330.33 572.04,330.98 572.27,331.63 572.50,332.28 572.73,332.93 572.96,333.58 573.19,334.23 573.42,334.88 573.65,335.41 573.88,335.88 574.11,336.35 574.34,336.82 574.57,337.28 574.80,337.75 575.03,338.22 575.27,338.69 575.50,339.16 575.73,339.62 575.96,339.93 576.19,340.17 576.42,340.40 576.65,340.63 576.88,340.86 577.11,341.09 577.34,341.32 577.57,341.55 577.80,341.78 578.03,342.01 578.26,342.25 578.50,342.48 578.73,342.71 578.96,342.94 579.19,343.17 579.42,343.40 579.65,343.63 579.88,343.86 580.11,344.00 580.34,344.09 580.57,344.18 580.80,344.27 581.03,344.36 581.26,344.45 581.49,344.54 581.73,344.64 581.96,344.73 582.19,344.82 582.42,344.91 582.65,345.00 582.88,345.09 583.11,345.18 583.34,345.27 583.57,345.36 583.80,345.45 584.03,345.54 584.26,345.63 584.49,345.72 584.72,345.81 584.96,345.91 585.19,346.00 585.42,346.09 585.65,346.18 585.88,346.27 586.11,346.36 586.34,346.45 586.57,346.54 586.80,346.58 587.03,346.63 587.26,346.67 587.49,346.71 587.72,346.75 587.95,346.80 588.18,346.84 588.42,346.88 588.65,346.92 588.88,346.97 589.11,347.01 589.34,347.05 589.57,347.09 589.80,347.14 590.03,347.18 590.26,347.22 590.49,347.26 590.72,347.31 590.95,347.35 591.18,347.39 591.41,347.43 591.65,347.48 591.88,347.52 592.11,347.56 592.34,347.60 592.57,347.65 592.80,347.69 593.03,347.73 593.26,347.77 593.49,347.82 593.72,347.86 593.95,347.90 594.18,347.94 594.41,347.99 594.64,348.03 594.88,348.07 595.11,348.10 595.34,348.10 595.57,348.10 595.80,348.10 596.03,348.10 596.26,348.10 596.49,348.10 596.72,348.10 596.95,348.10 597.18,348.10 597.41,348.10 597.64,348.10 597.87,348.10 598.11,348.10 598.34,348.10 598.57,348.10 598.80,348.10 599.03,348.10 599.26,348.10 599.49,348.10 599.72,348.10 599.95,348.10 600.18,348.10 600.41,348.10 600.64,348.10 600.87,348.10 601.10,348.10 601.33,348.10 601.57,348.10 601.80,348.10 602.03,348.10 602.26,348.10 602.49,348.10 602.72,348.10 602.95,348.10 603.18,348.10 603.41,348.10 603.64,348.10 603.87,348.10 604.10,348.10 604.33,348.10 604.56,348.10 604.80,348.10 605.03,348.10 605.26,348.10 605.49,348.10 605.72,348.10 605.95,348.10 606.18,348.10 606.41,348.10 606.64,348.10 606.87,348.10 607.10,348.10 607.33,348.10 607.56,348.10 607.79,348.10 608.03,348.10 608.26,348.10 608.49,348.10 608.72,348.10 608.95,348.10 609.18,348.10 609.41,348.10 609.64,348.10 609.87,348.10 610.10,348.10 610.33,348.10 610.56,348.10 610.79,348.10 611.02,348.10 611.25,348.10 611.49,348.10 611.72,348.10 611.95,348.10 612.18,348.10 612.41,348.10 612.64,348.10 612.87,348.10 613.10,348.10 613.33,348.10 613.56,348.10 613.79,348.10 614.02,348.10 614.25,348.10 614.48,348.10 614.72,348.10 614.95,348.10 615.18,348.10 615.41,348.10 615.64,348.10 615.87,348.10 616.10,348.10 616.33,348.10 616.56,348.10 616.79,348.10 617.02,348.10 617.25,348.10 617.48,348.10 617.71,348.10 617.95,348.10 618.18,348.10 618.41,348.10 618.64,348.10 618.87,348.10 619.10,348.10 619.33,348.10 619.56,348.10 619.79,348.10 620.02,348.10 620.25,348.10 620.48,348.10 620.71,348.10 620.94,348.10 621.17,348.10 621.41,348.10 621.64,348.10 621.87,348.10 622.10,348.10 622.33,348.10 622.56,348.10 622.79,348.10 623.02,348.10 623.25,348.10 623.48,348.10 623.71,348.10 623.94,348.10 624.17,348.10 624.40,348.10 624.64,348.10 624.87,348.10 625.10,348.10 625.33,348.10 625.56,348.10 625.79,348.10 626.02,348.10 626.25,348.10 626.48,348.10 626.71,348.10 626.94,348.10 627.17,348.10 627.40,348.10 627.63,348.10 627.87,348.10 628.10,348.10 628.33,348.10 628.56,348.10 628.79,348.10 629.02,348.10 629.25,348.10 629.48,348.10 629.71,348.10 629.94,348.10 630.17,348.10 630.40,348.10 630.63,348.10 630.86,348.10 631.10,348.10 631.33,348.10 631.56,348.10 631.79,348.10 632.02,348.10 632.25,348.10 632.48,348.10 632.71,348.10 632.94,348.10 633.17,348.10 633.40,348.10 633.63,348.10 633.86,348.10 634.09,348.10 634.32,348.10 634.56,348.10 634.79,348.10 635.02,348.10 635.25,348.10 635.48,348.10 635.71,348.10 635.94,348.10 636.17,348.10 636.40,348.10 636.63,348.10 636.86,348.10 637.09,348.10 637.32,348.10 637.55,348.10 637.79,348.10 638.02,348.10 638.25,348.10 638.48,348.10 638.71,348.10 638.94,348.10 639.17,348.10 639.40,348.10 639.63,348.10 639.86,348.10 640.09,348.10 640.32,348.10 640.55,348.10 640.78,348.10 641.02,348.10 641.25,348.10 641.48,348.10 641.71,348.10 641.94,348.10 642.17,348.10 642.40,348.10 642.63,348.10 642.86,348.10 643.09,348.10 643.32,348.10 643.55,348.10 643.78,348.10 644.01,348.10 644.25,348.10 644.48,348.10 644.71,348.10 644.94,348.10 645.17,348.10 645.40,348.10 645.63,348.10 645.86,348.10 646.09,348.10 646.32,348.10 646.55,348.10 646.78,348.10 647.01,348.10 647.24,348.10 647.47,348.10 647.71,348.10 647.94,348.10" fill="none" stroke="#b5201c" stroke-width="1.2" stroke-linejoin="round"/>
<polyline points="557.73,354.60 557.96,353.26 558.19,351.93 558.42,350.59 558.66,349.25 558.89,347.91 559.12,346.58 559.35,345.24 559.58,343.90 559.81,342.57 560.04,341.23 560.27,339.89 560.50,338.74 560.73,337.96 560.96,337.18 561.19,336.40 561.42,335.62 561.65,334.84 561.89,334.06 562.12,333.28 562.35,332.21 562.58,331.00 562.81,329.78 563.04,328.57 563.27,327.36 563.50,326.14 563.73,325.00 563.96,323.89 564.19,322.78 564.42,321.68 564.65,320.57 564.88,319.46 565.11,318.42 565.35,317.52 565.58,316.63 565.81,315.73 566.04,314.83 566.27,313.94 566.50,313.04 566.73,312.45 566.96,312.03 567.19,311.60 567.42,311.17 567.65,310.74 567.88,310.31 568.11,309.88 568.34,309.59 568.58,309.30 568.81,309.00 569.04,308.71 569.27,308.42 569.50,308.12 569.73,307.83 569.96,307.54 570.19,307.25 570.42,306.96 570.65,306.66 570.88,306.37 571.11,306.08 571.34,305.90 571.57,305.77 571.81,305.65 572.04,305.52 572.27,305.40 572.50,305.27 572.73,305.15 572.96,305.02 573.19,304.90 573.42,304.77 573.65,304.65 573.88,304.52 574.11,304.40 574.34,304.27 574.57,304.15 574.80,304.02 575.03,303.90 575.27,303.84 575.50,303.78 575.73,303.72 575.96,303.66 576.19,303.60 576.42,303.54 576.65,303.48 576.88,303.42 577.11,303.36 577.34,303.30 577.57,303.24 577.80,303.18 578.03,303.12 578.26,303.09 578.50,303.07 578.73,303.04 578.96,303.02 579.19,302.99 579.42,302.97 579.65,302.94 579.88,302.92 580.11,302.89 580.34,302.86 580.57,302.84 580.80,302.81 581.03,302.79 581.26,302.76 581.49,302.74 581.73,302.71 581.96,302.69 582.19,302.66 582.42,302.63 582.65,302.61 582.88,302.60 583.11,302.60 583.34,302.60 583.57,302.60 583.80,302.60 584.03,302.60 584.26,302.60 584.49,302.60 584.72,302.60 584.96,302.60 585.19,302.60 585.42,302.60 585.65,302.60 585.88,302.60 586.11,302.60 586.34,302.60 586.57,302.60 586.80,302.60 587.03,302.60 587.26,302.60 587.49,302.60 587.72,302.60 587.95,302.60 588.18,302.60 588.42,302.60 588.65,302.60 588.88,302.60 589.11,302.60 589.34,302.60 589.57,302.60 589.80,302.60 590.03,302.60 590.26,302.60 590.49,302.61 590.72,302.62 590.95,302.64 591.18,302.66 591.41,302.68 591.65,302.70 591.88,302.72 592.11,302.74 592.34,302.76 592.57,302.77 592.80,302.79 593.03,302.81 593.26,302.83 593.49,302.85 593.72,302.87 593.95,302.89 594.18,302.91 594.41,302.92 594.64,302.94 594.88,302.96 595.11,302.98 595.34,303.00 595.57,303.02 595.80,303.04 596.03,303.06 596.26,303.07 596.49,303.09 596.72,303.11 596.95,303.13 597.18,303.15 597.41,303.17 597.64,303.19 597.87,303.21 598.11,303.22 598.34,303.24 598.57,303.26 598.80,303.28 599.03,303.30 599.26,303.32 599.49,303.34 599.72,303.36 599.95,303.37 600.18,303.40 600.41,303.43 600.64,303.46 600.87,303.49 601.10,303.53 601.33,303.56 601.57,303.59 601.80,303.62 602.03,303.65 602.26,303.68 602.49,303.71 602.72,303.74 602.95,303.78 603.18,303.81 603.41,303.84 603.64,303.87 603.87,303.90 604.10,303.93 604.33,303.96 604.56,303.99 604.80,304.02 605.03,304.06 605.26,304.09 605.49,304.12 605.72,304.15 605.95,304.18 606.18,304.21 606.41,304.24 606.64,304.27 606.87,304.31 607.10,304.34 607.33,304.37 607.56,304.40 607.79,304.43 608.03,304.46 608.26,304.49 608.49,304.52 608.72,304.56 608.95,304.59 609.18,304.62 609.41,304.65 609.64,304.68 609.87,304.71 610.10,304.74 610.33,304.77 610.56,304.80 610.79,304.84 611.02,304.87 611.25,304.90 611.49,304.93 611.72,304.96 611.95,304.99 612.18,305.02 612.41,305.05 612.64,305.09 612.87,305.12 613.10,305.15 613.33,305.18 613.56,305.21 613.79,305.24 614.02,305.27 614.25,305.30 614.48,305.34 614.72,305.37 614.95,305.40 615.18,305.43 615.41,305.46 615.64,305.49 615.87,305.52 616.10,305.55 616.33,305.58 616.56,305.62 616.79,305.65 617.02,305.68 617.25,305.71 617.48,305.74 617.71,305.78 617.95,305.81 618.18,305.85 618.41,305.88 618.64,305.92 618.87,305.95 619.10,305.99 619.33,306.02 619.56,306.06 619.79,306.09 620.02,306.13 620.25,306.16 620.48,306.20 620.71,306.23 620.94,306.27 621.17,306.31 621.41,306.34 621.64,306.38 621.87,306.41 622.10,306.45 622.33,306.48 622.56,306.52 622.79,306.55 623.02,306.59 623.25,306.62 623.48,306.66 623.71,306.69 623.94,306.73 624.17,306.76 624.40,306.80 624.64,306.83 624.87,306.87 625.10,306.90 625.33,306.94 625.56,306.97 625.79,307.01 626.02,307.04 626.25,307.08 626.48,307.11 626.71,307.15 626.94,307.18 627.17,307.22 627.40,307.25 627.63,307.29 627.87,307.32 628.10,307.36 628.33,307.39 628.56,307.43 628.79,307.46 629.02,307.50 629.25,307.53 629.48,307.57 629.71,307.60 629.94,307.64 630.17,307.67 630.40,307.71 630.63,307.74 630.86,307.78 631.10,307.81 631.33,307.85 631.56,307.88 631.79,307.92 632.02,307.95 632.25,307.99 632.48,308.02 632.71,308.06 632.94,308.10 633.17,308.13 633.40,308.17 633.63,308.20 633.86,308.24 634.09,308.27 634.32,308.31 634.56,308.34 634.79,308.38 635.02,308.41 635.25,308.45 635.48,308.48 635.71,308.52 635.94,308.55 636.17,308.59 636.40,308.62 636.63,308.66 636.86,308.69 637.09,308.73 637.32,308.76 637.55,308.80 637.79,308.83 638.02,308.87 638.25,308.90 638.48,308.94 638.71,308.97 638.94,309.01 639.17,309.04 639.40,309.08 639.63,309.11 639.86,309.15 640.09,309.18 640.32,309.22 640.55,309.25 640.78,309.29 641.02,309.32 641.25,309.36 641.48,309.39 641.71,309.43 641.94,309.46 642.17,309.50 642.40,309.53 642.63,309.57 642.86,309.60 643.09,309.64 643.32,309.67 643.55,309.71 643.78,309.74 644.01,309.78 644.25,309.82 644.48,309.85 644.71,309.89 644.94,309.92 645.17,309.96 645.40,309.99 645.63,310.03 645.86,310.06 646.09,310.10 646.32,310.13 646.55,310.17 646.78,310.20 647.01,310.24 647.24,310.27 647.47,310.31 647.71,310.34 647.94,310.38" fill="none" stroke="#b5201c" stroke-width="1.2" stroke-linejoin="round"/>
<polyline points="524.67,348.10 524.90,348.10 525.13,348.10 525.36,348.10 525.59,348.10 525.82,348.10 526.05,348.10 526.28,348.10 526.51,348.10 526.74,348.10 526.97,348.10 527.20,348.10 527.43,348.10 527.66,348.10 527.90,348.10 528.13,348.10 528.36,348.10 528.59,348.10 528.82,348.10 529.05,348.10 529.28,348.10 529.51,348.10 529.74,348.10 529.97,348.10 530.20,348.10 530.43,348.10 530.66,348.10 530.89,348.10 531.13,348.10 531.36,348.10 531.59,348.10 531.82,348.10 532.05,348.10 532.28,348.10 532.51,348.10 532.74,348.10 532.97,348.10 533.20,348.10 533.43,348.10 533.66,348.10 533.89,348.10 534.12,348.10 534.35,348.10 534.59,348.10 534.82,348.10 535.05,348.10 535.28,348.10 535.51,348.10 535.74,348.10 535.97,348.10 536.20,348.10 536.43,348.10 536.66,348.10 536.89,348.10 537.12,348.10 537.35,348.10 537.58,348.10 537.82,348.10 538.05,348.10 538.28,348.10 538.51,348.10 538.74,348.10 538.97,348.10 539.20,348.10 539.43,348.10 539.66,348.10 539.89,348.10 540.12,348.10 540.35,348.10 540.58,348.10 540.81,348.10 541.05,348.10 541.28,348.10 541.51,348.10 541.74,348.10 541.97,348.10 542.20,348.10 542.43,348.10 542.66,348.10 542.89,348.10 543.12,348.10 543.35,348.10 543.58,348.10 543.81,348.10 544.04,348.10 544.27,348.10 544.51,348.10 544.74,348.10 544.97,348.10 545.20,348.10 545.43,348.10 545.66,348.10 545.89,348.10 546.12,348.10 546.35,348.10 546.58,348.10 546.81,348.10 547.04,348.10 547.27,348.10 547.50,348.10 547.74,348.10 547.97,348.10 548.20,348.10 548.43,348.10 548.66,348.10 548.89,348.10 549.12,348.10 549.35,348.10 549.58,348.10 549.81,348.10 550.04,348.10 550.27,348.10 550.50,348.10 550.73,348.10 550.97,348.10 551.20,348.10 551.43,348.10 551.66,348.10 551.89,348.10 552.12,348.10 552.35,348.10 552.58,348.10 552.81,348.10 553.04,348.10 553.27,348.10 553.50,348.10 553.73,348.10 553.96,348.10 554.20,348.10 554.43,348.10 554.66,348.10 554.89,348.10 555.12,348.10 555.35,348.10 555.58,348.10 555.81,348.10 556.04,346.54 556.27,344.98 556.50,343.42 556.73,340.16 556.96,336.04 557.19,331.92 557.42,327.81 557.66,323.69 557.89,319.57 558.12,315.46 558.35,311.34 558.58,307.22 558.81,303.11 559.04,298.99 559.27,294.87 559.50,290.76 559.73,286.64 559.96,282.52 560.19,278.41 560.42,274.29 560.65,270.17 560.89,266.06 561.12,261.94 561.35,257.82 561.58,253.71 561.81,249.59 562.04,245.47 562.27,244.70 562.50,245.60 562.73,246.50 562.96,247.40 563.19,248.52 563.42,250.08 563.65,251.64 563.88,253.20 564.12,254.76 564.35,256.19 564.58,257.36 564.81,258.53 565.04,259.70 565.27,260.87 565.50,262.04 565.73,263.21 565.96,264.10 566.19,264.85 566.42,265.60 566.65,266.35 566.88,267.10 567.11,267.85 567.35,268.60 567.58,269.35 567.81,270.10 568.04,270.90 568.27,271.71 568.50,272.51 568.73,273.31 568.96,274.11 569.19,274.92 569.42,275.72 569.65,276.52 569.88,277.33 570.11,278.13 570.34,278.93 570.57,279.49 570.81,279.92 571.04,280.36 571.27,280.79 571.50,281.22 571.73,281.66 571.96,282.09 572.19,282.52 572.42,282.96 572.65,283.39 572.88,283.82 573.11,284.26 573.34,284.69 573.57,285.12 573.80,285.56 574.04,285.99 574.27,286.42 574.50,286.86 574.73,287.21 574.96,287.53 575.19,287.85 575.42,288.17 575.65,288.50 575.88,288.82 576.11,289.14 576.34,289.46 576.57,289.78 576.80,290.10 577.03,290.42 577.27,290.74 577.50,291.06 577.73,291.38 577.96,291.70 578.19,292.02 578.42,292.34 578.65,292.66 578.88,292.98 579.11,293.19 579.34,293.40 579.57,293.61 579.80,293.82 580.03,294.03 580.26,294.24 580.49,294.45 580.73,294.66 580.96,294.87 581.19,295.08 581.42,295.30 581.65,295.51 581.88,295.72 582.11,295.93 582.34,296.14 582.57,296.35 582.80,296.56 583.03,296.77 583.26,296.98 583.49,297.19 583.72,297.40 583.96,297.52 584.19,297.63 584.42,297.75 584.65,297.87 584.88,297.98 585.11,298.10 585.34,298.22 585.57,298.33 585.80,298.45 586.03,298.57 586.26,298.68 586.49,298.80 586.72,298.92 586.95,299.03 587.19,299.15 587.42,299.26 587.65,299.38 587.88,299.50 588.11,299.61 588.34,299.73 588.57,299.85 588.80,299.96 589.03,300.08 589.26,300.20 589.49,300.31 589.72,300.43 589.95,300.55 590.18,300.66 590.41,300.78 590.65,300.84 590.88,300.90 591.11,300.97 591.34,301.03 591.57,301.09 591.80,301.15 592.03,301.22 592.26,301.28 592.49,301.34 592.72,301.40 592.95,301.47 593.18,301.53 593.41,301.59 593.64,301.65 593.88,301.72 594.11,301.78 594.34,301.84 594.57,301.90 594.80,301.97 595.03,302.03 595.26,302.09 595.49,302.15 595.72,302.22 595.95,302.28 596.18,302.34 596.41,302.40 596.64,302.46 596.87,302.53 597.11,302.59 597.34,302.65 597.57,302.71 597.80,302.78 598.03,302.84 598.26,302.89 598.49,302.93 598.72,302.97 598.95,303.00 599.18,303.04 599.41,303.08 599.64,303.12 599.87,303.16 600.10,303.20 600.34,303.24 600.57,303.28 600.80,303.32 601.03,303.36 601.26,303.40 601.49,303.44 601.72,303.48 601.95,303.52 602.18,303.56 602.41,303.60 602.64,303.64 602.87,303.68 603.10,303.72 603.33,303.76 603.56,303.79 603.80,303.83 604.03,303.87 604.26,303.91 604.49,303.95 604.72,303.99 604.95,304.02 605.18,304.06 605.41,304.09 605.64,304.13 605.87,304.17 606.10,304.20 606.33,304.24 606.56,304.28 606.79,304.31 607.03,304.35 607.26,304.39 607.49,304.42 607.72,304.46 607.95,304.50 608.18,304.53 608.41,304.57 608.64,304.61 608.87,304.64 609.10,304.68 609.33,304.71 609.56,304.75 609.79,304.79 610.02,304.82 610.26,304.86 610.49,304.90 610.72,304.93 610.95,304.97 611.18,305.01 611.41,305.04 611.64,305.08 611.87,305.12 612.10,305.15 612.33,305.19 612.56,305.23 612.79,305.26 613.02,305.30 613.25,305.34 613.49,305.37 613.72,305.41 613.95,305.44 614.18,305.48 614.41,305.52 614.64,305.55 614.87,305.59 615.10,305.63 615.33,305.66 615.56,305.70 615.79,305.74 616.02,305.77 616.25,305.81 616.48,305.85 616.71,305.88 616.95,305.92 617.18,305.96 617.41,305.99 617.64,306.03 617.87,306.06 618.10,306.10 618.33,306.13 618.56,306.17 618.79,306.20 619.02,306.24 619.25,306.27 619.48,306.31 619.71,306.34 619.94,306.38 620.18,306.41 620.41,306.45 620.64,306.48 620.87,306.52 621.10,306.55 621.33,306.59 621.56,306.62 621.79,306.66 622.02,306.69 622.25,306.73 622.48,306.76 622.71,306.80 622.94,306.83 623.17,306.87 623.41,306.90 623.64,306.94 623.87,306.97 624.10,307.01 624.33,307.04 624.56,307.08 624.79,307.11 625.02,307.15 625.25,307.19 625.48,307.22 625.71,307.26 625.94,307.29 626.17,307.33 626.40,307.36 626.63,307.40 626.87,307.43 627.10,307.47 627.33,307.50 627.56,307.54 627.79,307.57 628.02,307.61 628.25,307.64 628.48,307.68 628.71,307.71 628.94,307.75 629.17,307.78 629.40,307.82 629.63,307.85 629.86,307.89 630.10,307.92 630.33,307.96 630.56,307.99 630.79,308.03 631.02,308.06 631.25,308.10 631.48,308.13 631.71,308.17 631.94,308.20 632.17,308.24 632.40,308.27 632.63,308.31 632.86,308.34 633.09,308.37 633.33,308.40 633.56,308.43 633.79,308.47 634.02,308.50 634.25,308.53 634.48,308.56 634.71,308.59 634.94,308.62 635.17,308.65 635.40,308.68 635.63,308.72 635.86,308.75 636.09,308.78 636.32,308.81 636.55,308.84 636.79,308.87 637.02,308.90 637.25,308.93 637.48,308.96 637.71,309.00 637.94,309.03 638.17,309.06 638.40,309.09 638.63,309.12 638.86,309.15 639.09,309.18 639.32,309.21 639.55,309.25 639.78,309.28 640.02,309.31 640.25,309.34 640.48,309.37 640.71,309.40 640.94,309.43 641.17,309.46 641.40,309.50 641.63,309.53 641.86,309.56 642.09,309.59 642.32,309.62 642.55,309.65 642.78,309.68 643.01,309.71 643.25,309.74 643.48,309.78 643.71,309.81 643.94,309.84 644.17,309.87 644.40,309.90 644.63,309.93 644.86,309.96 645.09,309.99 645.32,310.03 645.55,310.06 645.78,310.09 646.01,310.12 646.24,310.15 646.48,310.18 646.71,310.21 646.94,310.24 647.17,310.28 647.40,310.31 647.63,310.34 647.86,310.37 648.09,310.40" fill="none" stroke="#2a8a2a" stroke-width="1.3" stroke-linejoin="round"/>
<line x1="517.60" y1="223.70" x2="613.20" y2="223.70" stroke="#000" stroke-width="1.0"/>
<line x1="517.60" y1="223.20" x2="517.60" y2="355.10" stroke="#000" stroke-width="1.0"/>
<line x1="517.10" y1="354.60" x2="648.60" y2="354.60" stroke="#000" stroke-width="1.0"/>
<line x1="648.10" y1="237.50" x2="648.10" y2="355.10" stroke="#000" stroke-width="1.0"/>
<line x1="525.05" y1="354.60" x2="525.05" y2="358.40" stroke="#000" stroke-width="1.0"/>
<line x1="525.05" y1="223.70" x2="525.05" y2="227.50" stroke="#000" stroke-width="1.0"/>
<line x1="544.27" y1="354.60" x2="544.27" y2="356.60" stroke="#000" stroke-width="1.0"/>
<line x1="544.27" y1="223.70" x2="544.27" y2="225.90" stroke="#000" stroke-width="1.0"/>
<line x1="563.50" y1="354.60" x2="563.50" y2="358.40" stroke="#000" stroke-width="1.0"/>
<line x1="563.50" y1="223.70" x2="563.50" y2="227.50" stroke="#000" stroke-width="1.0"/>
<line x1="582.73" y1="354.60" x2="582.73" y2="356.60" stroke="#000" stroke-width="1.0"/>
<line x1="582.73" y1="223.70" x2="582.73" y2="225.90" stroke="#000" stroke-width="1.0"/>
<line x1="601.95" y1="354.60" x2="601.95" y2="358.40" stroke="#000" stroke-width="1.0"/>
<line x1="601.95" y1="223.70" x2="601.95" y2="227.50" stroke="#000" stroke-width="1.0"/>
<line x1="621.17" y1="354.60" x2="621.17" y2="356.60" stroke="#000" stroke-width="1.0"/>
<line x1="640.40" y1="354.60" x2="640.40" y2="358.40" stroke="#000" stroke-width="1.0"/>
<line x1="514.20" y1="244.10" x2="517.60" y2="244.10" stroke="#000" stroke-width="1.0"/>
<line x1="644.70" y1="244.10" x2="648.10" y2="244.10" stroke="#000" stroke-width="1.0"/>
<line x1="514.20" y1="296.10" x2="517.60" y2="296.10" stroke="#000" stroke-width="1.0"/>
<line x1="644.70" y1="296.10" x2="648.10" y2="296.10" stroke="#000" stroke-width="1.0"/>
<line x1="514.20" y1="348.10" x2="517.60" y2="348.10" stroke="#000" stroke-width="1.0"/>
<line x1="644.70" y1="348.10" x2="648.10" y2="348.10" stroke="#000" stroke-width="1.0"/>
<line x1="515.40" y1="335.10" x2="517.60" y2="335.10" stroke="#000" stroke-width="1.0"/>
<line x1="645.90" y1="335.10" x2="648.10" y2="335.10" stroke="#000" stroke-width="1.0"/>
<line x1="515.40" y1="322.10" x2="517.60" y2="322.10" stroke="#000" stroke-width="1.0"/>
<line x1="645.90" y1="322.10" x2="648.10" y2="322.10" stroke="#000" stroke-width="1.0"/>
<line x1="515.40" y1="309.10" x2="517.60" y2="309.10" stroke="#000" stroke-width="1.0"/>
<line x1="645.90" y1="309.10" x2="648.10" y2="309.10" stroke="#000" stroke-width="1.0"/>
<line x1="515.40" y1="283.10" x2="517.60" y2="283.10" stroke="#000" stroke-width="1.0"/>
<line x1="645.90" y1="283.10" x2="648.10" y2="283.10" stroke="#000" stroke-width="1.0"/>
<line x1="515.40" y1="270.10" x2="517.60" y2="270.10" stroke="#000" stroke-width="1.0"/>
<line x1="645.90" y1="270.10" x2="648.10" y2="270.10" stroke="#000" stroke-width="1.0"/>
<line x1="515.40" y1="257.10" x2="517.60" y2="257.10" stroke="#000" stroke-width="1.0"/>
<line x1="645.90" y1="257.10" x2="648.10" y2="257.10" stroke="#000" stroke-width="1.0"/>
<line x1="515.40" y1="231.10" x2="517.60" y2="231.10" stroke="#000" stroke-width="1.0"/>
<rect x="613.20" y="209.10" width="50.80" height="28.40" fill="#fff" stroke="#b4b4b4" stroke-width="0.9"/>
<polyline points="616.40,225.50 616.90,225.50 617.40,225.49 617.90,225.49 618.40,225.49 618.90,225.48 619.40,225.47 619.90,225.46 620.40,225.44 620.90,225.42 621.40,225.39 621.90,225.34 622.40,225.29 622.90,225.22 623.40,225.13 623.90,225.02 624.40,224.87 624.90,224.70 625.40,224.49 625.90,224.23 626.40,223.92 626.90,223.56 627.40,223.15 627.90,222.67 628.40,222.13 628.90,221.54 629.40,220.88 629.90,220.17 630.40,219.42 630.90,218.63 631.40,217.82 631.90,217.00 632.40,216.20 632.90,215.42 633.40,214.69 633.90,214.03 634.40,213.46 634.90,212.99 635.40,212.63 635.90,212.40 636.40,212.30 636.90,212.34 637.40,212.52 637.90,212.83 638.40,213.26 638.90,213.79 639.40,214.42 639.90,215.12 640.40,215.88 640.90,216.68 641.40,217.49 641.90,218.31 642.40,219.11 642.90,219.87 643.40,220.60 643.90,221.28 644.40,221.90 644.90,222.46 645.40,222.96 645.90,223.40 646.40,223.79 646.90,224.11 647.40,224.39 647.90,224.62 648.40,224.81 648.90,224.96 649.40,225.09 649.90,225.19 650.40,225.26 650.90,225.32 651.40,225.37 651.90,225.41 652.40,225.43 652.90,225.45 653.40,225.47 653.90,225.48 654.40,225.48 654.90,225.49 655.40,225.49 655.90,225.49 656.40,225.50 656.90,225.50 657.40,225.50 657.90,225.50 658.40,225.50" fill="none" stroke="#333" stroke-width="0.8" stroke-linejoin="round"/>
<g stroke="#d88888" stroke-width="1.0" fill="none"><line x1="622.4" y1="217.8" x2="630.9" y2="217.7"/><polyline points="629.3,216.5 630.9,217.7 629.3,218.9"/><line x1="650.8" y1="217.7" x2="642.7" y2="217.7"/><polyline points="644.3,216.5 642.7,217.7 644.3,218.9"/></g>
<text x="617.00" y="231.80" font-size="7.0" text-anchor="start" font-weight="normal" fill="#222" textLength="33.0" lengthAdjust="spacingAndGlyphs">Peak width</text>
<text x="508.20" y="247.80" font-size="10.5" text-anchor="end" font-weight="normal" fill="#000">0.4</text>
<text x="508.20" y="299.80" font-size="10.5" text-anchor="end" font-weight="normal" fill="#000">0.2</text>
<text x="508.20" y="351.80" font-size="10.5" text-anchor="end" font-weight="normal" fill="#000">0.0</text>
<text x="525.05" y="372.90" font-size="10.5" text-anchor="middle" font-weight="normal" fill="#000">–500</text>
<text x="563.50" y="372.90" font-size="10.5" text-anchor="middle" font-weight="normal" fill="#000">0</text>
<text x="601.95" y="372.90" font-size="10.5" text-anchor="middle" font-weight="normal" fill="#000">500</text>
<text x="640.40" y="372.90" font-size="10.5" text-anchor="middle" font-weight="normal" fill="#000">1000</text>
<text x="583.80" y="391.90" font-size="11.3" text-anchor="middle" font-weight="normal" fill="#000">Delay (fs)</text>
<text x="485.00" y="290.90" font-size="11.3" text-anchor="middle" font-weight="normal" fill="#000" transform="rotate(-90 485.00 290.90)">ΔFWHM (eV)</text>
</svg>
</body></html>
